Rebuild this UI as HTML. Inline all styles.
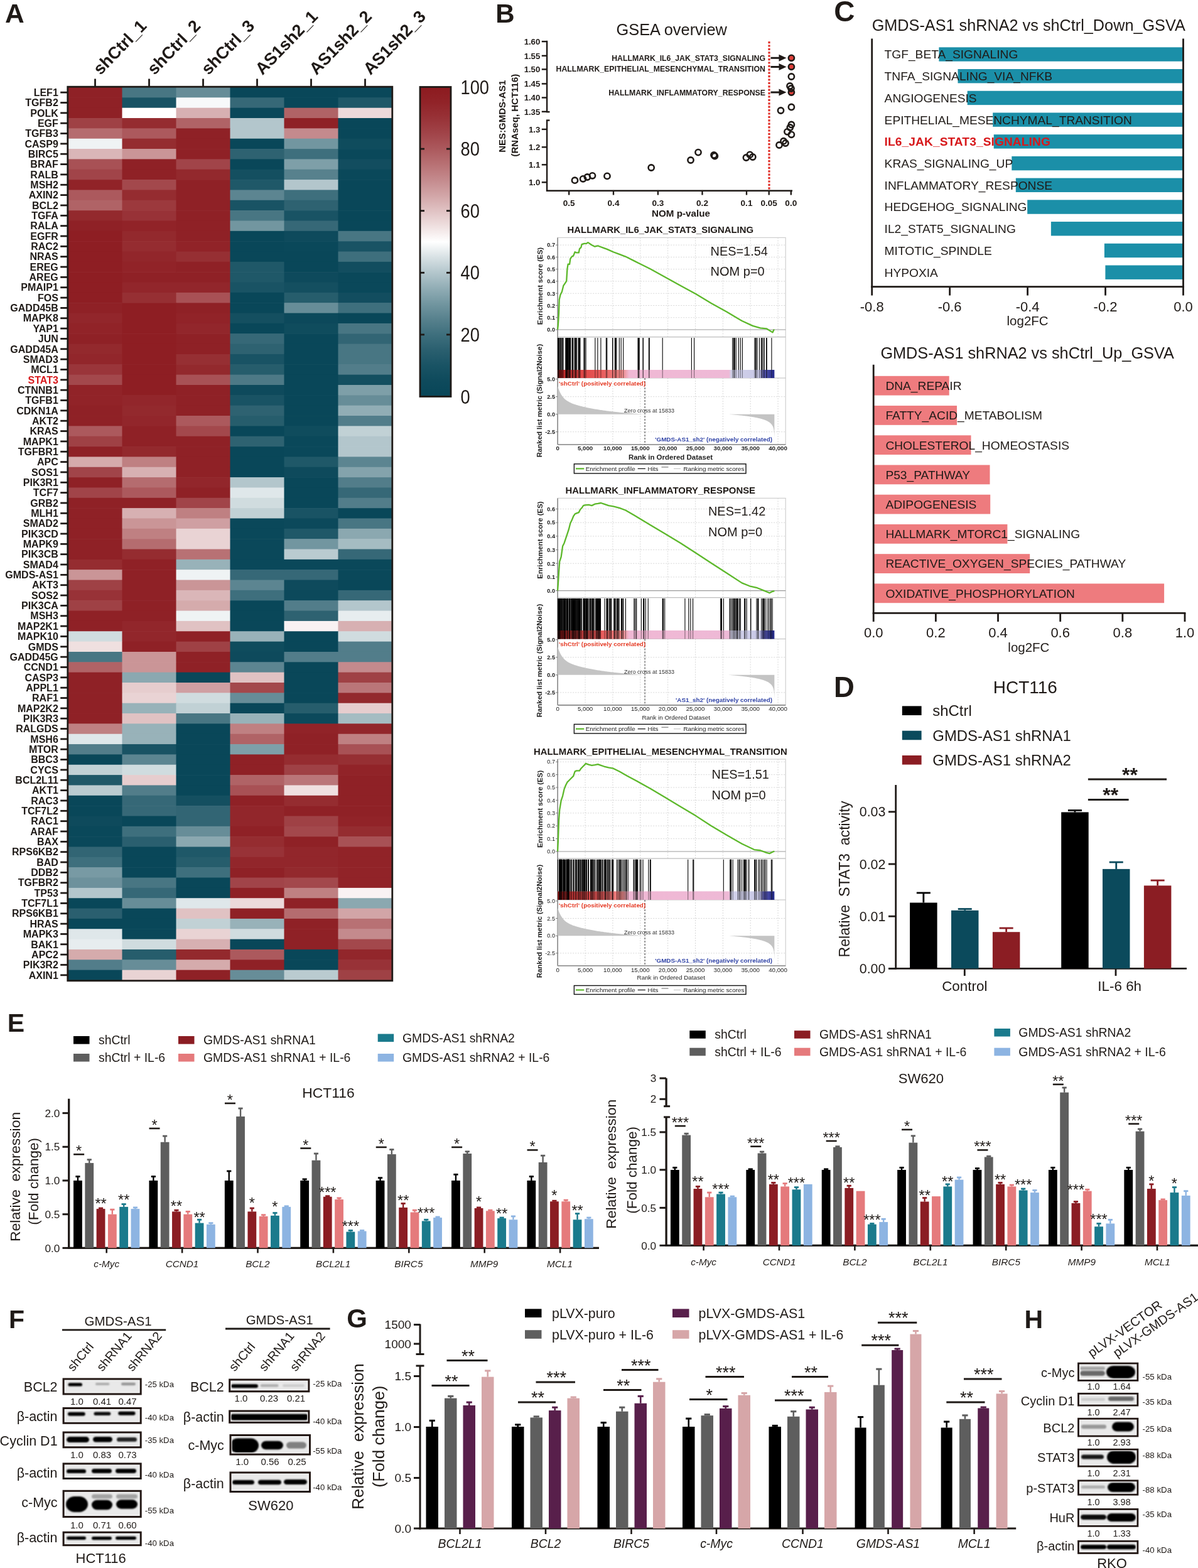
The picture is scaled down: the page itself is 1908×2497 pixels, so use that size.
<!DOCTYPE html>
<html><head><meta charset="utf-8"><title>Figure</title>
<style>
html,body{margin:0;padding:0;background:#fff;}
body{width:1908px;height:2497px;overflow:hidden;}
svg{display:block;font-family:"Liberation Sans",Arial,Helvetica,sans-serif;}
</style></head><body>
<svg width="1908" height="2497" viewBox="0 0 1908 2497" fill="#1f1a17">
<rect x="0" y="0" width="1908" height="2497" fill="#fff"/>
<rect x="108.50" y="139.00" width="86.60" height="16.94" fill="#8f2126"/>
<rect x="194.50" y="139.00" width="86.60" height="16.94" fill="#487683"/>
<rect x="280.50" y="139.00" width="86.60" height="16.94" fill="#678d98"/>
<rect x="366.50" y="139.00" width="86.60" height="16.94" fill="#094759"/>
<rect x="452.50" y="139.00" width="86.60" height="16.94" fill="#094759"/>
<rect x="538.50" y="139.00" width="86.60" height="16.94" fill="#0a485a"/>
<rect x="108.50" y="155.34" width="86.60" height="16.94" fill="#8f2126"/>
<rect x="194.50" y="155.34" width="86.60" height="16.94" fill="#195364"/>
<rect x="280.50" y="155.34" width="86.60" height="16.94" fill="#f7f9fa"/>
<rect x="366.50" y="155.34" width="86.60" height="16.94" fill="#366877"/>
<rect x="452.50" y="155.34" width="86.60" height="16.94" fill="#094759"/>
<rect x="538.50" y="155.34" width="86.60" height="16.94" fill="#1f5868"/>
<rect x="108.50" y="171.69" width="86.60" height="16.94" fill="#8f2126"/>
<rect x="194.50" y="171.69" width="86.60" height="16.94" fill="#ffffff"/>
<rect x="280.50" y="171.69" width="86.60" height="16.94" fill="#d7b0b2"/>
<rect x="366.50" y="171.69" width="86.60" height="16.94" fill="#0a485a"/>
<rect x="452.50" y="171.69" width="86.60" height="16.94" fill="#b06366"/>
<rect x="538.50" y="171.69" width="86.60" height="16.94" fill="#ecd9da"/>
<rect x="108.50" y="188.03" width="86.60" height="16.94" fill="#9f4145"/>
<rect x="194.50" y="188.03" width="86.60" height="16.94" fill="#952c30"/>
<rect x="280.50" y="188.03" width="86.60" height="16.94" fill="#b06366"/>
<rect x="366.50" y="188.03" width="86.60" height="16.94" fill="#b3c6cc"/>
<rect x="452.50" y="188.03" width="86.60" height="16.94" fill="#8f2126"/>
<rect x="538.50" y="188.03" width="86.60" height="16.94" fill="#094759"/>
<rect x="108.50" y="204.38" width="86.60" height="16.94" fill="#b56c6f"/>
<rect x="194.50" y="204.38" width="86.60" height="16.94" fill="#ac595d"/>
<rect x="280.50" y="204.38" width="86.60" height="16.94" fill="#8f2126"/>
<rect x="366.50" y="204.38" width="86.60" height="16.94" fill="#b3c6cc"/>
<rect x="452.50" y="204.38" width="86.60" height="16.94" fill="#c48a8d"/>
<rect x="538.50" y="204.38" width="86.60" height="16.94" fill="#094759"/>
<rect x="108.50" y="220.72" width="86.60" height="16.94" fill="#eff3f4"/>
<rect x="194.50" y="220.72" width="86.60" height="16.94" fill="#952c30"/>
<rect x="280.50" y="220.72" width="86.60" height="16.94" fill="#8f2126"/>
<rect x="366.50" y="220.72" width="86.60" height="16.94" fill="#094759"/>
<rect x="452.50" y="220.72" width="86.60" height="16.94" fill="#7296a0"/>
<rect x="538.50" y="220.72" width="86.60" height="16.94" fill="#0f4c5d"/>
<rect x="108.50" y="237.07" width="86.60" height="16.94" fill="#dab6b8"/>
<rect x="194.50" y="237.07" width="86.60" height="16.94" fill="#ca9597"/>
<rect x="280.50" y="237.07" width="86.60" height="16.94" fill="#8f2126"/>
<rect x="366.50" y="237.07" width="86.60" height="16.94" fill="#2e6271"/>
<rect x="452.50" y="237.07" width="86.60" height="16.94" fill="#3e6f7d"/>
<rect x="538.50" y="237.07" width="86.60" height="16.94" fill="#0a485a"/>
<rect x="108.50" y="253.41" width="86.60" height="16.94" fill="#a85155"/>
<rect x="194.50" y="253.41" width="86.60" height="16.94" fill="#8f2126"/>
<rect x="280.50" y="253.41" width="86.60" height="16.94" fill="#a14449"/>
<rect x="366.50" y="253.41" width="86.60" height="16.94" fill="#094759"/>
<rect x="452.50" y="253.41" width="86.60" height="16.94" fill="#7e9fa8"/>
<rect x="538.50" y="253.41" width="86.60" height="16.94" fill="#124d5f"/>
<rect x="108.50" y="269.76" width="86.60" height="16.94" fill="#a14449"/>
<rect x="194.50" y="269.76" width="86.60" height="16.94" fill="#8f2126"/>
<rect x="280.50" y="269.76" width="86.60" height="16.94" fill="#93292d"/>
<rect x="366.50" y="269.76" width="86.60" height="16.94" fill="#144f60"/>
<rect x="452.50" y="269.76" width="86.60" height="16.94" fill="#57818d"/>
<rect x="538.50" y="269.76" width="86.60" height="16.94" fill="#0a485a"/>
<rect x="108.50" y="286.10" width="86.60" height="16.94" fill="#912328"/>
<rect x="194.50" y="286.10" width="86.60" height="16.94" fill="#a3484c"/>
<rect x="280.50" y="286.10" width="86.60" height="16.94" fill="#8f2126"/>
<rect x="366.50" y="286.10" width="86.60" height="16.94" fill="#1f5868"/>
<rect x="452.50" y="286.10" width="86.60" height="16.94" fill="#b3c6cc"/>
<rect x="538.50" y="286.10" width="86.60" height="16.94" fill="#094759"/>
<rect x="108.50" y="302.45" width="86.60" height="16.94" fill="#ac595d"/>
<rect x="194.50" y="302.45" width="86.60" height="16.94" fill="#952c30"/>
<rect x="280.50" y="302.45" width="86.60" height="16.94" fill="#8f2126"/>
<rect x="366.50" y="302.45" width="86.60" height="16.94" fill="#5c8591"/>
<rect x="452.50" y="302.45" width="86.60" height="16.94" fill="#3e6f7d"/>
<rect x="538.50" y="302.45" width="86.60" height="16.94" fill="#094759"/>
<rect x="108.50" y="318.79" width="86.60" height="16.94" fill="#b06366"/>
<rect x="194.50" y="318.79" width="86.60" height="16.94" fill="#9c393d"/>
<rect x="280.50" y="318.79" width="86.60" height="16.94" fill="#8f2126"/>
<rect x="366.50" y="318.79" width="86.60" height="16.94" fill="#195364"/>
<rect x="452.50" y="318.79" width="86.60" height="16.94" fill="#2e6271"/>
<rect x="538.50" y="318.79" width="86.60" height="16.94" fill="#094759"/>
<rect x="108.50" y="335.14" width="86.60" height="16.94" fill="#93292d"/>
<rect x="194.50" y="335.14" width="86.60" height="16.94" fill="#983237"/>
<rect x="280.50" y="335.14" width="86.60" height="16.94" fill="#8f2126"/>
<rect x="366.50" y="335.14" width="86.60" height="16.94" fill="#487683"/>
<rect x="452.50" y="335.14" width="86.60" height="16.94" fill="#195364"/>
<rect x="538.50" y="335.14" width="86.60" height="16.94" fill="#094759"/>
<rect x="108.50" y="351.48" width="86.60" height="16.94" fill="#8f2126"/>
<rect x="194.50" y="351.48" width="86.60" height="16.94" fill="#912328"/>
<rect x="280.50" y="351.48" width="86.60" height="16.94" fill="#8f2126"/>
<rect x="366.50" y="351.48" width="86.60" height="16.94" fill="#7296a0"/>
<rect x="452.50" y="351.48" width="86.60" height="16.94" fill="#366877"/>
<rect x="538.50" y="351.48" width="86.60" height="16.94" fill="#094759"/>
<rect x="108.50" y="367.83" width="86.60" height="16.94" fill="#8e1e23"/>
<rect x="194.50" y="367.83" width="86.60" height="16.94" fill="#93292d"/>
<rect x="280.50" y="367.83" width="86.60" height="16.94" fill="#8f2126"/>
<rect x="366.50" y="367.83" width="86.60" height="16.94" fill="#094759"/>
<rect x="452.50" y="367.83" width="86.60" height="16.94" fill="#0e4a5c"/>
<rect x="538.50" y="367.83" width="86.60" height="16.94" fill="#487683"/>
<rect x="108.50" y="384.17" width="86.60" height="16.94" fill="#8e1e23"/>
<rect x="194.50" y="384.17" width="86.60" height="16.94" fill="#952c30"/>
<rect x="280.50" y="384.17" width="86.60" height="16.94" fill="#912328"/>
<rect x="366.50" y="384.17" width="86.60" height="16.94" fill="#094759"/>
<rect x="452.50" y="384.17" width="86.60" height="16.94" fill="#0a485a"/>
<rect x="538.50" y="384.17" width="86.60" height="16.94" fill="#195364"/>
<rect x="108.50" y="400.52" width="86.60" height="16.94" fill="#8e1e23"/>
<rect x="194.50" y="400.52" width="86.60" height="16.94" fill="#92262b"/>
<rect x="280.50" y="400.52" width="86.60" height="16.94" fill="#962f33"/>
<rect x="366.50" y="400.52" width="86.60" height="16.94" fill="#094759"/>
<rect x="452.50" y="400.52" width="86.60" height="16.94" fill="#094759"/>
<rect x="538.50" y="400.52" width="86.60" height="16.94" fill="#3e6f7d"/>
<rect x="108.50" y="416.86" width="86.60" height="16.94" fill="#8e1e23"/>
<rect x="194.50" y="416.86" width="86.60" height="16.94" fill="#912328"/>
<rect x="280.50" y="416.86" width="86.60" height="16.94" fill="#8f2126"/>
<rect x="366.50" y="416.86" width="86.60" height="16.94" fill="#1f5868"/>
<rect x="452.50" y="416.86" width="86.60" height="16.94" fill="#094759"/>
<rect x="538.50" y="416.86" width="86.60" height="16.94" fill="#124d5f"/>
<rect x="108.50" y="433.21" width="86.60" height="16.94" fill="#8e1e23"/>
<rect x="194.50" y="433.21" width="86.60" height="16.94" fill="#8f2126"/>
<rect x="280.50" y="433.21" width="86.60" height="16.94" fill="#8f2126"/>
<rect x="366.50" y="433.21" width="86.60" height="16.94" fill="#1f5868"/>
<rect x="452.50" y="433.21" width="86.60" height="16.94" fill="#0e4a5c"/>
<rect x="538.50" y="433.21" width="86.60" height="16.94" fill="#0a485a"/>
<rect x="108.50" y="449.55" width="86.60" height="16.94" fill="#8e1e23"/>
<rect x="194.50" y="449.55" width="86.60" height="16.94" fill="#92262b"/>
<rect x="280.50" y="449.55" width="86.60" height="16.94" fill="#92262b"/>
<rect x="366.50" y="449.55" width="86.60" height="16.94" fill="#195364"/>
<rect x="452.50" y="449.55" width="86.60" height="16.94" fill="#144f60"/>
<rect x="538.50" y="449.55" width="86.60" height="16.94" fill="#0a485a"/>
<rect x="108.50" y="465.90" width="86.60" height="16.94" fill="#8e1e23"/>
<rect x="194.50" y="465.90" width="86.60" height="16.94" fill="#962f33"/>
<rect x="280.50" y="465.90" width="86.60" height="16.94" fill="#a85155"/>
<rect x="366.50" y="465.90" width="86.60" height="16.94" fill="#094759"/>
<rect x="452.50" y="465.90" width="86.60" height="16.94" fill="#265d6c"/>
<rect x="538.50" y="465.90" width="86.60" height="16.94" fill="#124d5f"/>
<rect x="108.50" y="482.24" width="86.60" height="16.94" fill="#8f2126"/>
<rect x="194.50" y="482.24" width="86.60" height="16.94" fill="#8e1e23"/>
<rect x="280.50" y="482.24" width="86.60" height="16.94" fill="#8f2126"/>
<rect x="366.50" y="482.24" width="86.60" height="16.94" fill="#094759"/>
<rect x="452.50" y="482.24" width="86.60" height="16.94" fill="#678d98"/>
<rect x="538.50" y="482.24" width="86.60" height="16.94" fill="#3e6f7d"/>
<rect x="108.50" y="498.59" width="86.60" height="16.94" fill="#92262b"/>
<rect x="194.50" y="498.59" width="86.60" height="16.94" fill="#8e1e23"/>
<rect x="280.50" y="498.59" width="86.60" height="16.94" fill="#912328"/>
<rect x="366.50" y="498.59" width="86.60" height="16.94" fill="#144f60"/>
<rect x="452.50" y="498.59" width="86.60" height="16.94" fill="#0c495b"/>
<rect x="538.50" y="498.59" width="86.60" height="16.94" fill="#094759"/>
<rect x="108.50" y="514.93" width="86.60" height="16.94" fill="#912328"/>
<rect x="194.50" y="514.93" width="86.60" height="16.94" fill="#8e1e23"/>
<rect x="280.50" y="514.93" width="86.60" height="16.94" fill="#92262b"/>
<rect x="366.50" y="514.93" width="86.60" height="16.94" fill="#094759"/>
<rect x="452.50" y="514.93" width="86.60" height="16.94" fill="#0f4c5d"/>
<rect x="538.50" y="514.93" width="86.60" height="16.94" fill="#487683"/>
<rect x="108.50" y="531.28" width="86.60" height="16.94" fill="#8f2126"/>
<rect x="194.50" y="531.28" width="86.60" height="16.94" fill="#8e1e23"/>
<rect x="280.50" y="531.28" width="86.60" height="16.94" fill="#8f2126"/>
<rect x="366.50" y="531.28" width="86.60" height="16.94" fill="#366877"/>
<rect x="452.50" y="531.28" width="86.60" height="16.94" fill="#094759"/>
<rect x="538.50" y="531.28" width="86.60" height="16.94" fill="#326574"/>
<rect x="108.50" y="547.62" width="86.60" height="16.94" fill="#93292d"/>
<rect x="194.50" y="547.62" width="86.60" height="16.94" fill="#8e1e23"/>
<rect x="280.50" y="547.62" width="86.60" height="16.94" fill="#8f2126"/>
<rect x="366.50" y="547.62" width="86.60" height="16.94" fill="#2e6271"/>
<rect x="452.50" y="547.62" width="86.60" height="16.94" fill="#094759"/>
<rect x="538.50" y="547.62" width="86.60" height="16.94" fill="#487683"/>
<rect x="108.50" y="563.97" width="86.60" height="16.94" fill="#92262b"/>
<rect x="194.50" y="563.97" width="86.60" height="16.94" fill="#8e1e23"/>
<rect x="280.50" y="563.97" width="86.60" height="16.94" fill="#962f33"/>
<rect x="366.50" y="563.97" width="86.60" height="16.94" fill="#195364"/>
<rect x="452.50" y="563.97" width="86.60" height="16.94" fill="#094759"/>
<rect x="538.50" y="563.97" width="86.60" height="16.94" fill="#487683"/>
<rect x="108.50" y="580.31" width="86.60" height="16.94" fill="#9a353a"/>
<rect x="194.50" y="580.31" width="86.60" height="16.94" fill="#8e1e23"/>
<rect x="280.50" y="580.31" width="86.60" height="16.94" fill="#93292d"/>
<rect x="366.50" y="580.31" width="86.60" height="16.94" fill="#265d6c"/>
<rect x="452.50" y="580.31" width="86.60" height="16.94" fill="#094759"/>
<rect x="538.50" y="580.31" width="86.60" height="16.94" fill="#527d8a"/>
<rect x="108.50" y="596.66" width="86.60" height="16.94" fill="#a3484c"/>
<rect x="194.50" y="596.66" width="86.60" height="16.94" fill="#8e1e23"/>
<rect x="280.50" y="596.66" width="86.60" height="16.94" fill="#a85155"/>
<rect x="366.50" y="596.66" width="86.60" height="16.94" fill="#4d7986"/>
<rect x="452.50" y="596.66" width="86.60" height="16.94" fill="#094759"/>
<rect x="538.50" y="596.66" width="86.60" height="16.94" fill="#144f60"/>
<rect x="108.50" y="613.00" width="86.60" height="16.94" fill="#912328"/>
<rect x="194.50" y="613.00" width="86.60" height="16.94" fill="#8e1e23"/>
<rect x="280.50" y="613.00" width="86.60" height="16.94" fill="#8f2126"/>
<rect x="366.50" y="613.00" width="86.60" height="16.94" fill="#0e4a5c"/>
<rect x="452.50" y="613.00" width="86.60" height="16.94" fill="#094759"/>
<rect x="538.50" y="613.00" width="86.60" height="16.94" fill="#7e9fa8"/>
<rect x="108.50" y="629.34" width="86.60" height="16.94" fill="#912328"/>
<rect x="194.50" y="629.34" width="86.60" height="16.94" fill="#92262b"/>
<rect x="280.50" y="629.34" width="86.60" height="16.94" fill="#8f2126"/>
<rect x="366.50" y="629.34" width="86.60" height="16.94" fill="#195364"/>
<rect x="452.50" y="629.34" width="86.60" height="16.94" fill="#094759"/>
<rect x="538.50" y="629.34" width="86.60" height="16.94" fill="#678d98"/>
<rect x="108.50" y="645.69" width="86.60" height="16.94" fill="#8f2126"/>
<rect x="194.50" y="645.69" width="86.60" height="16.94" fill="#93292d"/>
<rect x="280.50" y="645.69" width="86.60" height="16.94" fill="#8f2126"/>
<rect x="366.50" y="645.69" width="86.60" height="16.94" fill="#2e6271"/>
<rect x="452.50" y="645.69" width="86.60" height="16.94" fill="#094759"/>
<rect x="538.50" y="645.69" width="86.60" height="16.94" fill="#91adb5"/>
<rect x="108.50" y="662.03" width="86.60" height="16.94" fill="#8f2126"/>
<rect x="194.50" y="662.03" width="86.60" height="16.94" fill="#92262b"/>
<rect x="280.50" y="662.03" width="86.60" height="16.94" fill="#ac595d"/>
<rect x="366.50" y="662.03" width="86.60" height="16.94" fill="#265d6c"/>
<rect x="452.50" y="662.03" width="86.60" height="16.94" fill="#094759"/>
<rect x="538.50" y="662.03" width="86.60" height="16.94" fill="#527d8a"/>
<rect x="108.50" y="678.38" width="86.60" height="16.94" fill="#ac595d"/>
<rect x="194.50" y="678.38" width="86.60" height="16.94" fill="#8f2126"/>
<rect x="280.50" y="678.38" width="86.60" height="16.94" fill="#a3484c"/>
<rect x="366.50" y="678.38" width="86.60" height="16.94" fill="#094759"/>
<rect x="452.50" y="678.38" width="86.60" height="16.94" fill="#0f4c5d"/>
<rect x="538.50" y="678.38" width="86.60" height="16.94" fill="#c1d1d5"/>
<rect x="108.50" y="694.72" width="86.60" height="16.94" fill="#9f4145"/>
<rect x="194.50" y="694.72" width="86.60" height="16.94" fill="#8f2126"/>
<rect x="280.50" y="694.72" width="86.60" height="16.94" fill="#8f2126"/>
<rect x="366.50" y="694.72" width="86.60" height="16.94" fill="#2e6271"/>
<rect x="452.50" y="694.72" width="86.60" height="16.94" fill="#0a485a"/>
<rect x="538.50" y="694.72" width="86.60" height="16.94" fill="#b3c6cc"/>
<rect x="108.50" y="711.07" width="86.60" height="16.94" fill="#8f2126"/>
<rect x="194.50" y="711.07" width="86.60" height="16.94" fill="#93292d"/>
<rect x="280.50" y="711.07" width="86.60" height="16.94" fill="#8f2126"/>
<rect x="366.50" y="711.07" width="86.60" height="16.94" fill="#094759"/>
<rect x="452.50" y="711.07" width="86.60" height="16.94" fill="#0a485a"/>
<rect x="538.50" y="711.07" width="86.60" height="16.94" fill="#b3c6cc"/>
<rect x="108.50" y="727.41" width="86.60" height="16.94" fill="#d5abac"/>
<rect x="194.50" y="727.41" width="86.60" height="16.94" fill="#bf8082"/>
<rect x="280.50" y="727.41" width="86.60" height="16.94" fill="#8f2126"/>
<rect x="366.50" y="727.41" width="86.60" height="16.94" fill="#094759"/>
<rect x="452.50" y="727.41" width="86.60" height="16.94" fill="#1f5868"/>
<rect x="538.50" y="727.41" width="86.60" height="16.94" fill="#5c8591"/>
<rect x="108.50" y="743.76" width="86.60" height="16.94" fill="#a14449"/>
<rect x="194.50" y="743.76" width="86.60" height="16.94" fill="#d7b0b2"/>
<rect x="280.50" y="743.76" width="86.60" height="16.94" fill="#8f2126"/>
<rect x="366.50" y="743.76" width="86.60" height="16.94" fill="#094759"/>
<rect x="452.50" y="743.76" width="86.60" height="16.94" fill="#0e4a5c"/>
<rect x="538.50" y="743.76" width="86.60" height="16.94" fill="#84a3ac"/>
<rect x="108.50" y="760.10" width="86.60" height="16.94" fill="#8f2126"/>
<rect x="194.50" y="760.10" width="86.60" height="16.94" fill="#b56c6f"/>
<rect x="280.50" y="760.10" width="86.60" height="16.94" fill="#92262b"/>
<rect x="366.50" y="760.10" width="86.60" height="16.94" fill="#b3c6cc"/>
<rect x="452.50" y="760.10" width="86.60" height="16.94" fill="#094759"/>
<rect x="538.50" y="760.10" width="86.60" height="16.94" fill="#527d8a"/>
<rect x="108.50" y="776.45" width="86.60" height="16.94" fill="#a14449"/>
<rect x="194.50" y="776.45" width="86.60" height="16.94" fill="#ac595d"/>
<rect x="280.50" y="776.45" width="86.60" height="16.94" fill="#8f2126"/>
<rect x="366.50" y="776.45" width="86.60" height="16.94" fill="#dfe7ea"/>
<rect x="452.50" y="776.45" width="86.60" height="16.94" fill="#094759"/>
<rect x="538.50" y="776.45" width="86.60" height="16.94" fill="#366877"/>
<rect x="108.50" y="792.79" width="86.60" height="16.94" fill="#8f2126"/>
<rect x="194.50" y="792.79" width="86.60" height="16.94" fill="#8f2126"/>
<rect x="280.50" y="792.79" width="86.60" height="16.94" fill="#a14449"/>
<rect x="366.50" y="792.79" width="86.60" height="16.94" fill="#d0dcdf"/>
<rect x="452.50" y="792.79" width="86.60" height="16.94" fill="#094759"/>
<rect x="538.50" y="792.79" width="86.60" height="16.94" fill="#527d8a"/>
<rect x="108.50" y="809.14" width="86.60" height="16.94" fill="#8f2126"/>
<rect x="194.50" y="809.14" width="86.60" height="16.94" fill="#d7b0b2"/>
<rect x="280.50" y="809.14" width="86.60" height="16.94" fill="#bf8082"/>
<rect x="366.50" y="809.14" width="86.60" height="16.94" fill="#c1d1d5"/>
<rect x="452.50" y="809.14" width="86.60" height="16.94" fill="#195364"/>
<rect x="538.50" y="809.14" width="86.60" height="16.94" fill="#094759"/>
<rect x="108.50" y="825.48" width="86.60" height="16.94" fill="#8f2126"/>
<rect x="194.50" y="825.48" width="86.60" height="16.94" fill="#ca9597"/>
<rect x="280.50" y="825.48" width="86.60" height="16.94" fill="#cf9fa2"/>
<rect x="366.50" y="825.48" width="86.60" height="16.94" fill="#0a485a"/>
<rect x="452.50" y="825.48" width="86.60" height="16.94" fill="#0c495b"/>
<rect x="538.50" y="825.48" width="86.60" height="16.94" fill="#487683"/>
<rect x="108.50" y="841.83" width="86.60" height="16.94" fill="#8f2126"/>
<rect x="194.50" y="841.83" width="86.60" height="16.94" fill="#bf8082"/>
<rect x="280.50" y="841.83" width="86.60" height="16.94" fill="#e9d3d4"/>
<rect x="366.50" y="841.83" width="86.60" height="16.94" fill="#0a485a"/>
<rect x="452.50" y="841.83" width="86.60" height="16.94" fill="#1f5868"/>
<rect x="538.50" y="841.83" width="86.60" height="16.94" fill="#8ba8b0"/>
<rect x="108.50" y="858.17" width="86.60" height="16.94" fill="#8f2126"/>
<rect x="194.50" y="858.17" width="86.60" height="16.94" fill="#b56c6f"/>
<rect x="280.50" y="858.17" width="86.60" height="16.94" fill="#e9d3d4"/>
<rect x="366.50" y="858.17" width="86.60" height="16.94" fill="#0a485a"/>
<rect x="452.50" y="858.17" width="86.60" height="16.94" fill="#7296a0"/>
<rect x="538.50" y="858.17" width="86.60" height="16.94" fill="#a5bcc2"/>
<rect x="108.50" y="874.52" width="86.60" height="16.94" fill="#8f2126"/>
<rect x="194.50" y="874.52" width="86.60" height="16.94" fill="#952c30"/>
<rect x="280.50" y="874.52" width="86.60" height="16.94" fill="#b87174"/>
<rect x="366.50" y="874.52" width="86.60" height="16.94" fill="#0a485a"/>
<rect x="452.50" y="874.52" width="86.60" height="16.94" fill="#bacbd0"/>
<rect x="538.50" y="874.52" width="86.60" height="16.94" fill="#366877"/>
<rect x="108.50" y="890.86" width="86.60" height="16.94" fill="#952c30"/>
<rect x="194.50" y="890.86" width="86.60" height="16.94" fill="#8f2126"/>
<rect x="280.50" y="890.86" width="86.60" height="16.94" fill="#98b2b9"/>
<rect x="366.50" y="890.86" width="86.60" height="16.94" fill="#0a485a"/>
<rect x="452.50" y="890.86" width="86.60" height="16.94" fill="#0a485a"/>
<rect x="538.50" y="890.86" width="86.60" height="16.94" fill="#0a485a"/>
<rect x="108.50" y="907.21" width="86.60" height="16.94" fill="#ca9597"/>
<rect x="194.50" y="907.21" width="86.60" height="16.94" fill="#8f2126"/>
<rect x="280.50" y="907.21" width="86.60" height="16.94" fill="#eff3f4"/>
<rect x="366.50" y="907.21" width="86.60" height="16.94" fill="#366877"/>
<rect x="452.50" y="907.21" width="86.60" height="16.94" fill="#366877"/>
<rect x="538.50" y="907.21" width="86.60" height="16.94" fill="#0a485a"/>
<rect x="108.50" y="923.55" width="86.60" height="16.94" fill="#9f4145"/>
<rect x="194.50" y="923.55" width="86.60" height="16.94" fill="#8f2126"/>
<rect x="280.50" y="923.55" width="86.60" height="16.94" fill="#ca9597"/>
<rect x="366.50" y="923.55" width="86.60" height="16.94" fill="#5c8591"/>
<rect x="452.50" y="923.55" width="86.60" height="16.94" fill="#0e4a5c"/>
<rect x="538.50" y="923.55" width="86.60" height="16.94" fill="#094759"/>
<rect x="108.50" y="939.90" width="86.60" height="16.94" fill="#983237"/>
<rect x="194.50" y="939.90" width="86.60" height="16.94" fill="#8f2126"/>
<rect x="280.50" y="939.90" width="86.60" height="16.94" fill="#dab6b8"/>
<rect x="366.50" y="939.90" width="86.60" height="16.94" fill="#3e6f7d"/>
<rect x="452.50" y="939.90" width="86.60" height="16.94" fill="#0c495b"/>
<rect x="538.50" y="939.90" width="86.60" height="16.94" fill="#366877"/>
<rect x="108.50" y="956.24" width="86.60" height="16.94" fill="#9f4145"/>
<rect x="194.50" y="956.24" width="86.60" height="16.94" fill="#8f2126"/>
<rect x="280.50" y="956.24" width="86.60" height="16.94" fill="#d5abac"/>
<rect x="366.50" y="956.24" width="86.60" height="16.94" fill="#094759"/>
<rect x="452.50" y="956.24" width="86.60" height="16.94" fill="#527d8a"/>
<rect x="538.50" y="956.24" width="86.60" height="16.94" fill="#b3c6cc"/>
<rect x="108.50" y="972.59" width="86.60" height="16.94" fill="#8f2126"/>
<rect x="194.50" y="972.59" width="86.60" height="16.94" fill="#8f2126"/>
<rect x="280.50" y="972.59" width="86.60" height="16.94" fill="#eff3f4"/>
<rect x="366.50" y="972.59" width="86.60" height="16.94" fill="#094759"/>
<rect x="452.50" y="972.59" width="86.60" height="16.94" fill="#2e6271"/>
<rect x="538.50" y="972.59" width="86.60" height="16.94" fill="#e7edef"/>
<rect x="108.50" y="988.93" width="86.60" height="16.94" fill="#8f2126"/>
<rect x="194.50" y="988.93" width="86.60" height="16.94" fill="#92262b"/>
<rect x="280.50" y="988.93" width="86.60" height="16.94" fill="#e0c2c3"/>
<rect x="366.50" y="988.93" width="86.60" height="16.94" fill="#094759"/>
<rect x="452.50" y="988.93" width="86.60" height="16.94" fill="#f9f2f3"/>
<rect x="538.50" y="988.93" width="86.60" height="16.94" fill="#d7b0b2"/>
<rect x="108.50" y="1005.28" width="86.60" height="16.94" fill="#d0dcdf"/>
<rect x="194.50" y="1005.28" width="86.60" height="16.94" fill="#92262b"/>
<rect x="280.50" y="1005.28" width="86.60" height="16.94" fill="#8f2126"/>
<rect x="366.50" y="1005.28" width="86.60" height="16.94" fill="#98b2b9"/>
<rect x="452.50" y="1005.28" width="86.60" height="16.94" fill="#094759"/>
<rect x="538.50" y="1005.28" width="86.60" height="16.94" fill="#d0dcdf"/>
<rect x="108.50" y="1021.62" width="86.60" height="16.94" fill="#efe0e0"/>
<rect x="194.50" y="1021.62" width="86.60" height="16.94" fill="#8f2126"/>
<rect x="280.50" y="1021.62" width="86.60" height="16.94" fill="#9f4145"/>
<rect x="366.50" y="1021.62" width="86.60" height="16.94" fill="#0f4c5d"/>
<rect x="452.50" y="1021.62" width="86.60" height="16.94" fill="#094759"/>
<rect x="538.50" y="1021.62" width="86.60" height="16.94" fill="#527d8a"/>
<rect x="108.50" y="1037.97" width="86.60" height="16.94" fill="#487683"/>
<rect x="194.50" y="1037.97" width="86.60" height="16.94" fill="#ca9597"/>
<rect x="280.50" y="1037.97" width="86.60" height="16.94" fill="#8f2126"/>
<rect x="366.50" y="1037.97" width="86.60" height="16.94" fill="#0e4a5c"/>
<rect x="452.50" y="1037.97" width="86.60" height="16.94" fill="#527d8a"/>
<rect x="538.50" y="1037.97" width="86.60" height="16.94" fill="#527d8a"/>
<rect x="108.50" y="1054.31" width="86.60" height="16.94" fill="#b06366"/>
<rect x="194.50" y="1054.31" width="86.60" height="16.94" fill="#ca9597"/>
<rect x="280.50" y="1054.31" width="86.60" height="16.94" fill="#8f2126"/>
<rect x="366.50" y="1054.31" width="86.60" height="16.94" fill="#5c8591"/>
<rect x="452.50" y="1054.31" width="86.60" height="16.94" fill="#094759"/>
<rect x="538.50" y="1054.31" width="86.60" height="16.94" fill="#c48a8d"/>
<rect x="108.50" y="1070.66" width="86.60" height="16.94" fill="#8f2126"/>
<rect x="194.50" y="1070.66" width="86.60" height="16.94" fill="#8ba8b0"/>
<rect x="280.50" y="1070.66" width="86.60" height="16.94" fill="#094759"/>
<rect x="366.50" y="1070.66" width="86.60" height="16.94" fill="#e0c2c3"/>
<rect x="452.50" y="1070.66" width="86.60" height="16.94" fill="#094759"/>
<rect x="538.50" y="1070.66" width="86.60" height="16.94" fill="#9f4145"/>
<rect x="108.50" y="1087.00" width="86.60" height="16.94" fill="#8f2126"/>
<rect x="194.50" y="1087.00" width="86.60" height="16.94" fill="#e6cdce"/>
<rect x="280.50" y="1087.00" width="86.60" height="16.94" fill="#cf9fa2"/>
<rect x="366.50" y="1087.00" width="86.60" height="16.94" fill="#a3484c"/>
<rect x="452.50" y="1087.00" width="86.60" height="16.94" fill="#094759"/>
<rect x="538.50" y="1087.00" width="86.60" height="16.94" fill="#ba7679"/>
<rect x="108.50" y="1103.34" width="86.60" height="16.94" fill="#8f2126"/>
<rect x="194.50" y="1103.34" width="86.60" height="16.94" fill="#e9d3d4"/>
<rect x="280.50" y="1103.34" width="86.60" height="16.94" fill="#d0dcdf"/>
<rect x="366.50" y="1103.34" width="86.60" height="16.94" fill="#678d98"/>
<rect x="452.50" y="1103.34" width="86.60" height="16.94" fill="#094759"/>
<rect x="538.50" y="1103.34" width="86.60" height="16.94" fill="#93292d"/>
<rect x="108.50" y="1119.69" width="86.60" height="16.94" fill="#8f2126"/>
<rect x="194.50" y="1119.69" width="86.60" height="16.94" fill="#98b2b9"/>
<rect x="280.50" y="1119.69" width="86.60" height="16.94" fill="#c1d1d5"/>
<rect x="366.50" y="1119.69" width="86.60" height="16.94" fill="#094759"/>
<rect x="452.50" y="1119.69" width="86.60" height="16.94" fill="#265d6c"/>
<rect x="538.50" y="1119.69" width="86.60" height="16.94" fill="#e6cdce"/>
<rect x="108.50" y="1136.03" width="86.60" height="16.94" fill="#8f2126"/>
<rect x="194.50" y="1136.03" width="86.60" height="16.94" fill="#e0c2c3"/>
<rect x="280.50" y="1136.03" width="86.60" height="16.94" fill="#487683"/>
<rect x="366.50" y="1136.03" width="86.60" height="16.94" fill="#98b2b9"/>
<rect x="452.50" y="1136.03" width="86.60" height="16.94" fill="#0c495b"/>
<rect x="538.50" y="1136.03" width="86.60" height="16.94" fill="#a5bcc2"/>
<rect x="108.50" y="1152.38" width="86.60" height="16.94" fill="#bf8082"/>
<rect x="194.50" y="1152.38" width="86.60" height="16.94" fill="#98b2b9"/>
<rect x="280.50" y="1152.38" width="86.60" height="16.94" fill="#094759"/>
<rect x="366.50" y="1152.38" width="86.60" height="16.94" fill="#bf8082"/>
<rect x="452.50" y="1152.38" width="86.60" height="16.94" fill="#912328"/>
<rect x="538.50" y="1152.38" width="86.60" height="16.94" fill="#92262b"/>
<rect x="108.50" y="1168.72" width="86.60" height="16.94" fill="#dfe7ea"/>
<rect x="194.50" y="1168.72" width="86.60" height="16.94" fill="#98b2b9"/>
<rect x="280.50" y="1168.72" width="86.60" height="16.94" fill="#094759"/>
<rect x="366.50" y="1168.72" width="86.60" height="16.94" fill="#b06366"/>
<rect x="452.50" y="1168.72" width="86.60" height="16.94" fill="#8f2126"/>
<rect x="538.50" y="1168.72" width="86.60" height="16.94" fill="#bf8082"/>
<rect x="108.50" y="1185.07" width="86.60" height="16.94" fill="#527d8a"/>
<rect x="194.50" y="1185.07" width="86.60" height="16.94" fill="#195364"/>
<rect x="280.50" y="1185.07" width="86.60" height="16.94" fill="#094759"/>
<rect x="366.50" y="1185.07" width="86.60" height="16.94" fill="#7e9fa8"/>
<rect x="452.50" y="1185.07" width="86.60" height="16.94" fill="#8f2126"/>
<rect x="538.50" y="1185.07" width="86.60" height="16.94" fill="#a85155"/>
<rect x="108.50" y="1201.41" width="86.60" height="16.94" fill="#094759"/>
<rect x="194.50" y="1201.41" width="86.60" height="16.94" fill="#5c8591"/>
<rect x="280.50" y="1201.41" width="86.60" height="16.94" fill="#094759"/>
<rect x="366.50" y="1201.41" width="86.60" height="16.94" fill="#8f2126"/>
<rect x="452.50" y="1201.41" width="86.60" height="16.94" fill="#952c30"/>
<rect x="538.50" y="1201.41" width="86.60" height="16.94" fill="#962f33"/>
<rect x="108.50" y="1217.76" width="86.60" height="16.94" fill="#c1d1d5"/>
<rect x="194.50" y="1217.76" width="86.60" height="16.94" fill="#d0dcdf"/>
<rect x="280.50" y="1217.76" width="86.60" height="16.94" fill="#094759"/>
<rect x="366.50" y="1217.76" width="86.60" height="16.94" fill="#8f2126"/>
<rect x="452.50" y="1217.76" width="86.60" height="16.94" fill="#9f4145"/>
<rect x="538.50" y="1217.76" width="86.60" height="16.94" fill="#912328"/>
<rect x="108.50" y="1234.10" width="86.60" height="16.94" fill="#1f5868"/>
<rect x="194.50" y="1234.10" width="86.60" height="16.94" fill="#e6cdce"/>
<rect x="280.50" y="1234.10" width="86.60" height="16.94" fill="#094759"/>
<rect x="366.50" y="1234.10" width="86.60" height="16.94" fill="#b06366"/>
<rect x="452.50" y="1234.10" width="86.60" height="16.94" fill="#ba7679"/>
<rect x="538.50" y="1234.10" width="86.60" height="16.94" fill="#8f2126"/>
<rect x="108.50" y="1250.45" width="86.60" height="16.94" fill="#bacbd0"/>
<rect x="194.50" y="1250.45" width="86.60" height="16.94" fill="#527d8a"/>
<rect x="280.50" y="1250.45" width="86.60" height="16.94" fill="#094759"/>
<rect x="366.50" y="1250.45" width="86.60" height="16.94" fill="#a85155"/>
<rect x="452.50" y="1250.45" width="86.60" height="16.94" fill="#efe0e0"/>
<rect x="538.50" y="1250.45" width="86.60" height="16.94" fill="#8f2126"/>
<rect x="108.50" y="1266.79" width="86.60" height="16.94" fill="#094759"/>
<rect x="194.50" y="1266.79" width="86.60" height="16.94" fill="#366877"/>
<rect x="280.50" y="1266.79" width="86.60" height="16.94" fill="#144f60"/>
<rect x="366.50" y="1266.79" width="86.60" height="16.94" fill="#8f2126"/>
<rect x="452.50" y="1266.79" width="86.60" height="16.94" fill="#952c30"/>
<rect x="538.50" y="1266.79" width="86.60" height="16.94" fill="#8f2126"/>
<rect x="108.50" y="1283.14" width="86.60" height="16.94" fill="#094759"/>
<rect x="194.50" y="1283.14" width="86.60" height="16.94" fill="#366877"/>
<rect x="280.50" y="1283.14" width="86.60" height="16.94" fill="#326574"/>
<rect x="366.50" y="1283.14" width="86.60" height="16.94" fill="#92262b"/>
<rect x="452.50" y="1283.14" width="86.60" height="16.94" fill="#8f2126"/>
<rect x="538.50" y="1283.14" width="86.60" height="16.94" fill="#8f2126"/>
<rect x="108.50" y="1299.48" width="86.60" height="16.94" fill="#0e4a5c"/>
<rect x="194.50" y="1299.48" width="86.60" height="16.94" fill="#094759"/>
<rect x="280.50" y="1299.48" width="86.60" height="16.94" fill="#326574"/>
<rect x="366.50" y="1299.48" width="86.60" height="16.94" fill="#92262b"/>
<rect x="452.50" y="1299.48" width="86.60" height="16.94" fill="#9f4145"/>
<rect x="538.50" y="1299.48" width="86.60" height="16.94" fill="#912328"/>
<rect x="108.50" y="1315.83" width="86.60" height="16.94" fill="#0a485a"/>
<rect x="194.50" y="1315.83" width="86.60" height="16.94" fill="#3e6f7d"/>
<rect x="280.50" y="1315.83" width="86.60" height="16.94" fill="#678d98"/>
<rect x="366.50" y="1315.83" width="86.60" height="16.94" fill="#8f2126"/>
<rect x="452.50" y="1315.83" width="86.60" height="16.94" fill="#a3484c"/>
<rect x="538.50" y="1315.83" width="86.60" height="16.94" fill="#952c30"/>
<rect x="108.50" y="1332.17" width="86.60" height="16.94" fill="#0a485a"/>
<rect x="194.50" y="1332.17" width="86.60" height="16.94" fill="#2a5f6f"/>
<rect x="280.50" y="1332.17" width="86.60" height="16.94" fill="#8ba8b0"/>
<rect x="366.50" y="1332.17" width="86.60" height="16.94" fill="#952c30"/>
<rect x="452.50" y="1332.17" width="86.60" height="16.94" fill="#8f2126"/>
<rect x="538.50" y="1332.17" width="86.60" height="16.94" fill="#a85155"/>
<rect x="108.50" y="1348.52" width="86.60" height="16.94" fill="#326574"/>
<rect x="194.50" y="1348.52" width="86.60" height="16.94" fill="#094759"/>
<rect x="280.50" y="1348.52" width="86.60" height="16.94" fill="#1f5868"/>
<rect x="366.50" y="1348.52" width="86.60" height="16.94" fill="#983237"/>
<rect x="452.50" y="1348.52" width="86.60" height="16.94" fill="#92262b"/>
<rect x="538.50" y="1348.52" width="86.60" height="16.94" fill="#912328"/>
<rect x="108.50" y="1364.86" width="86.60" height="16.94" fill="#3e6f7d"/>
<rect x="194.50" y="1364.86" width="86.60" height="16.94" fill="#094759"/>
<rect x="280.50" y="1364.86" width="86.60" height="16.94" fill="#265d6c"/>
<rect x="366.50" y="1364.86" width="86.60" height="16.94" fill="#92262b"/>
<rect x="452.50" y="1364.86" width="86.60" height="16.94" fill="#92262b"/>
<rect x="538.50" y="1364.86" width="86.60" height="16.94" fill="#912328"/>
<rect x="108.50" y="1381.21" width="86.60" height="16.94" fill="#789aa4"/>
<rect x="194.50" y="1381.21" width="86.60" height="16.94" fill="#094759"/>
<rect x="280.50" y="1381.21" width="86.60" height="16.94" fill="#3e6f7d"/>
<rect x="366.50" y="1381.21" width="86.60" height="16.94" fill="#8f2126"/>
<rect x="452.50" y="1381.21" width="86.60" height="16.94" fill="#93292d"/>
<rect x="538.50" y="1381.21" width="86.60" height="16.94" fill="#912328"/>
<rect x="108.50" y="1397.55" width="86.60" height="16.94" fill="#6d919c"/>
<rect x="194.50" y="1397.55" width="86.60" height="16.94" fill="#487683"/>
<rect x="280.50" y="1397.55" width="86.60" height="16.94" fill="#094759"/>
<rect x="366.50" y="1397.55" width="86.60" height="16.94" fill="#a14449"/>
<rect x="452.50" y="1397.55" width="86.60" height="16.94" fill="#a3484c"/>
<rect x="538.50" y="1397.55" width="86.60" height="16.94" fill="#912328"/>
<rect x="108.50" y="1413.90" width="86.60" height="16.94" fill="#b3c6cc"/>
<rect x="194.50" y="1413.90" width="86.60" height="16.94" fill="#366877"/>
<rect x="280.50" y="1413.90" width="86.60" height="16.94" fill="#094759"/>
<rect x="366.50" y="1413.90" width="86.60" height="16.94" fill="#8f2126"/>
<rect x="452.50" y="1413.90" width="86.60" height="16.94" fill="#bf8082"/>
<rect x="538.50" y="1413.90" width="86.60" height="16.94" fill="#f9f2f3"/>
<rect x="108.50" y="1430.24" width="86.60" height="16.94" fill="#094759"/>
<rect x="194.50" y="1430.24" width="86.60" height="16.94" fill="#678d98"/>
<rect x="280.50" y="1430.24" width="86.60" height="16.94" fill="#dfe7ea"/>
<rect x="366.50" y="1430.24" width="86.60" height="16.94" fill="#ecd9da"/>
<rect x="452.50" y="1430.24" width="86.60" height="16.94" fill="#8f2126"/>
<rect x="538.50" y="1430.24" width="86.60" height="16.94" fill="#8ba8b0"/>
<rect x="108.50" y="1446.59" width="86.60" height="16.94" fill="#2a5f6f"/>
<rect x="194.50" y="1446.59" width="86.60" height="16.94" fill="#094759"/>
<rect x="280.50" y="1446.59" width="86.60" height="16.94" fill="#e0c2c3"/>
<rect x="366.50" y="1446.59" width="86.60" height="16.94" fill="#8f2126"/>
<rect x="452.50" y="1446.59" width="86.60" height="16.94" fill="#b56c6f"/>
<rect x="538.50" y="1446.59" width="86.60" height="16.94" fill="#d2a5a7"/>
<rect x="108.50" y="1462.93" width="86.60" height="16.94" fill="#094759"/>
<rect x="194.50" y="1462.93" width="86.60" height="16.94" fill="#094759"/>
<rect x="280.50" y="1462.93" width="86.60" height="16.94" fill="#c1d1d5"/>
<rect x="366.50" y="1462.93" width="86.60" height="16.94" fill="#98b2b9"/>
<rect x="452.50" y="1462.93" width="86.60" height="16.94" fill="#8f2126"/>
<rect x="538.50" y="1462.93" width="86.60" height="16.94" fill="#b87174"/>
<rect x="108.50" y="1479.28" width="86.60" height="16.94" fill="#dfe7ea"/>
<rect x="194.50" y="1479.28" width="86.60" height="16.94" fill="#094759"/>
<rect x="280.50" y="1479.28" width="86.60" height="16.94" fill="#e9d3d4"/>
<rect x="366.50" y="1479.28" width="86.60" height="16.94" fill="#d0dcdf"/>
<rect x="452.50" y="1479.28" width="86.60" height="16.94" fill="#8f2126"/>
<rect x="538.50" y="1479.28" width="86.60" height="16.94" fill="#c48a8d"/>
<rect x="108.50" y="1495.62" width="86.60" height="16.94" fill="#e7edef"/>
<rect x="194.50" y="1495.62" width="86.60" height="16.94" fill="#d0dcdf"/>
<rect x="280.50" y="1495.62" width="86.60" height="16.94" fill="#d7b0b2"/>
<rect x="366.50" y="1495.62" width="86.60" height="16.94" fill="#094759"/>
<rect x="452.50" y="1495.62" width="86.60" height="16.94" fill="#8f2126"/>
<rect x="538.50" y="1495.62" width="86.60" height="16.94" fill="#a3484c"/>
<rect x="108.50" y="1511.97" width="86.60" height="16.94" fill="#d5abac"/>
<rect x="194.50" y="1511.97" width="86.60" height="16.94" fill="#265d6c"/>
<rect x="280.50" y="1511.97" width="86.60" height="16.94" fill="#93292d"/>
<rect x="366.50" y="1511.97" width="86.60" height="16.94" fill="#ac595d"/>
<rect x="452.50" y="1511.97" width="86.60" height="16.94" fill="#094759"/>
<rect x="538.50" y="1511.97" width="86.60" height="16.94" fill="#92262b"/>
<rect x="108.50" y="1528.31" width="86.60" height="16.94" fill="#527d8a"/>
<rect x="194.50" y="1528.31" width="86.60" height="16.94" fill="#678d98"/>
<rect x="280.50" y="1528.31" width="86.60" height="16.94" fill="#d5abac"/>
<rect x="366.50" y="1528.31" width="86.60" height="16.94" fill="#8f2126"/>
<rect x="452.50" y="1528.31" width="86.60" height="16.94" fill="#094759"/>
<rect x="538.50" y="1528.31" width="86.60" height="16.94" fill="#983237"/>
<rect x="108.50" y="1544.66" width="86.60" height="16.94" fill="#094759"/>
<rect x="194.50" y="1544.66" width="86.60" height="16.94" fill="#e9d3d4"/>
<rect x="280.50" y="1544.66" width="86.60" height="16.94" fill="#8f2126"/>
<rect x="366.50" y="1544.66" width="86.60" height="16.94" fill="#678d98"/>
<rect x="452.50" y="1544.66" width="86.60" height="16.94" fill="#bacbd0"/>
<rect x="538.50" y="1544.66" width="86.60" height="16.94" fill="#9f4145"/>
<rect x="107.8" y="138.2" width="517.00" height="1423.60" fill="none" stroke="#1f1a17" stroke-width="2.8"/>
<line x1="96.20" y1="147.17" x2="107.00" y2="147.17" stroke="#1f1a17" stroke-width="2.8"/>
<text x="92.80" y="152.90" font-size="16.00" font-weight="bold" text-anchor="end">LEF1</text>
<line x1="96.20" y1="163.52" x2="107.00" y2="163.52" stroke="#1f1a17" stroke-width="2.8"/>
<text x="92.80" y="169.25" font-size="16.00" font-weight="bold" text-anchor="end">TGFB2</text>
<line x1="96.20" y1="179.86" x2="107.00" y2="179.86" stroke="#1f1a17" stroke-width="2.8"/>
<text x="92.80" y="185.59" font-size="16.00" font-weight="bold" text-anchor="end">POLK</text>
<line x1="96.20" y1="196.21" x2="107.00" y2="196.21" stroke="#1f1a17" stroke-width="2.8"/>
<text x="92.80" y="201.93" font-size="16.00" font-weight="bold" text-anchor="end">EGF</text>
<line x1="96.20" y1="212.55" x2="107.00" y2="212.55" stroke="#1f1a17" stroke-width="2.8"/>
<text x="92.80" y="218.28" font-size="16.00" font-weight="bold" text-anchor="end">TGFB3</text>
<line x1="96.20" y1="228.90" x2="107.00" y2="228.90" stroke="#1f1a17" stroke-width="2.8"/>
<text x="92.80" y="234.62" font-size="16.00" font-weight="bold" text-anchor="end">CASP9</text>
<line x1="96.20" y1="245.24" x2="107.00" y2="245.24" stroke="#1f1a17" stroke-width="2.8"/>
<text x="92.80" y="250.97" font-size="16.00" font-weight="bold" text-anchor="end">BIRC5</text>
<line x1="96.20" y1="261.59" x2="107.00" y2="261.59" stroke="#1f1a17" stroke-width="2.8"/>
<text x="92.80" y="267.31" font-size="16.00" font-weight="bold" text-anchor="end">BRAF</text>
<line x1="96.20" y1="277.93" x2="107.00" y2="277.93" stroke="#1f1a17" stroke-width="2.8"/>
<text x="92.80" y="283.66" font-size="16.00" font-weight="bold" text-anchor="end">RALB</text>
<line x1="96.20" y1="294.28" x2="107.00" y2="294.28" stroke="#1f1a17" stroke-width="2.8"/>
<text x="92.80" y="300.00" font-size="16.00" font-weight="bold" text-anchor="end">MSH2</text>
<line x1="96.20" y1="310.62" x2="107.00" y2="310.62" stroke="#1f1a17" stroke-width="2.8"/>
<text x="92.80" y="316.35" font-size="16.00" font-weight="bold" text-anchor="end">AXIN2</text>
<line x1="96.20" y1="326.97" x2="107.00" y2="326.97" stroke="#1f1a17" stroke-width="2.8"/>
<text x="92.80" y="332.69" font-size="16.00" font-weight="bold" text-anchor="end">BCL2</text>
<line x1="96.20" y1="343.31" x2="107.00" y2="343.31" stroke="#1f1a17" stroke-width="2.8"/>
<text x="92.80" y="349.04" font-size="16.00" font-weight="bold" text-anchor="end">TGFA</text>
<line x1="96.20" y1="359.66" x2="107.00" y2="359.66" stroke="#1f1a17" stroke-width="2.8"/>
<text x="92.80" y="365.38" font-size="16.00" font-weight="bold" text-anchor="end">RALA</text>
<line x1="96.20" y1="376.00" x2="107.00" y2="376.00" stroke="#1f1a17" stroke-width="2.8"/>
<text x="92.80" y="381.73" font-size="16.00" font-weight="bold" text-anchor="end">EGFR</text>
<line x1="96.20" y1="392.34" x2="107.00" y2="392.34" stroke="#1f1a17" stroke-width="2.8"/>
<text x="92.80" y="398.07" font-size="16.00" font-weight="bold" text-anchor="end">RAC2</text>
<line x1="96.20" y1="408.69" x2="107.00" y2="408.69" stroke="#1f1a17" stroke-width="2.8"/>
<text x="92.80" y="414.42" font-size="16.00" font-weight="bold" text-anchor="end">NRAS</text>
<line x1="96.20" y1="425.03" x2="107.00" y2="425.03" stroke="#1f1a17" stroke-width="2.8"/>
<text x="92.80" y="430.76" font-size="16.00" font-weight="bold" text-anchor="end">EREG</text>
<line x1="96.20" y1="441.38" x2="107.00" y2="441.38" stroke="#1f1a17" stroke-width="2.8"/>
<text x="92.80" y="447.11" font-size="16.00" font-weight="bold" text-anchor="end">AREG</text>
<line x1="96.20" y1="457.72" x2="107.00" y2="457.72" stroke="#1f1a17" stroke-width="2.8"/>
<text x="92.80" y="463.45" font-size="16.00" font-weight="bold" text-anchor="end">PMAIP1</text>
<line x1="96.20" y1="474.07" x2="107.00" y2="474.07" stroke="#1f1a17" stroke-width="2.8"/>
<text x="92.80" y="479.80" font-size="16.00" font-weight="bold" text-anchor="end">FOS</text>
<line x1="96.20" y1="490.41" x2="107.00" y2="490.41" stroke="#1f1a17" stroke-width="2.8"/>
<text x="92.80" y="496.14" font-size="16.00" font-weight="bold" text-anchor="end">GADD45B</text>
<line x1="96.20" y1="506.76" x2="107.00" y2="506.76" stroke="#1f1a17" stroke-width="2.8"/>
<text x="92.80" y="512.49" font-size="16.00" font-weight="bold" text-anchor="end">MAPK8</text>
<line x1="96.20" y1="523.10" x2="107.00" y2="523.10" stroke="#1f1a17" stroke-width="2.8"/>
<text x="92.80" y="528.83" font-size="16.00" font-weight="bold" text-anchor="end">YAP1</text>
<line x1="96.20" y1="539.45" x2="107.00" y2="539.45" stroke="#1f1a17" stroke-width="2.8"/>
<text x="92.80" y="545.18" font-size="16.00" font-weight="bold" text-anchor="end">JUN</text>
<line x1="96.20" y1="555.79" x2="107.00" y2="555.79" stroke="#1f1a17" stroke-width="2.8"/>
<text x="92.80" y="561.52" font-size="16.00" font-weight="bold" text-anchor="end">GADD45A</text>
<line x1="96.20" y1="572.14" x2="107.00" y2="572.14" stroke="#1f1a17" stroke-width="2.8"/>
<text x="92.80" y="577.87" font-size="16.00" font-weight="bold" text-anchor="end">SMAD3</text>
<line x1="96.20" y1="588.48" x2="107.00" y2="588.48" stroke="#1f1a17" stroke-width="2.8"/>
<text x="92.80" y="594.21" font-size="16.00" font-weight="bold" text-anchor="end">MCL1</text>
<line x1="96.20" y1="604.83" x2="107.00" y2="604.83" stroke="#1f1a17" stroke-width="2.8"/>
<text x="92.80" y="610.56" font-size="16.00" font-weight="bold" text-anchor="end" fill="#d7191c">STAT3</text>
<line x1="96.20" y1="621.17" x2="107.00" y2="621.17" stroke="#1f1a17" stroke-width="2.8"/>
<text x="92.80" y="626.90" font-size="16.00" font-weight="bold" text-anchor="end">CTNNB1</text>
<line x1="96.20" y1="637.52" x2="107.00" y2="637.52" stroke="#1f1a17" stroke-width="2.8"/>
<text x="92.80" y="643.25" font-size="16.00" font-weight="bold" text-anchor="end">TGFB1</text>
<line x1="96.20" y1="653.86" x2="107.00" y2="653.86" stroke="#1f1a17" stroke-width="2.8"/>
<text x="92.80" y="659.59" font-size="16.00" font-weight="bold" text-anchor="end">CDKN1A</text>
<line x1="96.20" y1="670.21" x2="107.00" y2="670.21" stroke="#1f1a17" stroke-width="2.8"/>
<text x="92.80" y="675.93" font-size="16.00" font-weight="bold" text-anchor="end">AKT2</text>
<line x1="96.20" y1="686.55" x2="107.00" y2="686.55" stroke="#1f1a17" stroke-width="2.8"/>
<text x="92.80" y="692.28" font-size="16.00" font-weight="bold" text-anchor="end">KRAS</text>
<line x1="96.20" y1="702.90" x2="107.00" y2="702.90" stroke="#1f1a17" stroke-width="2.8"/>
<text x="92.80" y="708.62" font-size="16.00" font-weight="bold" text-anchor="end">MAPK1</text>
<line x1="96.20" y1="719.24" x2="107.00" y2="719.24" stroke="#1f1a17" stroke-width="2.8"/>
<text x="92.80" y="724.97" font-size="16.00" font-weight="bold" text-anchor="end">TGFBR1</text>
<line x1="96.20" y1="735.59" x2="107.00" y2="735.59" stroke="#1f1a17" stroke-width="2.8"/>
<text x="92.80" y="741.31" font-size="16.00" font-weight="bold" text-anchor="end">APC</text>
<line x1="96.20" y1="751.93" x2="107.00" y2="751.93" stroke="#1f1a17" stroke-width="2.8"/>
<text x="92.80" y="757.66" font-size="16.00" font-weight="bold" text-anchor="end">SOS1</text>
<line x1="96.20" y1="768.28" x2="107.00" y2="768.28" stroke="#1f1a17" stroke-width="2.8"/>
<text x="92.80" y="774.00" font-size="16.00" font-weight="bold" text-anchor="end">PIK3R1</text>
<line x1="96.20" y1="784.62" x2="107.00" y2="784.62" stroke="#1f1a17" stroke-width="2.8"/>
<text x="92.80" y="790.35" font-size="16.00" font-weight="bold" text-anchor="end">TCF7</text>
<line x1="96.20" y1="800.97" x2="107.00" y2="800.97" stroke="#1f1a17" stroke-width="2.8"/>
<text x="92.80" y="806.69" font-size="16.00" font-weight="bold" text-anchor="end">GRB2</text>
<line x1="96.20" y1="817.31" x2="107.00" y2="817.31" stroke="#1f1a17" stroke-width="2.8"/>
<text x="92.80" y="823.04" font-size="16.00" font-weight="bold" text-anchor="end">MLH1</text>
<line x1="96.20" y1="833.66" x2="107.00" y2="833.66" stroke="#1f1a17" stroke-width="2.8"/>
<text x="92.80" y="839.38" font-size="16.00" font-weight="bold" text-anchor="end">SMAD2</text>
<line x1="96.20" y1="850.00" x2="107.00" y2="850.00" stroke="#1f1a17" stroke-width="2.8"/>
<text x="92.80" y="855.73" font-size="16.00" font-weight="bold" text-anchor="end">PIK3CD</text>
<line x1="96.20" y1="866.34" x2="107.00" y2="866.34" stroke="#1f1a17" stroke-width="2.8"/>
<text x="92.80" y="872.07" font-size="16.00" font-weight="bold" text-anchor="end">MAPK9</text>
<line x1="96.20" y1="882.69" x2="107.00" y2="882.69" stroke="#1f1a17" stroke-width="2.8"/>
<text x="92.80" y="888.42" font-size="16.00" font-weight="bold" text-anchor="end">PIK3CB</text>
<line x1="96.20" y1="899.03" x2="107.00" y2="899.03" stroke="#1f1a17" stroke-width="2.8"/>
<text x="92.80" y="904.76" font-size="16.00" font-weight="bold" text-anchor="end">SMAD4</text>
<line x1="96.20" y1="915.38" x2="107.00" y2="915.38" stroke="#1f1a17" stroke-width="2.8"/>
<text x="92.80" y="921.11" font-size="16.00" font-weight="bold" text-anchor="end">GMDS-AS1</text>
<line x1="96.20" y1="931.72" x2="107.00" y2="931.72" stroke="#1f1a17" stroke-width="2.8"/>
<text x="92.80" y="937.45" font-size="16.00" font-weight="bold" text-anchor="end">AKT3</text>
<line x1="96.20" y1="948.07" x2="107.00" y2="948.07" stroke="#1f1a17" stroke-width="2.8"/>
<text x="92.80" y="953.80" font-size="16.00" font-weight="bold" text-anchor="end">SOS2</text>
<line x1="96.20" y1="964.41" x2="107.00" y2="964.41" stroke="#1f1a17" stroke-width="2.8"/>
<text x="92.80" y="970.14" font-size="16.00" font-weight="bold" text-anchor="end">PIK3CA</text>
<line x1="96.20" y1="980.76" x2="107.00" y2="980.76" stroke="#1f1a17" stroke-width="2.8"/>
<text x="92.80" y="986.49" font-size="16.00" font-weight="bold" text-anchor="end">MSH3</text>
<line x1="96.20" y1="997.10" x2="107.00" y2="997.10" stroke="#1f1a17" stroke-width="2.8"/>
<text x="92.80" y="1002.83" font-size="16.00" font-weight="bold" text-anchor="end">MAP2K1</text>
<line x1="96.20" y1="1013.45" x2="107.00" y2="1013.45" stroke="#1f1a17" stroke-width="2.8"/>
<text x="92.80" y="1019.18" font-size="16.00" font-weight="bold" text-anchor="end">MAPK10</text>
<line x1="96.20" y1="1029.79" x2="107.00" y2="1029.79" stroke="#1f1a17" stroke-width="2.8"/>
<text x="92.80" y="1035.52" font-size="16.00" font-weight="bold" text-anchor="end">GMDS</text>
<line x1="96.20" y1="1046.14" x2="107.00" y2="1046.14" stroke="#1f1a17" stroke-width="2.8"/>
<text x="92.80" y="1051.87" font-size="16.00" font-weight="bold" text-anchor="end">GADD45G</text>
<line x1="96.20" y1="1062.48" x2="107.00" y2="1062.48" stroke="#1f1a17" stroke-width="2.8"/>
<text x="92.80" y="1068.21" font-size="16.00" font-weight="bold" text-anchor="end">CCND1</text>
<line x1="96.20" y1="1078.83" x2="107.00" y2="1078.83" stroke="#1f1a17" stroke-width="2.8"/>
<text x="92.80" y="1084.56" font-size="16.00" font-weight="bold" text-anchor="end">CASP3</text>
<line x1="96.20" y1="1095.17" x2="107.00" y2="1095.17" stroke="#1f1a17" stroke-width="2.8"/>
<text x="92.80" y="1100.90" font-size="16.00" font-weight="bold" text-anchor="end">APPL1</text>
<line x1="96.20" y1="1111.52" x2="107.00" y2="1111.52" stroke="#1f1a17" stroke-width="2.8"/>
<text x="92.80" y="1117.25" font-size="16.00" font-weight="bold" text-anchor="end">RAF1</text>
<line x1="96.20" y1="1127.86" x2="107.00" y2="1127.86" stroke="#1f1a17" stroke-width="2.8"/>
<text x="92.80" y="1133.59" font-size="16.00" font-weight="bold" text-anchor="end">MAP2K2</text>
<line x1="96.20" y1="1144.21" x2="107.00" y2="1144.21" stroke="#1f1a17" stroke-width="2.8"/>
<text x="92.80" y="1149.93" font-size="16.00" font-weight="bold" text-anchor="end">PIK3R3</text>
<line x1="96.20" y1="1160.55" x2="107.00" y2="1160.55" stroke="#1f1a17" stroke-width="2.8"/>
<text x="92.80" y="1166.28" font-size="16.00" font-weight="bold" text-anchor="end">RALGDS</text>
<line x1="96.20" y1="1176.90" x2="107.00" y2="1176.90" stroke="#1f1a17" stroke-width="2.8"/>
<text x="92.80" y="1182.62" font-size="16.00" font-weight="bold" text-anchor="end">MSH6</text>
<line x1="96.20" y1="1193.24" x2="107.00" y2="1193.24" stroke="#1f1a17" stroke-width="2.8"/>
<text x="92.80" y="1198.97" font-size="16.00" font-weight="bold" text-anchor="end">MTOR</text>
<line x1="96.20" y1="1209.59" x2="107.00" y2="1209.59" stroke="#1f1a17" stroke-width="2.8"/>
<text x="92.80" y="1215.31" font-size="16.00" font-weight="bold" text-anchor="end">BBC3</text>
<line x1="96.20" y1="1225.93" x2="107.00" y2="1225.93" stroke="#1f1a17" stroke-width="2.8"/>
<text x="92.80" y="1231.66" font-size="16.00" font-weight="bold" text-anchor="end">CYCS</text>
<line x1="96.20" y1="1242.28" x2="107.00" y2="1242.28" stroke="#1f1a17" stroke-width="2.8"/>
<text x="92.80" y="1248.00" font-size="16.00" font-weight="bold" text-anchor="end">BCL2L11</text>
<line x1="96.20" y1="1258.62" x2="107.00" y2="1258.62" stroke="#1f1a17" stroke-width="2.8"/>
<text x="92.80" y="1264.35" font-size="16.00" font-weight="bold" text-anchor="end">AKT1</text>
<line x1="96.20" y1="1274.97" x2="107.00" y2="1274.97" stroke="#1f1a17" stroke-width="2.8"/>
<text x="92.80" y="1280.69" font-size="16.00" font-weight="bold" text-anchor="end">RAC3</text>
<line x1="96.20" y1="1291.31" x2="107.00" y2="1291.31" stroke="#1f1a17" stroke-width="2.8"/>
<text x="92.80" y="1297.04" font-size="16.00" font-weight="bold" text-anchor="end">TCF7L2</text>
<line x1="96.20" y1="1307.66" x2="107.00" y2="1307.66" stroke="#1f1a17" stroke-width="2.8"/>
<text x="92.80" y="1313.38" font-size="16.00" font-weight="bold" text-anchor="end">RAC1</text>
<line x1="96.20" y1="1324.00" x2="107.00" y2="1324.00" stroke="#1f1a17" stroke-width="2.8"/>
<text x="92.80" y="1329.73" font-size="16.00" font-weight="bold" text-anchor="end">ARAF</text>
<line x1="96.20" y1="1340.34" x2="107.00" y2="1340.34" stroke="#1f1a17" stroke-width="2.8"/>
<text x="92.80" y="1346.07" font-size="16.00" font-weight="bold" text-anchor="end">BAX</text>
<line x1="96.20" y1="1356.69" x2="107.00" y2="1356.69" stroke="#1f1a17" stroke-width="2.8"/>
<text x="92.80" y="1362.42" font-size="16.00" font-weight="bold" text-anchor="end">RPS6KB2</text>
<line x1="96.20" y1="1373.03" x2="107.00" y2="1373.03" stroke="#1f1a17" stroke-width="2.8"/>
<text x="92.80" y="1378.76" font-size="16.00" font-weight="bold" text-anchor="end">BAD</text>
<line x1="96.20" y1="1389.38" x2="107.00" y2="1389.38" stroke="#1f1a17" stroke-width="2.8"/>
<text x="92.80" y="1395.11" font-size="16.00" font-weight="bold" text-anchor="end">DDB2</text>
<line x1="96.20" y1="1405.72" x2="107.00" y2="1405.72" stroke="#1f1a17" stroke-width="2.8"/>
<text x="92.80" y="1411.45" font-size="16.00" font-weight="bold" text-anchor="end">TGFBR2</text>
<line x1="96.20" y1="1422.07" x2="107.00" y2="1422.07" stroke="#1f1a17" stroke-width="2.8"/>
<text x="92.80" y="1427.80" font-size="16.00" font-weight="bold" text-anchor="end">TP53</text>
<line x1="96.20" y1="1438.41" x2="107.00" y2="1438.41" stroke="#1f1a17" stroke-width="2.8"/>
<text x="92.80" y="1444.14" font-size="16.00" font-weight="bold" text-anchor="end">TCF7L1</text>
<line x1="96.20" y1="1454.76" x2="107.00" y2="1454.76" stroke="#1f1a17" stroke-width="2.8"/>
<text x="92.80" y="1460.49" font-size="16.00" font-weight="bold" text-anchor="end">RPS6KB1</text>
<line x1="96.20" y1="1471.10" x2="107.00" y2="1471.10" stroke="#1f1a17" stroke-width="2.8"/>
<text x="92.80" y="1476.83" font-size="16.00" font-weight="bold" text-anchor="end">HRAS</text>
<line x1="96.20" y1="1487.45" x2="107.00" y2="1487.45" stroke="#1f1a17" stroke-width="2.8"/>
<text x="92.80" y="1493.18" font-size="16.00" font-weight="bold" text-anchor="end">MAPK3</text>
<line x1="96.20" y1="1503.79" x2="107.00" y2="1503.79" stroke="#1f1a17" stroke-width="2.8"/>
<text x="92.80" y="1509.52" font-size="16.00" font-weight="bold" text-anchor="end">BAK1</text>
<line x1="96.20" y1="1520.14" x2="107.00" y2="1520.14" stroke="#1f1a17" stroke-width="2.8"/>
<text x="92.80" y="1525.87" font-size="16.00" font-weight="bold" text-anchor="end">APC2</text>
<line x1="96.20" y1="1536.48" x2="107.00" y2="1536.48" stroke="#1f1a17" stroke-width="2.8"/>
<text x="92.80" y="1542.21" font-size="16.00" font-weight="bold" text-anchor="end">PIK3R2</text>
<line x1="96.20" y1="1552.83" x2="107.00" y2="1552.83" stroke="#1f1a17" stroke-width="2.8"/>
<text x="92.80" y="1558.56" font-size="16.00" font-weight="bold" text-anchor="end">AXIN1</text>
<line x1="151.50" y1="125.50" x2="151.50" y2="137.50" stroke="#1f1a17" stroke-width="2.8"/>
<text x="160.00" y="120.50" font-size="27.00" font-weight="bold" transform="rotate(-46 160.00 120.50)">shCtrl_1</text>
<line x1="237.50" y1="125.50" x2="237.50" y2="137.50" stroke="#1f1a17" stroke-width="2.8"/>
<text x="246.00" y="120.50" font-size="27.00" font-weight="bold" transform="rotate(-46 246.00 120.50)">shCtrl_2</text>
<line x1="323.50" y1="125.50" x2="323.50" y2="137.50" stroke="#1f1a17" stroke-width="2.8"/>
<text x="332.00" y="120.50" font-size="27.00" font-weight="bold" transform="rotate(-46 332.00 120.50)">shCtrl_3</text>
<line x1="409.50" y1="125.50" x2="409.50" y2="137.50" stroke="#1f1a17" stroke-width="2.8"/>
<text x="418.00" y="120.50" font-size="27.00" font-weight="bold" transform="rotate(-46 418.00 120.50)">AS1sh2_1</text>
<line x1="495.50" y1="125.50" x2="495.50" y2="137.50" stroke="#1f1a17" stroke-width="2.8"/>
<text x="504.00" y="120.50" font-size="27.00" font-weight="bold" transform="rotate(-46 504.00 120.50)">AS1sh2_2</text>
<line x1="581.50" y1="125.50" x2="581.50" y2="137.50" stroke="#1f1a17" stroke-width="2.8"/>
<text x="590.00" y="120.50" font-size="27.00" font-weight="bold" transform="rotate(-46 590.00 120.50)">AS1sh2_3</text>
<defs><linearGradient id="cbg" x1="0" y1="1" x2="0" y2="0"><stop offset="0.00" stop-color="#084658"/><stop offset="0.05" stop-color="#0e4a5c"/><stop offset="0.10" stop-color="#195364"/><stop offset="0.15" stop-color="#2a5f6f"/><stop offset="0.20" stop-color="#3e6f7d"/><stop offset="0.25" stop-color="#57818d"/><stop offset="0.30" stop-color="#7296a0"/><stop offset="0.35" stop-color="#91adb5"/><stop offset="0.40" stop-color="#b3c6cc"/><stop offset="0.45" stop-color="#d8e1e4"/><stop offset="0.50" stop-color="#ffffff"/><stop offset="0.55" stop-color="#efe0e0"/><stop offset="0.60" stop-color="#e0c2c3"/><stop offset="0.65" stop-color="#d2a5a7"/><stop offset="0.70" stop-color="#c48a8d"/><stop offset="0.75" stop-color="#b87174"/><stop offset="0.80" stop-color="#ac595d"/><stop offset="0.85" stop-color="#a14449"/><stop offset="0.90" stop-color="#983237"/><stop offset="0.95" stop-color="#912328"/><stop offset="1.00" stop-color="#8c1a1f"/></linearGradient></defs>
<rect x="669.0" y="138.5" width="49" height="493.0" fill="url(#cbg)" stroke="#1f1a17" stroke-width="2.8"/>
<text transform="translate(733.5 642.58) scale(1 1.18)" font-size="27.3">0</text>
<line x1="669.00" y1="532.90" x2="676.00" y2="532.90" stroke="#1f1a17" stroke-width="2.8"/>
<line x1="711.00" y1="532.90" x2="718.00" y2="532.90" stroke="#1f1a17" stroke-width="2.8"/>
<text transform="translate(733.5 543.98) scale(1 1.18)" font-size="27.3">20</text>
<line x1="669.00" y1="434.30" x2="676.00" y2="434.30" stroke="#1f1a17" stroke-width="2.8"/>
<line x1="711.00" y1="434.30" x2="718.00" y2="434.30" stroke="#1f1a17" stroke-width="2.8"/>
<text transform="translate(733.5 445.38) scale(1 1.18)" font-size="27.3">40</text>
<line x1="669.00" y1="335.70" x2="676.00" y2="335.70" stroke="#1f1a17" stroke-width="2.8"/>
<line x1="711.00" y1="335.70" x2="718.00" y2="335.70" stroke="#1f1a17" stroke-width="2.8"/>
<text transform="translate(733.5 346.78) scale(1 1.18)" font-size="27.3">60</text>
<line x1="669.00" y1="237.10" x2="676.00" y2="237.10" stroke="#1f1a17" stroke-width="2.8"/>
<line x1="711.00" y1="237.10" x2="718.00" y2="237.10" stroke="#1f1a17" stroke-width="2.8"/>
<text transform="translate(733.5 248.18) scale(1 1.18)" font-size="27.3">80</text>
<text transform="translate(733.5 149.58) scale(1 1.18)" font-size="27.3">100</text>
<text x="8.10" y="35.70" font-size="42.50" font-weight="bold">A</text>
<text x="981.50" y="55.59" font-size="25.40">GSEA overview</text>
<line x1="871.10" y1="64.80" x2="871.10" y2="178.20" stroke="#1f1a17" stroke-width="2.4"/>
<line x1="869.90" y1="178.20" x2="875.50" y2="178.20" stroke="#1f1a17" stroke-width="2.4"/>
<line x1="871.10" y1="191.60" x2="871.10" y2="304.90" stroke="#1f1a17" stroke-width="2.4"/>
<line x1="869.90" y1="191.60" x2="875.50" y2="191.60" stroke="#1f1a17" stroke-width="2.4"/>
<line x1="869.90" y1="303.70" x2="1262.00" y2="303.70" stroke="#1f1a17" stroke-width="2.4"/>
<line x1="862.80" y1="66.10" x2="871.10" y2="66.10" stroke="#1f1a17" stroke-width="2.4"/>
<text x="860.30" y="70.83" font-size="13.20" font-weight="bold" text-anchor="end">1.60</text>
<line x1="862.80" y1="88.80" x2="871.10" y2="88.80" stroke="#1f1a17" stroke-width="2.4"/>
<text x="860.30" y="93.53" font-size="13.20" font-weight="bold" text-anchor="end">1.55</text>
<line x1="862.80" y1="110.40" x2="871.10" y2="110.40" stroke="#1f1a17" stroke-width="2.4"/>
<text x="860.30" y="115.13" font-size="13.20" font-weight="bold" text-anchor="end">1.50</text>
<line x1="862.80" y1="133.40" x2="871.10" y2="133.40" stroke="#1f1a17" stroke-width="2.4"/>
<text x="860.30" y="138.13" font-size="13.20" font-weight="bold" text-anchor="end">1.45</text>
<line x1="862.80" y1="155.50" x2="871.10" y2="155.50" stroke="#1f1a17" stroke-width="2.4"/>
<text x="860.30" y="160.23" font-size="13.20" font-weight="bold" text-anchor="end">1.40</text>
<line x1="862.80" y1="177.80" x2="871.10" y2="177.80" stroke="#1f1a17" stroke-width="2.4"/>
<text x="860.30" y="182.53" font-size="13.20" font-weight="bold" text-anchor="end">1.35</text>
<line x1="862.80" y1="205.90" x2="871.10" y2="205.90" stroke="#1f1a17" stroke-width="2.4"/>
<text x="860.30" y="210.63" font-size="13.20" font-weight="bold" text-anchor="end">1.3</text>
<line x1="862.80" y1="234.30" x2="871.10" y2="234.30" stroke="#1f1a17" stroke-width="2.4"/>
<text x="860.30" y="239.03" font-size="13.20" font-weight="bold" text-anchor="end">1.2</text>
<line x1="862.80" y1="262.30" x2="871.10" y2="262.30" stroke="#1f1a17" stroke-width="2.4"/>
<text x="860.30" y="267.03" font-size="13.20" font-weight="bold" text-anchor="end">1.1</text>
<line x1="862.80" y1="290.30" x2="871.10" y2="290.30" stroke="#1f1a17" stroke-width="2.4"/>
<text x="860.30" y="295.03" font-size="13.20" font-weight="bold" text-anchor="end">1.0</text>
<line x1="906.20" y1="303.70" x2="906.20" y2="310.50" stroke="#1f1a17" stroke-width="2.4"/>
<text x="906.20" y="327.87" font-size="13.60" font-weight="bold" text-anchor="middle">0.5</text>
<line x1="977.00" y1="303.70" x2="977.00" y2="310.50" stroke="#1f1a17" stroke-width="2.4"/>
<text x="977.00" y="327.87" font-size="13.60" font-weight="bold" text-anchor="middle">0.4</text>
<line x1="1047.90" y1="303.70" x2="1047.90" y2="310.50" stroke="#1f1a17" stroke-width="2.4"/>
<text x="1047.90" y="327.87" font-size="13.60" font-weight="bold" text-anchor="middle">0.3</text>
<line x1="1118.50" y1="303.70" x2="1118.50" y2="310.50" stroke="#1f1a17" stroke-width="2.4"/>
<text x="1118.50" y="327.87" font-size="13.60" font-weight="bold" text-anchor="middle">0.2</text>
<line x1="1189.00" y1="303.70" x2="1189.00" y2="310.50" stroke="#1f1a17" stroke-width="2.4"/>
<text x="1189.00" y="327.87" font-size="13.60" font-weight="bold" text-anchor="middle">0.1</text>
<line x1="1224.70" y1="303.70" x2="1224.70" y2="310.50" stroke="#1f1a17" stroke-width="2.4"/>
<text x="1224.70" y="327.87" font-size="13.60" font-weight="bold" text-anchor="middle">0.05</text>
<line x1="1259.80" y1="303.70" x2="1259.80" y2="310.50" stroke="#1f1a17" stroke-width="2.4"/>
<text x="1259.80" y="327.87" font-size="13.60" font-weight="bold" text-anchor="middle">0.0</text>
<text x="1084.50" y="344.64" font-size="15.20" font-weight="bold" text-anchor="middle">NOM p-value</text>
<text x="799.50" y="190.57" font-size="15.00" font-weight="bold" text-anchor="middle" transform="rotate(-90 799.50 185.20)">NES:GMDS-AS1</text>
<text x="819.80" y="188.97" font-size="15.00" font-weight="bold" text-anchor="middle" transform="rotate(-90 819.80 183.60)">(RNAseq, HCT116)</text>
<line x1="1225.00" y1="66.00" x2="1225.00" y2="302.00" stroke="#e0302a" stroke-width="3.2" stroke-dasharray="3.2 2.2"/>
<text x="1219.00" y="96.60" font-size="12.30" font-weight="bold" text-anchor="end">HALLMARK_IL6_JAK_STAT3_SIGNALING</text>
<text x="1219.00" y="113.60" font-size="12.30" font-weight="bold" text-anchor="end">HALLMARK_EPITHELIAL_MESENCHYMAL_TRANSITION</text>
<text x="1219.00" y="151.70" font-size="12.30" font-weight="bold" text-anchor="end">HALLMARK_INFLAMMATORY_RESPONSE</text>
<line x1="1227.50" y1="92.30" x2="1243.00" y2="92.30" stroke="#1f1a17" stroke-width="3.0"/>
<polygon points="1240.50,86.80 1252.50,92.30 1240.50,97.80" fill="#1f1a17"/>
<line x1="1227.50" y1="106.50" x2="1243.00" y2="106.50" stroke="#1f1a17" stroke-width="3.0"/>
<polygon points="1240.50,101.00 1252.50,106.50 1240.50,112.00" fill="#1f1a17"/>
<line x1="1227.50" y1="147.00" x2="1243.00" y2="147.00" stroke="#1f1a17" stroke-width="3.0"/>
<polygon points="1240.50,141.50 1252.50,147.00 1240.50,152.50" fill="#1f1a17"/>
<circle cx="1260.4" cy="92.3" r="4.6" fill="#e0403a" stroke="#1f1a17" stroke-width="2.6"/>
<circle cx="1260.4" cy="106.3" r="4.6" fill="#e0403a" stroke="#1f1a17" stroke-width="2.6"/>
<circle cx="1260.4" cy="147" r="4.6" fill="#e0403a" stroke="#1f1a17" stroke-width="2.6"/>
<circle cx="1260.4" cy="122" r="4.6" fill="none" stroke="#1f1a17" stroke-width="2.6"/>
<circle cx="1258" cy="137" r="4.6" fill="none" stroke="#1f1a17" stroke-width="2.6"/>
<circle cx="1260" cy="141" r="4.6" fill="none" stroke="#1f1a17" stroke-width="2.6"/>
<circle cx="1243.5" cy="176" r="4.6" fill="none" stroke="#1f1a17" stroke-width="2.6"/>
<circle cx="1260.4" cy="170.5" r="4.6" fill="none" stroke="#1f1a17" stroke-width="2.6"/>
<circle cx="1260.4" cy="198.5" r="4.6" fill="none" stroke="#1f1a17" stroke-width="2.6"/>
<circle cx="1258.3" cy="203" r="4.6" fill="none" stroke="#1f1a17" stroke-width="2.6"/>
<circle cx="1253.9" cy="209.8" r="4.6" fill="none" stroke="#1f1a17" stroke-width="2.6"/>
<circle cx="1260.4" cy="214.3" r="4.6" fill="none" stroke="#1f1a17" stroke-width="2.6"/>
<circle cx="1241" cy="231" r="4.6" fill="none" stroke="#1f1a17" stroke-width="2.6"/>
<circle cx="1248" cy="224.7" r="4.6" fill="none" stroke="#1f1a17" stroke-width="2.6"/>
<circle cx="1251" cy="228" r="4.6" fill="none" stroke="#1f1a17" stroke-width="2.6"/>
<circle cx="1198.8" cy="250" r="4.6" fill="none" stroke="#1f1a17" stroke-width="2.6"/>
<circle cx="1194.3" cy="246.4" r="4.6" fill="none" stroke="#1f1a17" stroke-width="2.6"/>
<circle cx="1188.4" cy="251" r="4.6" fill="none" stroke="#1f1a17" stroke-width="2.6"/>
<circle cx="1138.4" cy="248.5" r="4.6" fill="none" stroke="#1f1a17" stroke-width="2.6"/>
<circle cx="1137" cy="247" r="4.6" fill="none" stroke="#1f1a17" stroke-width="2.6"/>
<circle cx="1112" cy="242.6" r="4.6" fill="none" stroke="#1f1a17" stroke-width="2.6"/>
<circle cx="1100" cy="255" r="4.6" fill="none" stroke="#1f1a17" stroke-width="2.6"/>
<circle cx="1037.2" cy="267" r="4.6" fill="none" stroke="#1f1a17" stroke-width="2.6"/>
<circle cx="967" cy="280.4" r="4.6" fill="none" stroke="#1f1a17" stroke-width="2.6"/>
<circle cx="943.5" cy="279.8" r="4.6" fill="none" stroke="#1f1a17" stroke-width="2.6"/>
<circle cx="935.4" cy="282" r="4.6" fill="none" stroke="#1f1a17" stroke-width="2.6"/>
<circle cx="928.6" cy="284.8" r="4.6" fill="none" stroke="#1f1a17" stroke-width="2.6"/>
<circle cx="915.5" cy="287.2" r="4.6" fill="none" stroke="#1f1a17" stroke-width="2.6"/>
<text x="789.20" y="35.70" font-size="42.00" font-weight="bold">B</text>
<text x="1051.80" y="371.23" font-size="14.90" font-weight="bold" text-anchor="middle">HALLMARK_IL6_JAK_STAT3_SIGNALING</text>
<line x1="932.06" y1="378.4" x2="932.06" y2="536.6" stroke="#d4d4d4" stroke-width="0.9" stroke-dasharray="2 2"/>
<line x1="932.06" y1="602.0" x2="932.06" y2="708.0" stroke="#d4d4d4" stroke-width="0.9" stroke-dasharray="2 2"/>
<line x1="975.92" y1="378.4" x2="975.92" y2="536.6" stroke="#d4d4d4" stroke-width="0.9" stroke-dasharray="2 2"/>
<line x1="975.92" y1="602.0" x2="975.92" y2="708.0" stroke="#d4d4d4" stroke-width="0.9" stroke-dasharray="2 2"/>
<line x1="1019.77" y1="378.4" x2="1019.77" y2="536.6" stroke="#d4d4d4" stroke-width="0.9" stroke-dasharray="2 2"/>
<line x1="1019.77" y1="602.0" x2="1019.77" y2="708.0" stroke="#d4d4d4" stroke-width="0.9" stroke-dasharray="2 2"/>
<line x1="1063.63" y1="378.4" x2="1063.63" y2="536.6" stroke="#d4d4d4" stroke-width="0.9" stroke-dasharray="2 2"/>
<line x1="1063.63" y1="602.0" x2="1063.63" y2="708.0" stroke="#d4d4d4" stroke-width="0.9" stroke-dasharray="2 2"/>
<line x1="1107.49" y1="378.4" x2="1107.49" y2="536.6" stroke="#d4d4d4" stroke-width="0.9" stroke-dasharray="2 2"/>
<line x1="1107.49" y1="602.0" x2="1107.49" y2="708.0" stroke="#d4d4d4" stroke-width="0.9" stroke-dasharray="2 2"/>
<line x1="1151.35" y1="378.4" x2="1151.35" y2="536.6" stroke="#d4d4d4" stroke-width="0.9" stroke-dasharray="2 2"/>
<line x1="1151.35" y1="602.0" x2="1151.35" y2="708.0" stroke="#d4d4d4" stroke-width="0.9" stroke-dasharray="2 2"/>
<line x1="1195.20" y1="378.4" x2="1195.20" y2="536.6" stroke="#d4d4d4" stroke-width="0.9" stroke-dasharray="2 2"/>
<line x1="1195.20" y1="602.0" x2="1195.20" y2="708.0" stroke="#d4d4d4" stroke-width="0.9" stroke-dasharray="2 2"/>
<line x1="1239.06" y1="378.4" x2="1239.06" y2="536.6" stroke="#d4d4d4" stroke-width="0.9" stroke-dasharray="2 2"/>
<line x1="1239.06" y1="602.0" x2="1239.06" y2="708.0" stroke="#d4d4d4" stroke-width="0.9" stroke-dasharray="2 2"/>
<line x1="888.2" y1="505.74" x2="1251.2" y2="505.74" stroke="#d4d4d4" stroke-width="0.9" stroke-dasharray="2 2"/>
<line x1="888.2" y1="486.48" x2="1251.2" y2="486.48" stroke="#d4d4d4" stroke-width="0.9" stroke-dasharray="2 2"/>
<line x1="888.2" y1="467.22" x2="1251.2" y2="467.22" stroke="#d4d4d4" stroke-width="0.9" stroke-dasharray="2 2"/>
<line x1="888.2" y1="447.96" x2="1251.2" y2="447.96" stroke="#d4d4d4" stroke-width="0.9" stroke-dasharray="2 2"/>
<line x1="888.2" y1="428.70" x2="1251.2" y2="428.70" stroke="#d4d4d4" stroke-width="0.9" stroke-dasharray="2 2"/>
<line x1="888.2" y1="409.44" x2="1251.2" y2="409.44" stroke="#d4d4d4" stroke-width="0.9" stroke-dasharray="2 2"/>
<line x1="888.2" y1="390.18" x2="1251.2" y2="390.18" stroke="#d4d4d4" stroke-width="0.9" stroke-dasharray="2 2"/>
<line x1="888.2" y1="631.70" x2="1251.2" y2="631.70" stroke="#d4d4d4" stroke-width="0.9" stroke-dasharray="2 2"/>
<line x1="888.2" y1="687.70" x2="1251.2" y2="687.70" stroke="#d4d4d4" stroke-width="0.9" stroke-dasharray="2 2"/>
<rect x="888.2" y="378.4" width="363.0" height="329.6" fill="none" stroke="#cfcfcf" stroke-width="1.2"/>
<line x1="888.20" y1="536.60" x2="1251.20" y2="536.60" stroke="#bdbdbd" stroke-width="1.2"/>
<line x1="888.20" y1="525.00" x2="1251.20" y2="525.00" stroke="#9a9a9a" stroke-width="1.2"/>
<line x1="888.20" y1="602.00" x2="1251.20" y2="602.00" stroke="#bdbdbd" stroke-width="1.0"/>
<line x1="888.20" y1="378.40" x2="888.20" y2="708.00" stroke="#8a8a8a" stroke-width="1.6"/>
<line x1="888.20" y1="708.00" x2="1251.20" y2="708.00" stroke="#8a8a8a" stroke-width="1.6"/>
<defs><linearGradient id="gcb0" x1="888.2" x2="1233.4" y1="0" y2="0" gradientUnits="userSpaceOnUse"><stop offset="0" stop-color="#a01818"/><stop offset="0.05" stop-color="#d83a3a"/><stop offset="0.2" stop-color="#e85a5a"/><stop offset="0.3" stop-color="#ee8a8a"/><stop offset="0.33" stop-color="#f0b8d4"/><stop offset="0.79" stop-color="#eeb9d6"/><stop offset="0.8" stop-color="#d2d2ea"/><stop offset="0.93" stop-color="#c8c8e6"/><stop offset="0.95" stop-color="#5a5ab0"/><stop offset="1" stop-color="#22288a"/></linearGradient></defs>
<rect x="888.20" y="589.00" width="345.16" height="13.00" fill="url(#gcb0)"/>
<line x1="888.63" y1="538.10" x2="888.63" y2="589.00" stroke="#000" stroke-width="1.1"/>
<line x1="888.63" y1="589.00" x2="888.63" y2="602.00" stroke="rgba(0,0,0,0.45)" stroke-width="1.1"/>
<line x1="889.07" y1="538.10" x2="889.07" y2="589.00" stroke="#000" stroke-width="1.1"/>
<line x1="889.07" y1="589.00" x2="889.07" y2="602.00" stroke="rgba(0,0,0,0.45)" stroke-width="1.1"/>
<line x1="889.41" y1="538.10" x2="889.41" y2="589.00" stroke="#000" stroke-width="1.1"/>
<line x1="889.41" y1="589.00" x2="889.41" y2="602.00" stroke="rgba(0,0,0,0.45)" stroke-width="1.1"/>
<line x1="889.92" y1="538.10" x2="889.92" y2="589.00" stroke="#000" stroke-width="1.1"/>
<line x1="889.92" y1="589.00" x2="889.92" y2="602.00" stroke="rgba(0,0,0,0.45)" stroke-width="1.1"/>
<line x1="890.82" y1="538.10" x2="890.82" y2="589.00" stroke="#000" stroke-width="1.1"/>
<line x1="890.82" y1="589.00" x2="890.82" y2="602.00" stroke="rgba(0,0,0,0.45)" stroke-width="1.1"/>
<line x1="890.92" y1="538.10" x2="890.92" y2="589.00" stroke="#000" stroke-width="1.1"/>
<line x1="890.92" y1="589.00" x2="890.92" y2="602.00" stroke="rgba(0,0,0,0.45)" stroke-width="1.1"/>
<line x1="892.76" y1="538.10" x2="892.76" y2="589.00" stroke="#000" stroke-width="1.1"/>
<line x1="892.76" y1="589.00" x2="892.76" y2="602.00" stroke="rgba(0,0,0,0.45)" stroke-width="1.1"/>
<line x1="893.55" y1="538.10" x2="893.55" y2="589.00" stroke="#000" stroke-width="1.1"/>
<line x1="893.55" y1="589.00" x2="893.55" y2="602.00" stroke="rgba(0,0,0,0.45)" stroke-width="1.1"/>
<line x1="893.71" y1="538.10" x2="893.71" y2="589.00" stroke="#000" stroke-width="1.1"/>
<line x1="893.71" y1="589.00" x2="893.71" y2="602.00" stroke="rgba(0,0,0,0.45)" stroke-width="1.1"/>
<line x1="895.20" y1="538.10" x2="895.20" y2="589.00" stroke="#000" stroke-width="1.1"/>
<line x1="895.20" y1="589.00" x2="895.20" y2="602.00" stroke="rgba(0,0,0,0.45)" stroke-width="1.1"/>
<line x1="896.25" y1="538.10" x2="896.25" y2="589.00" stroke="#000" stroke-width="1.1"/>
<line x1="896.25" y1="589.00" x2="896.25" y2="602.00" stroke="rgba(0,0,0,0.45)" stroke-width="1.1"/>
<line x1="896.98" y1="538.10" x2="896.98" y2="589.00" stroke="#000" stroke-width="1.1"/>
<line x1="896.98" y1="589.00" x2="896.98" y2="602.00" stroke="rgba(0,0,0,0.45)" stroke-width="1.1"/>
<line x1="900.95" y1="538.10" x2="900.95" y2="589.00" stroke="#000" stroke-width="1.1"/>
<line x1="900.95" y1="589.00" x2="900.95" y2="602.00" stroke="rgba(0,0,0,0.45)" stroke-width="1.1"/>
<line x1="901.29" y1="538.10" x2="901.29" y2="589.00" stroke="#000" stroke-width="1.1"/>
<line x1="901.29" y1="589.00" x2="901.29" y2="602.00" stroke="rgba(0,0,0,0.45)" stroke-width="1.1"/>
<line x1="901.44" y1="538.10" x2="901.44" y2="589.00" stroke="#000" stroke-width="1.1"/>
<line x1="901.44" y1="589.00" x2="901.44" y2="602.00" stroke="rgba(0,0,0,0.45)" stroke-width="1.1"/>
<line x1="901.63" y1="538.10" x2="901.63" y2="589.00" stroke="#000" stroke-width="1.1"/>
<line x1="901.63" y1="589.00" x2="901.63" y2="602.00" stroke="rgba(0,0,0,0.45)" stroke-width="1.1"/>
<line x1="901.68" y1="538.10" x2="901.68" y2="589.00" stroke="#000" stroke-width="1.1"/>
<line x1="901.68" y1="589.00" x2="901.68" y2="602.00" stroke="rgba(0,0,0,0.45)" stroke-width="1.1"/>
<line x1="902.67" y1="538.10" x2="902.67" y2="589.00" stroke="#000" stroke-width="1.1"/>
<line x1="902.67" y1="589.00" x2="902.67" y2="602.00" stroke="rgba(0,0,0,0.45)" stroke-width="1.1"/>
<line x1="902.90" y1="538.10" x2="902.90" y2="589.00" stroke="#000" stroke-width="1.1"/>
<line x1="902.90" y1="589.00" x2="902.90" y2="602.00" stroke="rgba(0,0,0,0.45)" stroke-width="1.1"/>
<line x1="903.02" y1="538.10" x2="903.02" y2="589.00" stroke="#000" stroke-width="1.1"/>
<line x1="903.02" y1="589.00" x2="903.02" y2="602.00" stroke="rgba(0,0,0,0.45)" stroke-width="1.1"/>
<line x1="903.23" y1="538.10" x2="903.23" y2="589.00" stroke="#000" stroke-width="1.1"/>
<line x1="903.23" y1="589.00" x2="903.23" y2="602.00" stroke="rgba(0,0,0,0.45)" stroke-width="1.1"/>
<line x1="903.49" y1="538.10" x2="903.49" y2="589.00" stroke="#000" stroke-width="1.1"/>
<line x1="903.49" y1="589.00" x2="903.49" y2="602.00" stroke="rgba(0,0,0,0.45)" stroke-width="1.1"/>
<line x1="904.40" y1="538.10" x2="904.40" y2="589.00" stroke="#000" stroke-width="1.1"/>
<line x1="904.40" y1="589.00" x2="904.40" y2="602.00" stroke="rgba(0,0,0,0.45)" stroke-width="1.1"/>
<line x1="905.20" y1="538.10" x2="905.20" y2="589.00" stroke="#000" stroke-width="1.1"/>
<line x1="905.20" y1="589.00" x2="905.20" y2="602.00" stroke="rgba(0,0,0,0.45)" stroke-width="1.1"/>
<line x1="906.02" y1="538.10" x2="906.02" y2="589.00" stroke="#000" stroke-width="1.1"/>
<line x1="906.02" y1="589.00" x2="906.02" y2="602.00" stroke="rgba(0,0,0,0.45)" stroke-width="1.1"/>
<line x1="906.43" y1="538.10" x2="906.43" y2="589.00" stroke="#000" stroke-width="1.1"/>
<line x1="906.43" y1="589.00" x2="906.43" y2="602.00" stroke="rgba(0,0,0,0.45)" stroke-width="1.1"/>
<line x1="906.73" y1="538.10" x2="906.73" y2="589.00" stroke="#000" stroke-width="1.1"/>
<line x1="906.73" y1="589.00" x2="906.73" y2="602.00" stroke="rgba(0,0,0,0.45)" stroke-width="1.1"/>
<line x1="907.13" y1="538.10" x2="907.13" y2="589.00" stroke="#000" stroke-width="1.1"/>
<line x1="907.13" y1="589.00" x2="907.13" y2="602.00" stroke="rgba(0,0,0,0.45)" stroke-width="1.1"/>
<line x1="907.38" y1="538.10" x2="907.38" y2="589.00" stroke="#000" stroke-width="1.1"/>
<line x1="907.38" y1="589.00" x2="907.38" y2="602.00" stroke="rgba(0,0,0,0.45)" stroke-width="1.1"/>
<line x1="908.27" y1="538.10" x2="908.27" y2="589.00" stroke="#000" stroke-width="1.1"/>
<line x1="908.27" y1="589.00" x2="908.27" y2="602.00" stroke="rgba(0,0,0,0.45)" stroke-width="1.1"/>
<line x1="908.69" y1="538.10" x2="908.69" y2="589.00" stroke="#000" stroke-width="1.1"/>
<line x1="908.69" y1="589.00" x2="908.69" y2="602.00" stroke="rgba(0,0,0,0.45)" stroke-width="1.1"/>
<line x1="911.15" y1="538.10" x2="911.15" y2="589.00" stroke="#000" stroke-width="1.1"/>
<line x1="911.15" y1="589.00" x2="911.15" y2="602.00" stroke="rgba(0,0,0,0.45)" stroke-width="1.1"/>
<line x1="911.64" y1="538.10" x2="911.64" y2="589.00" stroke="#000" stroke-width="1.1"/>
<line x1="911.64" y1="589.00" x2="911.64" y2="602.00" stroke="rgba(0,0,0,0.45)" stroke-width="1.1"/>
<line x1="912.52" y1="538.10" x2="912.52" y2="589.00" stroke="#000" stroke-width="1.1"/>
<line x1="912.52" y1="589.00" x2="912.52" y2="602.00" stroke="rgba(0,0,0,0.45)" stroke-width="1.1"/>
<line x1="912.58" y1="538.10" x2="912.58" y2="589.00" stroke="#000" stroke-width="1.1"/>
<line x1="912.58" y1="589.00" x2="912.58" y2="602.00" stroke="rgba(0,0,0,0.45)" stroke-width="1.1"/>
<line x1="914.95" y1="538.10" x2="914.95" y2="589.00" stroke="#000" stroke-width="1.1"/>
<line x1="914.95" y1="589.00" x2="914.95" y2="602.00" stroke="rgba(0,0,0,0.45)" stroke-width="1.1"/>
<line x1="916.13" y1="538.10" x2="916.13" y2="589.00" stroke="#000" stroke-width="1.1"/>
<line x1="916.13" y1="589.00" x2="916.13" y2="602.00" stroke="rgba(0,0,0,0.45)" stroke-width="1.1"/>
<line x1="916.63" y1="538.10" x2="916.63" y2="589.00" stroke="#000" stroke-width="1.1"/>
<line x1="916.63" y1="589.00" x2="916.63" y2="602.00" stroke="rgba(0,0,0,0.45)" stroke-width="1.1"/>
<line x1="917.02" y1="538.10" x2="917.02" y2="589.00" stroke="#000" stroke-width="1.1"/>
<line x1="917.02" y1="589.00" x2="917.02" y2="602.00" stroke="rgba(0,0,0,0.45)" stroke-width="1.1"/>
<line x1="917.08" y1="538.10" x2="917.08" y2="589.00" stroke="#000" stroke-width="1.1"/>
<line x1="917.08" y1="589.00" x2="917.08" y2="602.00" stroke="rgba(0,0,0,0.45)" stroke-width="1.1"/>
<line x1="918.32" y1="538.10" x2="918.32" y2="589.00" stroke="#000" stroke-width="1.1"/>
<line x1="918.32" y1="589.00" x2="918.32" y2="602.00" stroke="rgba(0,0,0,0.45)" stroke-width="1.1"/>
<line x1="920.97" y1="538.10" x2="920.97" y2="589.00" stroke="#000" stroke-width="1.1"/>
<line x1="920.97" y1="589.00" x2="920.97" y2="602.00" stroke="rgba(0,0,0,0.45)" stroke-width="1.1"/>
<line x1="921.96" y1="538.10" x2="921.96" y2="589.00" stroke="#000" stroke-width="1.1"/>
<line x1="921.96" y1="589.00" x2="921.96" y2="602.00" stroke="rgba(0,0,0,0.45)" stroke-width="1.1"/>
<line x1="922.40" y1="538.10" x2="922.40" y2="589.00" stroke="#000" stroke-width="1.1"/>
<line x1="922.40" y1="589.00" x2="922.40" y2="602.00" stroke="rgba(0,0,0,0.45)" stroke-width="1.1"/>
<line x1="923.59" y1="538.10" x2="923.59" y2="589.00" stroke="#000" stroke-width="1.1"/>
<line x1="923.59" y1="589.00" x2="923.59" y2="602.00" stroke="rgba(0,0,0,0.45)" stroke-width="1.1"/>
<line x1="923.82" y1="538.10" x2="923.82" y2="589.00" stroke="#000" stroke-width="1.1"/>
<line x1="923.82" y1="589.00" x2="923.82" y2="602.00" stroke="rgba(0,0,0,0.45)" stroke-width="1.1"/>
<line x1="929.92" y1="538.10" x2="929.92" y2="589.00" stroke="#000" stroke-width="1.1"/>
<line x1="929.92" y1="589.00" x2="929.92" y2="602.00" stroke="rgba(0,0,0,0.45)" stroke-width="1.1"/>
<line x1="931.25" y1="538.10" x2="931.25" y2="589.00" stroke="#000" stroke-width="1.1"/>
<line x1="931.25" y1="589.00" x2="931.25" y2="602.00" stroke="rgba(0,0,0,0.45)" stroke-width="1.1"/>
<line x1="931.27" y1="538.10" x2="931.27" y2="589.00" stroke="#000" stroke-width="1.1"/>
<line x1="931.27" y1="589.00" x2="931.27" y2="602.00" stroke="rgba(0,0,0,0.45)" stroke-width="1.1"/>
<line x1="933.11" y1="538.10" x2="933.11" y2="589.00" stroke="#000" stroke-width="1.1"/>
<line x1="933.11" y1="589.00" x2="933.11" y2="602.00" stroke="rgba(0,0,0,0.45)" stroke-width="1.1"/>
<line x1="947.86" y1="538.10" x2="947.86" y2="589.00" stroke="#000" stroke-width="1.1"/>
<line x1="947.86" y1="589.00" x2="947.86" y2="602.00" stroke="rgba(0,0,0,0.45)" stroke-width="1.1"/>
<line x1="951.89" y1="538.10" x2="951.89" y2="589.00" stroke="#000" stroke-width="1.1"/>
<line x1="951.89" y1="589.00" x2="951.89" y2="602.00" stroke="rgba(0,0,0,0.45)" stroke-width="1.1"/>
<line x1="956.92" y1="538.10" x2="956.92" y2="589.00" stroke="#000" stroke-width="1.1"/>
<line x1="956.92" y1="589.00" x2="956.92" y2="602.00" stroke="rgba(0,0,0,0.45)" stroke-width="1.1"/>
<line x1="965.41" y1="538.10" x2="965.41" y2="589.00" stroke="#000" stroke-width="1.1"/>
<line x1="965.41" y1="589.00" x2="965.41" y2="602.00" stroke="rgba(0,0,0,0.45)" stroke-width="1.1"/>
<line x1="966.76" y1="538.10" x2="966.76" y2="589.00" stroke="#000" stroke-width="1.1"/>
<line x1="966.76" y1="589.00" x2="966.76" y2="602.00" stroke="rgba(0,0,0,0.45)" stroke-width="1.1"/>
<line x1="975.57" y1="538.10" x2="975.57" y2="589.00" stroke="#000" stroke-width="1.1"/>
<line x1="975.57" y1="589.00" x2="975.57" y2="602.00" stroke="rgba(0,0,0,0.45)" stroke-width="1.1"/>
<line x1="975.84" y1="538.10" x2="975.84" y2="589.00" stroke="#000" stroke-width="1.1"/>
<line x1="975.84" y1="589.00" x2="975.84" y2="602.00" stroke="rgba(0,0,0,0.45)" stroke-width="1.1"/>
<line x1="979.37" y1="538.10" x2="979.37" y2="589.00" stroke="#000" stroke-width="1.1"/>
<line x1="979.37" y1="589.00" x2="979.37" y2="602.00" stroke="rgba(0,0,0,0.45)" stroke-width="1.1"/>
<line x1="980.58" y1="538.10" x2="980.58" y2="589.00" stroke="#000" stroke-width="1.1"/>
<line x1="980.58" y1="589.00" x2="980.58" y2="602.00" stroke="rgba(0,0,0,0.45)" stroke-width="1.1"/>
<line x1="981.83" y1="538.10" x2="981.83" y2="589.00" stroke="#000" stroke-width="1.1"/>
<line x1="981.83" y1="589.00" x2="981.83" y2="602.00" stroke="rgba(0,0,0,0.45)" stroke-width="1.1"/>
<line x1="986.31" y1="538.10" x2="986.31" y2="589.00" stroke="#000" stroke-width="1.1"/>
<line x1="986.31" y1="589.00" x2="986.31" y2="602.00" stroke="rgba(0,0,0,0.45)" stroke-width="1.1"/>
<line x1="989.18" y1="538.10" x2="989.18" y2="589.00" stroke="#000" stroke-width="1.1"/>
<line x1="989.18" y1="589.00" x2="989.18" y2="602.00" stroke="rgba(0,0,0,0.45)" stroke-width="1.1"/>
<line x1="992.76" y1="538.10" x2="992.76" y2="589.00" stroke="#000" stroke-width="1.1"/>
<line x1="992.76" y1="589.00" x2="992.76" y2="602.00" stroke="rgba(0,0,0,0.45)" stroke-width="1.1"/>
<line x1="1016.07" y1="538.10" x2="1016.07" y2="589.00" stroke="#000" stroke-width="1.1"/>
<line x1="1016.07" y1="589.00" x2="1016.07" y2="602.00" stroke="rgba(0,0,0,0.45)" stroke-width="1.1"/>
<line x1="1016.54" y1="538.10" x2="1016.54" y2="589.00" stroke="#000" stroke-width="1.1"/>
<line x1="1016.54" y1="589.00" x2="1016.54" y2="602.00" stroke="rgba(0,0,0,0.45)" stroke-width="1.1"/>
<line x1="1016.73" y1="538.10" x2="1016.73" y2="589.00" stroke="#000" stroke-width="1.1"/>
<line x1="1016.73" y1="589.00" x2="1016.73" y2="602.00" stroke="rgba(0,0,0,0.45)" stroke-width="1.1"/>
<line x1="1017.41" y1="538.10" x2="1017.41" y2="589.00" stroke="#000" stroke-width="1.1"/>
<line x1="1017.41" y1="589.00" x2="1017.41" y2="602.00" stroke="rgba(0,0,0,0.45)" stroke-width="1.1"/>
<line x1="1018.20" y1="538.10" x2="1018.20" y2="589.00" stroke="#000" stroke-width="1.1"/>
<line x1="1018.20" y1="589.00" x2="1018.20" y2="602.00" stroke="rgba(0,0,0,0.45)" stroke-width="1.1"/>
<line x1="1024.03" y1="538.10" x2="1024.03" y2="589.00" stroke="#000" stroke-width="1.1"/>
<line x1="1024.03" y1="589.00" x2="1024.03" y2="602.00" stroke="rgba(0,0,0,0.45)" stroke-width="1.1"/>
<line x1="1024.48" y1="538.10" x2="1024.48" y2="589.00" stroke="#000" stroke-width="1.1"/>
<line x1="1024.48" y1="589.00" x2="1024.48" y2="602.00" stroke="rgba(0,0,0,0.45)" stroke-width="1.1"/>
<line x1="1033.44" y1="538.10" x2="1033.44" y2="589.00" stroke="#000" stroke-width="1.1"/>
<line x1="1033.44" y1="589.00" x2="1033.44" y2="602.00" stroke="rgba(0,0,0,0.45)" stroke-width="1.1"/>
<line x1="1034.22" y1="538.10" x2="1034.22" y2="589.00" stroke="#000" stroke-width="1.1"/>
<line x1="1034.22" y1="589.00" x2="1034.22" y2="602.00" stroke="rgba(0,0,0,0.45)" stroke-width="1.1"/>
<line x1="1055.19" y1="538.10" x2="1055.19" y2="589.00" stroke="#000" stroke-width="1.1"/>
<line x1="1055.19" y1="589.00" x2="1055.19" y2="602.00" stroke="rgba(0,0,0,0.45)" stroke-width="1.1"/>
<line x1="1101.39" y1="538.10" x2="1101.39" y2="589.00" stroke="#000" stroke-width="1.1"/>
<line x1="1101.39" y1="589.00" x2="1101.39" y2="602.00" stroke="rgba(0,0,0,0.45)" stroke-width="1.1"/>
<line x1="1105.61" y1="538.10" x2="1105.61" y2="589.00" stroke="#000" stroke-width="1.1"/>
<line x1="1105.61" y1="589.00" x2="1105.61" y2="602.00" stroke="rgba(0,0,0,0.45)" stroke-width="1.1"/>
<line x1="1166.65" y1="538.10" x2="1166.65" y2="589.00" stroke="#000" stroke-width="1.1"/>
<line x1="1166.65" y1="589.00" x2="1166.65" y2="602.00" stroke="rgba(0,0,0,0.45)" stroke-width="1.1"/>
<line x1="1168.42" y1="538.10" x2="1168.42" y2="589.00" stroke="#000" stroke-width="1.1"/>
<line x1="1168.42" y1="589.00" x2="1168.42" y2="602.00" stroke="rgba(0,0,0,0.45)" stroke-width="1.1"/>
<line x1="1169.47" y1="538.10" x2="1169.47" y2="589.00" stroke="#000" stroke-width="1.1"/>
<line x1="1169.47" y1="589.00" x2="1169.47" y2="602.00" stroke="rgba(0,0,0,0.45)" stroke-width="1.1"/>
<line x1="1170.10" y1="538.10" x2="1170.10" y2="589.00" stroke="#000" stroke-width="1.1"/>
<line x1="1170.10" y1="589.00" x2="1170.10" y2="602.00" stroke="rgba(0,0,0,0.45)" stroke-width="1.1"/>
<line x1="1172.25" y1="538.10" x2="1172.25" y2="589.00" stroke="#000" stroke-width="1.1"/>
<line x1="1172.25" y1="589.00" x2="1172.25" y2="602.00" stroke="rgba(0,0,0,0.45)" stroke-width="1.1"/>
<line x1="1176.36" y1="538.10" x2="1176.36" y2="589.00" stroke="#000" stroke-width="1.1"/>
<line x1="1176.36" y1="589.00" x2="1176.36" y2="602.00" stroke="rgba(0,0,0,0.45)" stroke-width="1.1"/>
<line x1="1179.30" y1="538.10" x2="1179.30" y2="589.00" stroke="#000" stroke-width="1.1"/>
<line x1="1179.30" y1="589.00" x2="1179.30" y2="602.00" stroke="rgba(0,0,0,0.45)" stroke-width="1.1"/>
<line x1="1182.39" y1="538.10" x2="1182.39" y2="589.00" stroke="#000" stroke-width="1.1"/>
<line x1="1182.39" y1="589.00" x2="1182.39" y2="602.00" stroke="rgba(0,0,0,0.45)" stroke-width="1.1"/>
<line x1="1201.87" y1="538.10" x2="1201.87" y2="589.00" stroke="#000" stroke-width="1.1"/>
<line x1="1201.87" y1="589.00" x2="1201.87" y2="602.00" stroke="rgba(0,0,0,0.45)" stroke-width="1.1"/>
<line x1="1203.42" y1="538.10" x2="1203.42" y2="589.00" stroke="#000" stroke-width="1.1"/>
<line x1="1203.42" y1="589.00" x2="1203.42" y2="602.00" stroke="rgba(0,0,0,0.45)" stroke-width="1.1"/>
<line x1="1203.46" y1="538.10" x2="1203.46" y2="589.00" stroke="#000" stroke-width="1.1"/>
<line x1="1203.46" y1="589.00" x2="1203.46" y2="602.00" stroke="rgba(0,0,0,0.45)" stroke-width="1.1"/>
<line x1="1204.09" y1="538.10" x2="1204.09" y2="589.00" stroke="#000" stroke-width="1.1"/>
<line x1="1204.09" y1="589.00" x2="1204.09" y2="602.00" stroke="rgba(0,0,0,0.45)" stroke-width="1.1"/>
<line x1="1206.00" y1="538.10" x2="1206.00" y2="589.00" stroke="#000" stroke-width="1.1"/>
<line x1="1206.00" y1="589.00" x2="1206.00" y2="602.00" stroke="rgba(0,0,0,0.45)" stroke-width="1.1"/>
<line x1="1209.47" y1="538.10" x2="1209.47" y2="589.00" stroke="#000" stroke-width="1.1"/>
<line x1="1209.47" y1="589.00" x2="1209.47" y2="602.00" stroke="rgba(0,0,0,0.45)" stroke-width="1.1"/>
<line x1="1212.46" y1="538.10" x2="1212.46" y2="589.00" stroke="#000" stroke-width="1.1"/>
<line x1="1212.46" y1="589.00" x2="1212.46" y2="602.00" stroke="rgba(0,0,0,0.45)" stroke-width="1.1"/>
<line x1="1212.88" y1="538.10" x2="1212.88" y2="589.00" stroke="#000" stroke-width="1.1"/>
<line x1="1212.88" y1="589.00" x2="1212.88" y2="602.00" stroke="rgba(0,0,0,0.45)" stroke-width="1.1"/>
<line x1="1214.35" y1="538.10" x2="1214.35" y2="589.00" stroke="#000" stroke-width="1.1"/>
<line x1="1214.35" y1="589.00" x2="1214.35" y2="602.00" stroke="rgba(0,0,0,0.45)" stroke-width="1.1"/>
<line x1="1216.66" y1="538.10" x2="1216.66" y2="589.00" stroke="#000" stroke-width="1.1"/>
<line x1="1216.66" y1="589.00" x2="1216.66" y2="602.00" stroke="rgba(0,0,0,0.45)" stroke-width="1.1"/>
<line x1="1216.96" y1="538.10" x2="1216.96" y2="589.00" stroke="#000" stroke-width="1.1"/>
<line x1="1216.96" y1="589.00" x2="1216.96" y2="602.00" stroke="rgba(0,0,0,0.45)" stroke-width="1.1"/>
<line x1="1220.58" y1="538.10" x2="1220.58" y2="589.00" stroke="#000" stroke-width="1.1"/>
<line x1="1220.58" y1="589.00" x2="1220.58" y2="602.00" stroke="rgba(0,0,0,0.45)" stroke-width="1.1"/>
<line x1="1221.15" y1="538.10" x2="1221.15" y2="589.00" stroke="#000" stroke-width="1.1"/>
<line x1="1221.15" y1="589.00" x2="1221.15" y2="602.00" stroke="rgba(0,0,0,0.45)" stroke-width="1.1"/>
<line x1="1228.93" y1="538.10" x2="1228.93" y2="589.00" stroke="#000" stroke-width="1.1"/>
<line x1="1228.93" y1="589.00" x2="1228.93" y2="602.00" stroke="rgba(0,0,0,0.45)" stroke-width="1.1"/>
<polyline points="888.08,524.98 888.81,518.39 890.03,498.87 890.76,476.90 892.47,469.58 894.91,464.70 897.35,454.94 899.79,451.28 902.23,447.62 903.45,428.09 904.67,420.77 907.11,420.77 908.33,412.23 910.77,408.57 913.21,407.35 915.65,401.25 918.09,402.47 921.76,402.47 922.98,396.37 925.42,393.93 926.64,389.05 930.30,387.83 933.96,387.83 936.40,386.12 942.50,390.27 947.38,392.71 952.26,391.49 962.02,395.15 966.90,396.86 976.67,401.25 986.43,404.91 996.19,408.57 1010.83,415.89 1035.24,428.09 1059.64,441.52 1084.05,454.94 1108.45,468.36 1132.85,483.00 1157.26,496.43 1181.66,511.07 1198.75,518.88 1210.95,522.30 1220.71,523.27 1230.47,529.37 1232.91,524.49" fill="none" stroke="#5cb82a" stroke-width="2.3" stroke-linejoin="round"/>
<polygon points="888.20,659.70 888.20,614.90 889.52,618.89 890.83,622.29 892.15,625.18 893.46,627.66 894.78,629.79 896.09,631.64 897.41,633.24 898.73,634.64 900.04,635.88 901.36,636.97 902.67,637.95 903.99,638.82 905.30,639.61 906.62,640.33 907.94,641.00 909.25,641.61 910.57,642.17 911.88,642.70 913.20,643.20 914.51,643.67 915.83,644.12 917.15,644.54 918.46,644.95 919.78,645.34 921.09,645.72 922.41,646.08 923.72,646.43 925.04,646.77 926.36,647.10 927.67,647.42 928.99,647.73 930.30,648.04 931.62,648.33 932.93,648.62 934.25,648.91 935.57,649.18 936.88,649.45 938.20,649.72 939.51,649.98 940.83,650.23 942.14,650.48 943.46,650.72 944.78,650.96 946.09,651.19 947.41,651.42 948.72,651.65 950.04,651.87 951.35,652.09 952.67,652.30 953.99,652.51 955.30,652.71 956.62,652.91 957.93,653.11 959.25,653.30 960.56,653.49 961.88,653.67 963.20,653.86 964.51,654.04 965.83,654.21 967.14,654.38 968.46,654.55 969.77,654.72 971.09,654.88 972.41,655.04 973.72,655.20 975.04,655.36 976.35,655.51 977.67,655.66 978.99,655.80 980.30,655.95 981.62,656.09 982.93,656.23 984.25,656.36 985.56,656.50 986.88,656.63 988.20,656.76 989.51,656.89 990.83,657.01 992.14,657.14 993.46,657.26 994.77,657.38 996.09,657.49 997.41,657.61 998.72,657.72 1000.04,657.83 1001.35,657.94 1002.67,658.05 1003.98,658.16 1005.30,658.26 1006.62,658.36 1007.93,658.46 1009.25,658.56 1010.56,658.66 1011.88,658.76 1013.19,658.85 1014.51,658.94 1015.83,659.04 1017.14,659.13 1018.46,659.22 1019.77,659.30 1021.09,659.39 1022.40,659.47 1023.72,659.56 1025.04,659.64 1026.35,659.72 1027.08,659.70" fill="#c4c4c4"/>
<polygon points="1160.12,659.70 1160.12,659.70 1160.56,659.73 1160.99,659.77 1161.43,659.81 1161.87,659.84 1162.31,659.88 1162.75,659.91 1163.19,659.95 1163.63,659.99 1164.06,660.02 1164.50,660.06 1164.94,660.10 1165.38,660.13 1165.82,660.17 1166.26,660.21 1166.70,660.25 1167.13,660.29 1167.57,660.32 1168.01,660.36 1168.45,660.40 1168.89,660.44 1169.33,660.48 1169.77,660.52 1170.20,660.56 1170.64,660.60 1171.08,660.64 1171.52,660.68 1171.96,660.73 1172.40,660.77 1172.84,660.81 1173.27,660.85 1173.71,660.89 1174.15,660.94 1174.59,660.98 1175.03,661.02 1175.47,661.07 1175.91,661.11 1176.34,661.16 1176.78,661.20 1177.22,661.25 1177.66,661.29 1178.10,661.34 1178.54,661.38 1178.98,661.43 1179.41,661.48 1179.85,661.53 1180.29,661.57 1180.73,661.62 1181.17,661.67 1181.61,661.72 1182.05,661.77 1182.48,661.82 1182.92,661.87 1183.36,661.92 1183.80,661.97 1184.24,662.02 1184.68,662.07 1185.12,662.13 1185.55,662.18 1185.99,662.23 1186.43,662.29 1186.87,662.34 1187.31,662.40 1187.75,662.45 1188.19,662.51 1188.62,662.57 1189.06,662.62 1189.50,662.68 1189.94,662.74 1190.38,662.80 1190.82,662.86 1191.26,662.92 1191.69,662.98 1192.13,663.04 1192.57,663.10 1193.01,663.17 1193.45,663.23 1193.89,663.29 1194.33,663.36 1194.76,663.42 1195.20,663.49 1195.64,663.56 1196.08,663.62 1196.52,663.69 1196.96,663.76 1197.40,663.83 1197.83,663.90 1198.27,663.98 1198.71,664.05 1199.15,664.12 1199.59,664.20 1200.03,664.27 1200.47,664.35 1200.90,664.43 1201.34,664.51 1201.78,664.59 1202.22,664.67 1202.66,664.75 1203.10,664.84 1203.54,664.92 1203.97,665.01 1204.41,665.09 1204.85,665.18 1205.29,665.27 1205.73,665.36 1206.17,665.46 1206.61,665.55 1207.04,665.65 1207.48,665.74 1207.92,665.84 1208.36,665.94 1208.80,666.05 1209.24,666.15 1209.68,666.26 1210.11,666.37 1210.55,666.48 1210.99,666.59 1211.43,666.70 1211.87,666.82 1212.31,666.94 1212.75,667.06 1213.18,667.19 1213.62,667.31 1214.06,667.44 1214.50,667.58 1214.94,667.71 1215.38,667.85 1215.82,668.00 1216.25,668.14 1216.69,668.29 1217.13,668.45 1217.57,668.61 1218.01,668.77 1218.45,668.94 1218.89,669.11 1219.32,669.29 1219.76,669.47 1220.20,669.66 1220.64,669.85 1221.08,670.06 1221.52,670.27 1221.96,670.48 1222.39,670.71 1222.83,670.95 1223.27,671.19 1223.71,671.45 1224.15,671.72 1224.59,672.00 1225.03,672.29 1225.46,672.60 1225.90,672.93 1226.34,673.28 1226.78,673.65 1227.22,674.04 1227.66,674.47 1228.10,674.92 1228.53,675.42 1228.97,675.96 1229.41,676.56 1229.85,677.23 1230.29,677.98 1230.73,678.84 1231.17,679.86 1231.60,681.09 1232.04,682.65 1232.48,684.79 1232.92,688.21 1233.36,697.57 1233.36,659.70" fill="#c4c4c4"/>
<line x1="1027.08" y1="602.00" x2="1027.08" y2="708.00" stroke="#333" stroke-width="1.0" stroke-dasharray="3 2"/>
<text x="1034.00" y="657.42" font-size="9.00" text-anchor="middle" fill="#333">Zero cross at 15833</text>
<text x="890.00" y="613.73" font-size="9.85" font-weight="bold" fill="#e53b25">'shCtrl' (positively correlated)</text>
<text x="1230.00" y="703.03" font-size="9.85" font-weight="bold" text-anchor="end" fill="#3346a8">'GMDS-AS1_sh2' (negatively correlated)</text>
<line x1="885.20" y1="525.00" x2="888.20" y2="525.00" stroke="#777" stroke-width="1.0"/>
<text x="884.00" y="528.29" font-size="9.20" font-weight="bold" text-anchor="end" fill="#222">0.0</text>
<line x1="885.20" y1="505.74" x2="888.20" y2="505.74" stroke="#777" stroke-width="1.0"/>
<text x="884.00" y="509.03" font-size="9.20" font-weight="bold" text-anchor="end" fill="#222">0.1</text>
<line x1="885.20" y1="486.48" x2="888.20" y2="486.48" stroke="#777" stroke-width="1.0"/>
<text x="884.00" y="489.77" font-size="9.20" font-weight="bold" text-anchor="end" fill="#222">0.2</text>
<line x1="885.20" y1="467.22" x2="888.20" y2="467.22" stroke="#777" stroke-width="1.0"/>
<text x="884.00" y="470.51" font-size="9.20" font-weight="bold" text-anchor="end" fill="#222">0.3</text>
<line x1="885.20" y1="447.96" x2="888.20" y2="447.96" stroke="#777" stroke-width="1.0"/>
<text x="884.00" y="451.25" font-size="9.20" font-weight="bold" text-anchor="end" fill="#222">0.4</text>
<line x1="885.20" y1="428.70" x2="888.20" y2="428.70" stroke="#777" stroke-width="1.0"/>
<text x="884.00" y="431.99" font-size="9.20" font-weight="bold" text-anchor="end" fill="#222">0.5</text>
<line x1="885.20" y1="409.44" x2="888.20" y2="409.44" stroke="#777" stroke-width="1.0"/>
<text x="884.00" y="412.73" font-size="9.20" font-weight="bold" text-anchor="end" fill="#222">0.6</text>
<line x1="885.20" y1="390.18" x2="888.20" y2="390.18" stroke="#777" stroke-width="1.0"/>
<text x="884.00" y="393.47" font-size="9.20" font-weight="bold" text-anchor="end" fill="#222">0.7</text>
<line x1="885.20" y1="603.70" x2="888.20" y2="603.70" stroke="#777" stroke-width="1.0"/>
<text x="884.00" y="606.99" font-size="9.20" font-weight="bold" text-anchor="end" fill="#222">5.0</text>
<line x1="885.20" y1="631.70" x2="888.20" y2="631.70" stroke="#777" stroke-width="1.0"/>
<text x="884.00" y="634.99" font-size="9.20" font-weight="bold" text-anchor="end" fill="#222">2.5</text>
<line x1="885.20" y1="659.70" x2="888.20" y2="659.70" stroke="#777" stroke-width="1.0"/>
<text x="884.00" y="662.99" font-size="9.20" font-weight="bold" text-anchor="end" fill="#222">0.0</text>
<line x1="885.20" y1="687.70" x2="888.20" y2="687.70" stroke="#777" stroke-width="1.0"/>
<text x="884.00" y="690.99" font-size="9.20" font-weight="bold" text-anchor="end" fill="#222">-2.5</text>
<text x="888.20" y="717.47" font-size="9.70" font-weight="bold" text-anchor="middle" fill="#222">0</text>
<text x="932.06" y="717.47" font-size="9.70" font-weight="bold" text-anchor="middle" fill="#222">5,000</text>
<text x="975.92" y="717.47" font-size="9.70" font-weight="bold" text-anchor="middle" fill="#222">10,000</text>
<text x="1019.77" y="717.47" font-size="9.70" font-weight="bold" text-anchor="middle" fill="#222">15,000</text>
<text x="1063.63" y="717.47" font-size="9.70" font-weight="bold" text-anchor="middle" fill="#222">20,000</text>
<text x="1107.49" y="717.47" font-size="9.70" font-weight="bold" text-anchor="middle" fill="#222">25,000</text>
<text x="1151.35" y="717.47" font-size="9.70" font-weight="bold" text-anchor="middle" fill="#222">30,000</text>
<text x="1195.20" y="717.47" font-size="9.70" font-weight="bold" text-anchor="middle" fill="#222">35,000</text>
<text x="1239.06" y="717.47" font-size="9.70" font-weight="bold" text-anchor="middle" fill="#222">40,000</text>
<text x="1068.00" y="732.12" font-size="11.50" font-weight="bold" text-anchor="middle" fill="#222">Rank in Ordered Dataset</text>
<text x="860.20" y="459.62" font-size="11.50" font-weight="bold" text-anchor="middle" fill="#222" transform="rotate(-90 860.20 455.50)">Enrichment score (ES)</text>
<text x="859.20" y="642.08" font-size="11.40" font-weight="bold" text-anchor="middle" fill="#222" transform="rotate(-90 859.20 638.00)">Ranked list metric (Signal2Noise)</text>
<text x="1131.60" y="407.12" font-size="19.90">NES=1.54</text>
<text x="1131.60" y="438.86" font-size="20.00">NOM p=0</text>
<rect x="914.4" y="738.8" width="273.6" height="15.100000000000023" fill="#fff" stroke="#111" stroke-width="1.4"/>
<line x1="916.90" y1="746.35" x2="930.30" y2="746.35" stroke="#5cb82a" stroke-width="2.2"/>
<text x="932.70" y="749.86" font-size="9.80" fill="#222">Enrichment profile</text>
<line x1="1015.70" y1="746.35" x2="1027.90" y2="746.35" stroke="#222" stroke-width="1.3"/>
<text x="1031.60" y="749.86" font-size="9.80" fill="#222">Hits</text>
<line x1="1053.50" y1="743.85" x2="1064.50" y2="743.85" stroke="#888" stroke-width="1.3"/>
<line x1="1073.00" y1="746.35" x2="1084.00" y2="746.35" stroke="#ccc" stroke-width="1.3"/>
<text x="1088.40" y="749.86" font-size="9.80" fill="#222">Ranking metric scores</text>
<text x="1051.80" y="786.03" font-size="14.90" font-weight="bold" text-anchor="middle">HALLMARK_INFLAMMATORY_RESPONSE</text>
<line x1="932.06" y1="793.4" x2="932.06" y2="951.6" stroke="#d4d4d4" stroke-width="0.9" stroke-dasharray="2 2"/>
<line x1="932.06" y1="1017.5" x2="932.06" y2="1122.9" stroke="#d4d4d4" stroke-width="0.9" stroke-dasharray="2 2"/>
<line x1="975.92" y1="793.4" x2="975.92" y2="951.6" stroke="#d4d4d4" stroke-width="0.9" stroke-dasharray="2 2"/>
<line x1="975.92" y1="1017.5" x2="975.92" y2="1122.9" stroke="#d4d4d4" stroke-width="0.9" stroke-dasharray="2 2"/>
<line x1="1019.77" y1="793.4" x2="1019.77" y2="951.6" stroke="#d4d4d4" stroke-width="0.9" stroke-dasharray="2 2"/>
<line x1="1019.77" y1="1017.5" x2="1019.77" y2="1122.9" stroke="#d4d4d4" stroke-width="0.9" stroke-dasharray="2 2"/>
<line x1="1063.63" y1="793.4" x2="1063.63" y2="951.6" stroke="#d4d4d4" stroke-width="0.9" stroke-dasharray="2 2"/>
<line x1="1063.63" y1="1017.5" x2="1063.63" y2="1122.9" stroke="#d4d4d4" stroke-width="0.9" stroke-dasharray="2 2"/>
<line x1="1107.49" y1="793.4" x2="1107.49" y2="951.6" stroke="#d4d4d4" stroke-width="0.9" stroke-dasharray="2 2"/>
<line x1="1107.49" y1="1017.5" x2="1107.49" y2="1122.9" stroke="#d4d4d4" stroke-width="0.9" stroke-dasharray="2 2"/>
<line x1="1151.35" y1="793.4" x2="1151.35" y2="951.6" stroke="#d4d4d4" stroke-width="0.9" stroke-dasharray="2 2"/>
<line x1="1151.35" y1="1017.5" x2="1151.35" y2="1122.9" stroke="#d4d4d4" stroke-width="0.9" stroke-dasharray="2 2"/>
<line x1="1195.20" y1="793.4" x2="1195.20" y2="951.6" stroke="#d4d4d4" stroke-width="0.9" stroke-dasharray="2 2"/>
<line x1="1195.20" y1="1017.5" x2="1195.20" y2="1122.9" stroke="#d4d4d4" stroke-width="0.9" stroke-dasharray="2 2"/>
<line x1="1239.06" y1="793.4" x2="1239.06" y2="951.6" stroke="#d4d4d4" stroke-width="0.9" stroke-dasharray="2 2"/>
<line x1="1239.06" y1="1017.5" x2="1239.06" y2="1122.9" stroke="#d4d4d4" stroke-width="0.9" stroke-dasharray="2 2"/>
<line x1="888.2" y1="918.92" x2="1251.2" y2="918.92" stroke="#d4d4d4" stroke-width="0.9" stroke-dasharray="2 2"/>
<line x1="888.2" y1="897.24" x2="1251.2" y2="897.24" stroke="#d4d4d4" stroke-width="0.9" stroke-dasharray="2 2"/>
<line x1="888.2" y1="875.56" x2="1251.2" y2="875.56" stroke="#d4d4d4" stroke-width="0.9" stroke-dasharray="2 2"/>
<line x1="888.2" y1="853.88" x2="1251.2" y2="853.88" stroke="#d4d4d4" stroke-width="0.9" stroke-dasharray="2 2"/>
<line x1="888.2" y1="832.20" x2="1251.2" y2="832.20" stroke="#d4d4d4" stroke-width="0.9" stroke-dasharray="2 2"/>
<line x1="888.2" y1="810.52" x2="1251.2" y2="810.52" stroke="#d4d4d4" stroke-width="0.9" stroke-dasharray="2 2"/>
<line x1="888.2" y1="1046.75" x2="1251.2" y2="1046.75" stroke="#d4d4d4" stroke-width="0.9" stroke-dasharray="2 2"/>
<line x1="888.2" y1="1102.85" x2="1251.2" y2="1102.85" stroke="#d4d4d4" stroke-width="0.9" stroke-dasharray="2 2"/>
<rect x="888.2" y="793.4" width="363.0" height="329.5000000000001" fill="none" stroke="#cfcfcf" stroke-width="1.2"/>
<line x1="888.20" y1="951.60" x2="1251.20" y2="951.60" stroke="#bdbdbd" stroke-width="1.2"/>
<line x1="888.20" y1="940.60" x2="1251.20" y2="940.60" stroke="#9a9a9a" stroke-width="1.2"/>
<line x1="888.20" y1="1017.50" x2="1251.20" y2="1017.50" stroke="#bdbdbd" stroke-width="1.0"/>
<line x1="888.20" y1="793.40" x2="888.20" y2="1122.90" stroke="#8a8a8a" stroke-width="1.6"/>
<line x1="888.20" y1="1122.90" x2="1251.20" y2="1122.90" stroke="#8a8a8a" stroke-width="1.6"/>
<defs><linearGradient id="gcb1" x1="888.2" x2="1233.4" y1="0" y2="0" gradientUnits="userSpaceOnUse"><stop offset="0" stop-color="#a01818"/><stop offset="0.05" stop-color="#d83a3a"/><stop offset="0.2" stop-color="#e85a5a"/><stop offset="0.3" stop-color="#ee8a8a"/><stop offset="0.33" stop-color="#f0b8d4"/><stop offset="0.79" stop-color="#eeb9d6"/><stop offset="0.8" stop-color="#d2d2ea"/><stop offset="0.93" stop-color="#c8c8e6"/><stop offset="0.95" stop-color="#5a5ab0"/><stop offset="1" stop-color="#22288a"/></linearGradient></defs>
<rect x="888.20" y="1004.00" width="345.16" height="13.50" fill="url(#gcb1)"/>
<line x1="888.66" y1="953.10" x2="888.66" y2="1004.00" stroke="#000" stroke-width="1.1"/>
<line x1="888.66" y1="1004.00" x2="888.66" y2="1017.50" stroke="rgba(0,0,0,0.45)" stroke-width="1.1"/>
<line x1="888.79" y1="953.10" x2="888.79" y2="1004.00" stroke="#000" stroke-width="1.1"/>
<line x1="888.79" y1="1004.00" x2="888.79" y2="1017.50" stroke="rgba(0,0,0,0.45)" stroke-width="1.1"/>
<line x1="888.94" y1="953.10" x2="888.94" y2="1004.00" stroke="#000" stroke-width="1.1"/>
<line x1="888.94" y1="1004.00" x2="888.94" y2="1017.50" stroke="rgba(0,0,0,0.45)" stroke-width="1.1"/>
<line x1="889.47" y1="953.10" x2="889.47" y2="1004.00" stroke="#000" stroke-width="1.1"/>
<line x1="889.47" y1="1004.00" x2="889.47" y2="1017.50" stroke="rgba(0,0,0,0.45)" stroke-width="1.1"/>
<line x1="889.84" y1="953.10" x2="889.84" y2="1004.00" stroke="#000" stroke-width="1.1"/>
<line x1="889.84" y1="1004.00" x2="889.84" y2="1017.50" stroke="rgba(0,0,0,0.45)" stroke-width="1.1"/>
<line x1="890.13" y1="953.10" x2="890.13" y2="1004.00" stroke="#000" stroke-width="1.1"/>
<line x1="890.13" y1="1004.00" x2="890.13" y2="1017.50" stroke="rgba(0,0,0,0.45)" stroke-width="1.1"/>
<line x1="890.29" y1="953.10" x2="890.29" y2="1004.00" stroke="#000" stroke-width="1.1"/>
<line x1="890.29" y1="1004.00" x2="890.29" y2="1017.50" stroke="rgba(0,0,0,0.45)" stroke-width="1.1"/>
<line x1="890.72" y1="953.10" x2="890.72" y2="1004.00" stroke="#000" stroke-width="1.1"/>
<line x1="890.72" y1="1004.00" x2="890.72" y2="1017.50" stroke="rgba(0,0,0,0.45)" stroke-width="1.1"/>
<line x1="890.94" y1="953.10" x2="890.94" y2="1004.00" stroke="#000" stroke-width="1.1"/>
<line x1="890.94" y1="1004.00" x2="890.94" y2="1017.50" stroke="rgba(0,0,0,0.45)" stroke-width="1.1"/>
<line x1="891.71" y1="953.10" x2="891.71" y2="1004.00" stroke="#000" stroke-width="1.1"/>
<line x1="891.71" y1="1004.00" x2="891.71" y2="1017.50" stroke="rgba(0,0,0,0.45)" stroke-width="1.1"/>
<line x1="891.76" y1="953.10" x2="891.76" y2="1004.00" stroke="#000" stroke-width="1.1"/>
<line x1="891.76" y1="1004.00" x2="891.76" y2="1017.50" stroke="rgba(0,0,0,0.45)" stroke-width="1.1"/>
<line x1="892.22" y1="953.10" x2="892.22" y2="1004.00" stroke="#000" stroke-width="1.1"/>
<line x1="892.22" y1="1004.00" x2="892.22" y2="1017.50" stroke="rgba(0,0,0,0.45)" stroke-width="1.1"/>
<line x1="892.36" y1="953.10" x2="892.36" y2="1004.00" stroke="#000" stroke-width="1.1"/>
<line x1="892.36" y1="1004.00" x2="892.36" y2="1017.50" stroke="rgba(0,0,0,0.45)" stroke-width="1.1"/>
<line x1="893.30" y1="953.10" x2="893.30" y2="1004.00" stroke="#000" stroke-width="1.1"/>
<line x1="893.30" y1="1004.00" x2="893.30" y2="1017.50" stroke="rgba(0,0,0,0.45)" stroke-width="1.1"/>
<line x1="894.42" y1="953.10" x2="894.42" y2="1004.00" stroke="#000" stroke-width="1.1"/>
<line x1="894.42" y1="1004.00" x2="894.42" y2="1017.50" stroke="rgba(0,0,0,0.45)" stroke-width="1.1"/>
<line x1="895.22" y1="953.10" x2="895.22" y2="1004.00" stroke="#000" stroke-width="1.1"/>
<line x1="895.22" y1="1004.00" x2="895.22" y2="1017.50" stroke="rgba(0,0,0,0.45)" stroke-width="1.1"/>
<line x1="895.90" y1="953.10" x2="895.90" y2="1004.00" stroke="#000" stroke-width="1.1"/>
<line x1="895.90" y1="1004.00" x2="895.90" y2="1017.50" stroke="rgba(0,0,0,0.45)" stroke-width="1.1"/>
<line x1="895.99" y1="953.10" x2="895.99" y2="1004.00" stroke="#000" stroke-width="1.1"/>
<line x1="895.99" y1="1004.00" x2="895.99" y2="1017.50" stroke="rgba(0,0,0,0.45)" stroke-width="1.1"/>
<line x1="897.44" y1="953.10" x2="897.44" y2="1004.00" stroke="#000" stroke-width="1.1"/>
<line x1="897.44" y1="1004.00" x2="897.44" y2="1017.50" stroke="rgba(0,0,0,0.45)" stroke-width="1.1"/>
<line x1="897.96" y1="953.10" x2="897.96" y2="1004.00" stroke="#000" stroke-width="1.1"/>
<line x1="897.96" y1="1004.00" x2="897.96" y2="1017.50" stroke="rgba(0,0,0,0.45)" stroke-width="1.1"/>
<line x1="898.14" y1="953.10" x2="898.14" y2="1004.00" stroke="#000" stroke-width="1.1"/>
<line x1="898.14" y1="1004.00" x2="898.14" y2="1017.50" stroke="rgba(0,0,0,0.45)" stroke-width="1.1"/>
<line x1="899.29" y1="953.10" x2="899.29" y2="1004.00" stroke="#000" stroke-width="1.1"/>
<line x1="899.29" y1="1004.00" x2="899.29" y2="1017.50" stroke="rgba(0,0,0,0.45)" stroke-width="1.1"/>
<line x1="899.30" y1="953.10" x2="899.30" y2="1004.00" stroke="#000" stroke-width="1.1"/>
<line x1="899.30" y1="1004.00" x2="899.30" y2="1017.50" stroke="rgba(0,0,0,0.45)" stroke-width="1.1"/>
<line x1="899.39" y1="953.10" x2="899.39" y2="1004.00" stroke="#000" stroke-width="1.1"/>
<line x1="899.39" y1="1004.00" x2="899.39" y2="1017.50" stroke="rgba(0,0,0,0.45)" stroke-width="1.1"/>
<line x1="899.66" y1="953.10" x2="899.66" y2="1004.00" stroke="#000" stroke-width="1.1"/>
<line x1="899.66" y1="1004.00" x2="899.66" y2="1017.50" stroke="rgba(0,0,0,0.45)" stroke-width="1.1"/>
<line x1="899.91" y1="953.10" x2="899.91" y2="1004.00" stroke="#000" stroke-width="1.1"/>
<line x1="899.91" y1="1004.00" x2="899.91" y2="1017.50" stroke="rgba(0,0,0,0.45)" stroke-width="1.1"/>
<line x1="900.38" y1="953.10" x2="900.38" y2="1004.00" stroke="#000" stroke-width="1.1"/>
<line x1="900.38" y1="1004.00" x2="900.38" y2="1017.50" stroke="rgba(0,0,0,0.45)" stroke-width="1.1"/>
<line x1="901.15" y1="953.10" x2="901.15" y2="1004.00" stroke="#000" stroke-width="1.1"/>
<line x1="901.15" y1="1004.00" x2="901.15" y2="1017.50" stroke="rgba(0,0,0,0.45)" stroke-width="1.1"/>
<line x1="902.49" y1="953.10" x2="902.49" y2="1004.00" stroke="#000" stroke-width="1.1"/>
<line x1="902.49" y1="1004.00" x2="902.49" y2="1017.50" stroke="rgba(0,0,0,0.45)" stroke-width="1.1"/>
<line x1="903.40" y1="953.10" x2="903.40" y2="1004.00" stroke="#000" stroke-width="1.1"/>
<line x1="903.40" y1="1004.00" x2="903.40" y2="1017.50" stroke="rgba(0,0,0,0.45)" stroke-width="1.1"/>
<line x1="903.90" y1="953.10" x2="903.90" y2="1004.00" stroke="#000" stroke-width="1.1"/>
<line x1="903.90" y1="1004.00" x2="903.90" y2="1017.50" stroke="rgba(0,0,0,0.45)" stroke-width="1.1"/>
<line x1="904.28" y1="953.10" x2="904.28" y2="1004.00" stroke="#000" stroke-width="1.1"/>
<line x1="904.28" y1="1004.00" x2="904.28" y2="1017.50" stroke="rgba(0,0,0,0.45)" stroke-width="1.1"/>
<line x1="904.73" y1="953.10" x2="904.73" y2="1004.00" stroke="#000" stroke-width="1.1"/>
<line x1="904.73" y1="1004.00" x2="904.73" y2="1017.50" stroke="rgba(0,0,0,0.45)" stroke-width="1.1"/>
<line x1="906.17" y1="953.10" x2="906.17" y2="1004.00" stroke="#000" stroke-width="1.1"/>
<line x1="906.17" y1="1004.00" x2="906.17" y2="1017.50" stroke="rgba(0,0,0,0.45)" stroke-width="1.1"/>
<line x1="906.55" y1="953.10" x2="906.55" y2="1004.00" stroke="#000" stroke-width="1.1"/>
<line x1="906.55" y1="1004.00" x2="906.55" y2="1017.50" stroke="rgba(0,0,0,0.45)" stroke-width="1.1"/>
<line x1="906.95" y1="953.10" x2="906.95" y2="1004.00" stroke="#000" stroke-width="1.1"/>
<line x1="906.95" y1="1004.00" x2="906.95" y2="1017.50" stroke="rgba(0,0,0,0.45)" stroke-width="1.1"/>
<line x1="907.12" y1="953.10" x2="907.12" y2="1004.00" stroke="#000" stroke-width="1.1"/>
<line x1="907.12" y1="1004.00" x2="907.12" y2="1017.50" stroke="rgba(0,0,0,0.45)" stroke-width="1.1"/>
<line x1="907.24" y1="953.10" x2="907.24" y2="1004.00" stroke="#000" stroke-width="1.1"/>
<line x1="907.24" y1="1004.00" x2="907.24" y2="1017.50" stroke="rgba(0,0,0,0.45)" stroke-width="1.1"/>
<line x1="907.49" y1="953.10" x2="907.49" y2="1004.00" stroke="#000" stroke-width="1.1"/>
<line x1="907.49" y1="1004.00" x2="907.49" y2="1017.50" stroke="rgba(0,0,0,0.45)" stroke-width="1.1"/>
<line x1="908.13" y1="953.10" x2="908.13" y2="1004.00" stroke="#000" stroke-width="1.1"/>
<line x1="908.13" y1="1004.00" x2="908.13" y2="1017.50" stroke="rgba(0,0,0,0.45)" stroke-width="1.1"/>
<line x1="909.58" y1="953.10" x2="909.58" y2="1004.00" stroke="#000" stroke-width="1.1"/>
<line x1="909.58" y1="1004.00" x2="909.58" y2="1017.50" stroke="rgba(0,0,0,0.45)" stroke-width="1.1"/>
<line x1="910.26" y1="953.10" x2="910.26" y2="1004.00" stroke="#000" stroke-width="1.1"/>
<line x1="910.26" y1="1004.00" x2="910.26" y2="1017.50" stroke="rgba(0,0,0,0.45)" stroke-width="1.1"/>
<line x1="911.26" y1="953.10" x2="911.26" y2="1004.00" stroke="#000" stroke-width="1.1"/>
<line x1="911.26" y1="1004.00" x2="911.26" y2="1017.50" stroke="rgba(0,0,0,0.45)" stroke-width="1.1"/>
<line x1="911.58" y1="953.10" x2="911.58" y2="1004.00" stroke="#000" stroke-width="1.1"/>
<line x1="911.58" y1="1004.00" x2="911.58" y2="1017.50" stroke="rgba(0,0,0,0.45)" stroke-width="1.1"/>
<line x1="911.75" y1="953.10" x2="911.75" y2="1004.00" stroke="#000" stroke-width="1.1"/>
<line x1="911.75" y1="1004.00" x2="911.75" y2="1017.50" stroke="rgba(0,0,0,0.45)" stroke-width="1.1"/>
<line x1="912.58" y1="953.10" x2="912.58" y2="1004.00" stroke="#000" stroke-width="1.1"/>
<line x1="912.58" y1="1004.00" x2="912.58" y2="1017.50" stroke="rgba(0,0,0,0.45)" stroke-width="1.1"/>
<line x1="913.04" y1="953.10" x2="913.04" y2="1004.00" stroke="#000" stroke-width="1.1"/>
<line x1="913.04" y1="1004.00" x2="913.04" y2="1017.50" stroke="rgba(0,0,0,0.45)" stroke-width="1.1"/>
<line x1="913.06" y1="953.10" x2="913.06" y2="1004.00" stroke="#000" stroke-width="1.1"/>
<line x1="913.06" y1="1004.00" x2="913.06" y2="1017.50" stroke="rgba(0,0,0,0.45)" stroke-width="1.1"/>
<line x1="913.12" y1="953.10" x2="913.12" y2="1004.00" stroke="#000" stroke-width="1.1"/>
<line x1="913.12" y1="1004.00" x2="913.12" y2="1017.50" stroke="rgba(0,0,0,0.45)" stroke-width="1.1"/>
<line x1="913.84" y1="953.10" x2="913.84" y2="1004.00" stroke="#000" stroke-width="1.1"/>
<line x1="913.84" y1="1004.00" x2="913.84" y2="1017.50" stroke="rgba(0,0,0,0.45)" stroke-width="1.1"/>
<line x1="914.51" y1="953.10" x2="914.51" y2="1004.00" stroke="#000" stroke-width="1.1"/>
<line x1="914.51" y1="1004.00" x2="914.51" y2="1017.50" stroke="rgba(0,0,0,0.45)" stroke-width="1.1"/>
<line x1="914.76" y1="953.10" x2="914.76" y2="1004.00" stroke="#000" stroke-width="1.1"/>
<line x1="914.76" y1="1004.00" x2="914.76" y2="1017.50" stroke="rgba(0,0,0,0.45)" stroke-width="1.1"/>
<line x1="915.60" y1="953.10" x2="915.60" y2="1004.00" stroke="#000" stroke-width="1.1"/>
<line x1="915.60" y1="1004.00" x2="915.60" y2="1017.50" stroke="rgba(0,0,0,0.45)" stroke-width="1.1"/>
<line x1="915.88" y1="953.10" x2="915.88" y2="1004.00" stroke="#000" stroke-width="1.1"/>
<line x1="915.88" y1="1004.00" x2="915.88" y2="1017.50" stroke="rgba(0,0,0,0.45)" stroke-width="1.1"/>
<line x1="916.86" y1="953.10" x2="916.86" y2="1004.00" stroke="#000" stroke-width="1.1"/>
<line x1="916.86" y1="1004.00" x2="916.86" y2="1017.50" stroke="rgba(0,0,0,0.45)" stroke-width="1.1"/>
<line x1="917.15" y1="953.10" x2="917.15" y2="1004.00" stroke="#000" stroke-width="1.1"/>
<line x1="917.15" y1="1004.00" x2="917.15" y2="1017.50" stroke="rgba(0,0,0,0.45)" stroke-width="1.1"/>
<line x1="917.43" y1="953.10" x2="917.43" y2="1004.00" stroke="#000" stroke-width="1.1"/>
<line x1="917.43" y1="1004.00" x2="917.43" y2="1017.50" stroke="rgba(0,0,0,0.45)" stroke-width="1.1"/>
<line x1="917.63" y1="953.10" x2="917.63" y2="1004.00" stroke="#000" stroke-width="1.1"/>
<line x1="917.63" y1="1004.00" x2="917.63" y2="1017.50" stroke="rgba(0,0,0,0.45)" stroke-width="1.1"/>
<line x1="918.31" y1="953.10" x2="918.31" y2="1004.00" stroke="#000" stroke-width="1.1"/>
<line x1="918.31" y1="1004.00" x2="918.31" y2="1017.50" stroke="rgba(0,0,0,0.45)" stroke-width="1.1"/>
<line x1="919.62" y1="953.10" x2="919.62" y2="1004.00" stroke="#000" stroke-width="1.1"/>
<line x1="919.62" y1="1004.00" x2="919.62" y2="1017.50" stroke="rgba(0,0,0,0.45)" stroke-width="1.1"/>
<line x1="920.67" y1="953.10" x2="920.67" y2="1004.00" stroke="#000" stroke-width="1.1"/>
<line x1="920.67" y1="1004.00" x2="920.67" y2="1017.50" stroke="rgba(0,0,0,0.45)" stroke-width="1.1"/>
<line x1="920.78" y1="953.10" x2="920.78" y2="1004.00" stroke="#000" stroke-width="1.1"/>
<line x1="920.78" y1="1004.00" x2="920.78" y2="1017.50" stroke="rgba(0,0,0,0.45)" stroke-width="1.1"/>
<line x1="920.82" y1="953.10" x2="920.82" y2="1004.00" stroke="#000" stroke-width="1.1"/>
<line x1="920.82" y1="1004.00" x2="920.82" y2="1017.50" stroke="rgba(0,0,0,0.45)" stroke-width="1.1"/>
<line x1="920.86" y1="953.10" x2="920.86" y2="1004.00" stroke="#000" stroke-width="1.1"/>
<line x1="920.86" y1="1004.00" x2="920.86" y2="1017.50" stroke="rgba(0,0,0,0.45)" stroke-width="1.1"/>
<line x1="921.11" y1="953.10" x2="921.11" y2="1004.00" stroke="#000" stroke-width="1.1"/>
<line x1="921.11" y1="1004.00" x2="921.11" y2="1017.50" stroke="rgba(0,0,0,0.45)" stroke-width="1.1"/>
<line x1="922.41" y1="953.10" x2="922.41" y2="1004.00" stroke="#000" stroke-width="1.1"/>
<line x1="922.41" y1="1004.00" x2="922.41" y2="1017.50" stroke="rgba(0,0,0,0.45)" stroke-width="1.1"/>
<line x1="922.66" y1="953.10" x2="922.66" y2="1004.00" stroke="#000" stroke-width="1.1"/>
<line x1="922.66" y1="1004.00" x2="922.66" y2="1017.50" stroke="rgba(0,0,0,0.45)" stroke-width="1.1"/>
<line x1="923.02" y1="953.10" x2="923.02" y2="1004.00" stroke="#000" stroke-width="1.1"/>
<line x1="923.02" y1="1004.00" x2="923.02" y2="1017.50" stroke="rgba(0,0,0,0.45)" stroke-width="1.1"/>
<line x1="923.19" y1="953.10" x2="923.19" y2="1004.00" stroke="#000" stroke-width="1.1"/>
<line x1="923.19" y1="1004.00" x2="923.19" y2="1017.50" stroke="rgba(0,0,0,0.45)" stroke-width="1.1"/>
<line x1="923.45" y1="953.10" x2="923.45" y2="1004.00" stroke="#000" stroke-width="1.1"/>
<line x1="923.45" y1="1004.00" x2="923.45" y2="1017.50" stroke="rgba(0,0,0,0.45)" stroke-width="1.1"/>
<line x1="923.71" y1="953.10" x2="923.71" y2="1004.00" stroke="#000" stroke-width="1.1"/>
<line x1="923.71" y1="1004.00" x2="923.71" y2="1017.50" stroke="rgba(0,0,0,0.45)" stroke-width="1.1"/>
<line x1="924.27" y1="953.10" x2="924.27" y2="1004.00" stroke="#000" stroke-width="1.1"/>
<line x1="924.27" y1="1004.00" x2="924.27" y2="1017.50" stroke="rgba(0,0,0,0.45)" stroke-width="1.1"/>
<line x1="925.83" y1="953.10" x2="925.83" y2="1004.00" stroke="#000" stroke-width="1.1"/>
<line x1="925.83" y1="1004.00" x2="925.83" y2="1017.50" stroke="rgba(0,0,0,0.45)" stroke-width="1.1"/>
<line x1="926.39" y1="953.10" x2="926.39" y2="1004.00" stroke="#000" stroke-width="1.1"/>
<line x1="926.39" y1="1004.00" x2="926.39" y2="1017.50" stroke="rgba(0,0,0,0.45)" stroke-width="1.1"/>
<line x1="928.97" y1="953.10" x2="928.97" y2="1004.00" stroke="#000" stroke-width="1.1"/>
<line x1="928.97" y1="1004.00" x2="928.97" y2="1017.50" stroke="rgba(0,0,0,0.45)" stroke-width="1.1"/>
<line x1="929.35" y1="953.10" x2="929.35" y2="1004.00" stroke="#000" stroke-width="1.1"/>
<line x1="929.35" y1="1004.00" x2="929.35" y2="1017.50" stroke="rgba(0,0,0,0.45)" stroke-width="1.1"/>
<line x1="930.56" y1="953.10" x2="930.56" y2="1004.00" stroke="#000" stroke-width="1.1"/>
<line x1="930.56" y1="1004.00" x2="930.56" y2="1017.50" stroke="rgba(0,0,0,0.45)" stroke-width="1.1"/>
<line x1="930.72" y1="953.10" x2="930.72" y2="1004.00" stroke="#000" stroke-width="1.1"/>
<line x1="930.72" y1="1004.00" x2="930.72" y2="1017.50" stroke="rgba(0,0,0,0.45)" stroke-width="1.1"/>
<line x1="931.10" y1="953.10" x2="931.10" y2="1004.00" stroke="#000" stroke-width="1.1"/>
<line x1="931.10" y1="1004.00" x2="931.10" y2="1017.50" stroke="rgba(0,0,0,0.45)" stroke-width="1.1"/>
<line x1="931.78" y1="953.10" x2="931.78" y2="1004.00" stroke="#000" stroke-width="1.1"/>
<line x1="931.78" y1="1004.00" x2="931.78" y2="1017.50" stroke="rgba(0,0,0,0.45)" stroke-width="1.1"/>
<line x1="931.95" y1="953.10" x2="931.95" y2="1004.00" stroke="#000" stroke-width="1.1"/>
<line x1="931.95" y1="1004.00" x2="931.95" y2="1017.50" stroke="rgba(0,0,0,0.45)" stroke-width="1.1"/>
<line x1="933.18" y1="953.10" x2="933.18" y2="1004.00" stroke="#000" stroke-width="1.1"/>
<line x1="933.18" y1="1004.00" x2="933.18" y2="1017.50" stroke="rgba(0,0,0,0.45)" stroke-width="1.1"/>
<line x1="933.45" y1="953.10" x2="933.45" y2="1004.00" stroke="#000" stroke-width="1.1"/>
<line x1="933.45" y1="1004.00" x2="933.45" y2="1017.50" stroke="rgba(0,0,0,0.45)" stroke-width="1.1"/>
<line x1="933.60" y1="953.10" x2="933.60" y2="1004.00" stroke="#000" stroke-width="1.1"/>
<line x1="933.60" y1="1004.00" x2="933.60" y2="1017.50" stroke="rgba(0,0,0,0.45)" stroke-width="1.1"/>
<line x1="933.79" y1="953.10" x2="933.79" y2="1004.00" stroke="#000" stroke-width="1.1"/>
<line x1="933.79" y1="1004.00" x2="933.79" y2="1017.50" stroke="rgba(0,0,0,0.45)" stroke-width="1.1"/>
<line x1="934.30" y1="953.10" x2="934.30" y2="1004.00" stroke="#000" stroke-width="1.1"/>
<line x1="934.30" y1="1004.00" x2="934.30" y2="1017.50" stroke="rgba(0,0,0,0.45)" stroke-width="1.1"/>
<line x1="935.20" y1="953.10" x2="935.20" y2="1004.00" stroke="#000" stroke-width="1.1"/>
<line x1="935.20" y1="1004.00" x2="935.20" y2="1017.50" stroke="rgba(0,0,0,0.45)" stroke-width="1.1"/>
<line x1="935.42" y1="953.10" x2="935.42" y2="1004.00" stroke="#000" stroke-width="1.1"/>
<line x1="935.42" y1="1004.00" x2="935.42" y2="1017.50" stroke="rgba(0,0,0,0.45)" stroke-width="1.1"/>
<line x1="935.45" y1="953.10" x2="935.45" y2="1004.00" stroke="#000" stroke-width="1.1"/>
<line x1="935.45" y1="1004.00" x2="935.45" y2="1017.50" stroke="rgba(0,0,0,0.45)" stroke-width="1.1"/>
<line x1="935.81" y1="953.10" x2="935.81" y2="1004.00" stroke="#000" stroke-width="1.1"/>
<line x1="935.81" y1="1004.00" x2="935.81" y2="1017.50" stroke="rgba(0,0,0,0.45)" stroke-width="1.1"/>
<line x1="935.82" y1="953.10" x2="935.82" y2="1004.00" stroke="#000" stroke-width="1.1"/>
<line x1="935.82" y1="1004.00" x2="935.82" y2="1017.50" stroke="rgba(0,0,0,0.45)" stroke-width="1.1"/>
<line x1="935.88" y1="953.10" x2="935.88" y2="1004.00" stroke="#000" stroke-width="1.1"/>
<line x1="935.88" y1="1004.00" x2="935.88" y2="1017.50" stroke="rgba(0,0,0,0.45)" stroke-width="1.1"/>
<line x1="937.89" y1="953.10" x2="937.89" y2="1004.00" stroke="#000" stroke-width="1.1"/>
<line x1="937.89" y1="1004.00" x2="937.89" y2="1017.50" stroke="rgba(0,0,0,0.45)" stroke-width="1.1"/>
<line x1="939.41" y1="953.10" x2="939.41" y2="1004.00" stroke="#000" stroke-width="1.1"/>
<line x1="939.41" y1="1004.00" x2="939.41" y2="1017.50" stroke="rgba(0,0,0,0.45)" stroke-width="1.1"/>
<line x1="940.93" y1="953.10" x2="940.93" y2="1004.00" stroke="#000" stroke-width="1.1"/>
<line x1="940.93" y1="1004.00" x2="940.93" y2="1017.50" stroke="rgba(0,0,0,0.45)" stroke-width="1.1"/>
<line x1="941.01" y1="953.10" x2="941.01" y2="1004.00" stroke="#000" stroke-width="1.1"/>
<line x1="941.01" y1="1004.00" x2="941.01" y2="1017.50" stroke="rgba(0,0,0,0.45)" stroke-width="1.1"/>
<line x1="942.07" y1="953.10" x2="942.07" y2="1004.00" stroke="#000" stroke-width="1.1"/>
<line x1="942.07" y1="1004.00" x2="942.07" y2="1017.50" stroke="rgba(0,0,0,0.45)" stroke-width="1.1"/>
<line x1="943.63" y1="953.10" x2="943.63" y2="1004.00" stroke="#000" stroke-width="1.1"/>
<line x1="943.63" y1="1004.00" x2="943.63" y2="1017.50" stroke="rgba(0,0,0,0.45)" stroke-width="1.1"/>
<line x1="943.64" y1="953.10" x2="943.64" y2="1004.00" stroke="#000" stroke-width="1.1"/>
<line x1="943.64" y1="1004.00" x2="943.64" y2="1017.50" stroke="rgba(0,0,0,0.45)" stroke-width="1.1"/>
<line x1="944.01" y1="953.10" x2="944.01" y2="1004.00" stroke="#000" stroke-width="1.1"/>
<line x1="944.01" y1="1004.00" x2="944.01" y2="1017.50" stroke="rgba(0,0,0,0.45)" stroke-width="1.1"/>
<line x1="944.22" y1="953.10" x2="944.22" y2="1004.00" stroke="#000" stroke-width="1.1"/>
<line x1="944.22" y1="1004.00" x2="944.22" y2="1017.50" stroke="rgba(0,0,0,0.45)" stroke-width="1.1"/>
<line x1="944.48" y1="953.10" x2="944.48" y2="1004.00" stroke="#000" stroke-width="1.1"/>
<line x1="944.48" y1="1004.00" x2="944.48" y2="1017.50" stroke="rgba(0,0,0,0.45)" stroke-width="1.1"/>
<line x1="945.12" y1="953.10" x2="945.12" y2="1004.00" stroke="#000" stroke-width="1.1"/>
<line x1="945.12" y1="1004.00" x2="945.12" y2="1017.50" stroke="rgba(0,0,0,0.45)" stroke-width="1.1"/>
<line x1="945.84" y1="953.10" x2="945.84" y2="1004.00" stroke="#000" stroke-width="1.1"/>
<line x1="945.84" y1="1004.00" x2="945.84" y2="1017.50" stroke="rgba(0,0,0,0.45)" stroke-width="1.1"/>
<line x1="947.94" y1="953.10" x2="947.94" y2="1004.00" stroke="#000" stroke-width="1.1"/>
<line x1="947.94" y1="1004.00" x2="947.94" y2="1017.50" stroke="rgba(0,0,0,0.45)" stroke-width="1.1"/>
<line x1="949.39" y1="953.10" x2="949.39" y2="1004.00" stroke="#000" stroke-width="1.1"/>
<line x1="949.39" y1="1004.00" x2="949.39" y2="1017.50" stroke="rgba(0,0,0,0.45)" stroke-width="1.1"/>
<line x1="950.18" y1="953.10" x2="950.18" y2="1004.00" stroke="#000" stroke-width="1.1"/>
<line x1="950.18" y1="1004.00" x2="950.18" y2="1017.50" stroke="rgba(0,0,0,0.45)" stroke-width="1.1"/>
<line x1="950.60" y1="953.10" x2="950.60" y2="1004.00" stroke="#000" stroke-width="1.1"/>
<line x1="950.60" y1="1004.00" x2="950.60" y2="1017.50" stroke="rgba(0,0,0,0.45)" stroke-width="1.1"/>
<line x1="950.80" y1="953.10" x2="950.80" y2="1004.00" stroke="#000" stroke-width="1.1"/>
<line x1="950.80" y1="1004.00" x2="950.80" y2="1017.50" stroke="rgba(0,0,0,0.45)" stroke-width="1.1"/>
<line x1="951.44" y1="953.10" x2="951.44" y2="1004.00" stroke="#000" stroke-width="1.1"/>
<line x1="951.44" y1="1004.00" x2="951.44" y2="1017.50" stroke="rgba(0,0,0,0.45)" stroke-width="1.1"/>
<line x1="952.78" y1="953.10" x2="952.78" y2="1004.00" stroke="#000" stroke-width="1.1"/>
<line x1="952.78" y1="1004.00" x2="952.78" y2="1017.50" stroke="rgba(0,0,0,0.45)" stroke-width="1.1"/>
<line x1="952.97" y1="953.10" x2="952.97" y2="1004.00" stroke="#000" stroke-width="1.1"/>
<line x1="952.97" y1="1004.00" x2="952.97" y2="1017.50" stroke="rgba(0,0,0,0.45)" stroke-width="1.1"/>
<line x1="952.97" y1="953.10" x2="952.97" y2="1004.00" stroke="#000" stroke-width="1.1"/>
<line x1="952.97" y1="1004.00" x2="952.97" y2="1017.50" stroke="rgba(0,0,0,0.45)" stroke-width="1.1"/>
<line x1="953.60" y1="953.10" x2="953.60" y2="1004.00" stroke="#000" stroke-width="1.1"/>
<line x1="953.60" y1="1004.00" x2="953.60" y2="1017.50" stroke="rgba(0,0,0,0.45)" stroke-width="1.1"/>
<line x1="953.80" y1="953.10" x2="953.80" y2="1004.00" stroke="#000" stroke-width="1.1"/>
<line x1="953.80" y1="1004.00" x2="953.80" y2="1017.50" stroke="rgba(0,0,0,0.45)" stroke-width="1.1"/>
<line x1="954.39" y1="953.10" x2="954.39" y2="1004.00" stroke="#000" stroke-width="1.1"/>
<line x1="954.39" y1="1004.00" x2="954.39" y2="1017.50" stroke="rgba(0,0,0,0.45)" stroke-width="1.1"/>
<line x1="955.00" y1="953.10" x2="955.00" y2="1004.00" stroke="#000" stroke-width="1.1"/>
<line x1="955.00" y1="1004.00" x2="955.00" y2="1017.50" stroke="rgba(0,0,0,0.45)" stroke-width="1.1"/>
<line x1="955.51" y1="953.10" x2="955.51" y2="1004.00" stroke="#000" stroke-width="1.1"/>
<line x1="955.51" y1="1004.00" x2="955.51" y2="1017.50" stroke="rgba(0,0,0,0.45)" stroke-width="1.1"/>
<line x1="955.74" y1="953.10" x2="955.74" y2="1004.00" stroke="#000" stroke-width="1.1"/>
<line x1="955.74" y1="1004.00" x2="955.74" y2="1017.50" stroke="rgba(0,0,0,0.45)" stroke-width="1.1"/>
<line x1="956.51" y1="953.10" x2="956.51" y2="1004.00" stroke="#000" stroke-width="1.1"/>
<line x1="956.51" y1="1004.00" x2="956.51" y2="1017.50" stroke="rgba(0,0,0,0.45)" stroke-width="1.1"/>
<line x1="962.99" y1="953.10" x2="962.99" y2="1004.00" stroke="#000" stroke-width="1.1"/>
<line x1="962.99" y1="1004.00" x2="962.99" y2="1017.50" stroke="rgba(0,0,0,0.45)" stroke-width="1.1"/>
<line x1="965.88" y1="953.10" x2="965.88" y2="1004.00" stroke="#000" stroke-width="1.1"/>
<line x1="965.88" y1="1004.00" x2="965.88" y2="1017.50" stroke="rgba(0,0,0,0.45)" stroke-width="1.1"/>
<line x1="966.84" y1="953.10" x2="966.84" y2="1004.00" stroke="#000" stroke-width="1.1"/>
<line x1="966.84" y1="1004.00" x2="966.84" y2="1017.50" stroke="rgba(0,0,0,0.45)" stroke-width="1.1"/>
<line x1="967.32" y1="953.10" x2="967.32" y2="1004.00" stroke="#000" stroke-width="1.1"/>
<line x1="967.32" y1="1004.00" x2="967.32" y2="1017.50" stroke="rgba(0,0,0,0.45)" stroke-width="1.1"/>
<line x1="968.37" y1="953.10" x2="968.37" y2="1004.00" stroke="#000" stroke-width="1.1"/>
<line x1="968.37" y1="1004.00" x2="968.37" y2="1017.50" stroke="rgba(0,0,0,0.45)" stroke-width="1.1"/>
<line x1="970.56" y1="953.10" x2="970.56" y2="1004.00" stroke="#000" stroke-width="1.1"/>
<line x1="970.56" y1="1004.00" x2="970.56" y2="1017.50" stroke="rgba(0,0,0,0.45)" stroke-width="1.1"/>
<line x1="971.30" y1="953.10" x2="971.30" y2="1004.00" stroke="#000" stroke-width="1.1"/>
<line x1="971.30" y1="1004.00" x2="971.30" y2="1017.50" stroke="rgba(0,0,0,0.45)" stroke-width="1.1"/>
<line x1="973.03" y1="953.10" x2="973.03" y2="1004.00" stroke="#000" stroke-width="1.1"/>
<line x1="973.03" y1="1004.00" x2="973.03" y2="1017.50" stroke="rgba(0,0,0,0.45)" stroke-width="1.1"/>
<line x1="973.12" y1="953.10" x2="973.12" y2="1004.00" stroke="#000" stroke-width="1.1"/>
<line x1="973.12" y1="1004.00" x2="973.12" y2="1017.50" stroke="rgba(0,0,0,0.45)" stroke-width="1.1"/>
<line x1="973.64" y1="953.10" x2="973.64" y2="1004.00" stroke="#000" stroke-width="1.1"/>
<line x1="973.64" y1="1004.00" x2="973.64" y2="1017.50" stroke="rgba(0,0,0,0.45)" stroke-width="1.1"/>
<line x1="978.02" y1="953.10" x2="978.02" y2="1004.00" stroke="#000" stroke-width="1.1"/>
<line x1="978.02" y1="1004.00" x2="978.02" y2="1017.50" stroke="rgba(0,0,0,0.45)" stroke-width="1.1"/>
<line x1="978.14" y1="953.10" x2="978.14" y2="1004.00" stroke="#000" stroke-width="1.1"/>
<line x1="978.14" y1="1004.00" x2="978.14" y2="1017.50" stroke="rgba(0,0,0,0.45)" stroke-width="1.1"/>
<line x1="978.73" y1="953.10" x2="978.73" y2="1004.00" stroke="#000" stroke-width="1.1"/>
<line x1="978.73" y1="1004.00" x2="978.73" y2="1017.50" stroke="rgba(0,0,0,0.45)" stroke-width="1.1"/>
<line x1="979.02" y1="953.10" x2="979.02" y2="1004.00" stroke="#000" stroke-width="1.1"/>
<line x1="979.02" y1="1004.00" x2="979.02" y2="1017.50" stroke="rgba(0,0,0,0.45)" stroke-width="1.1"/>
<line x1="980.29" y1="953.10" x2="980.29" y2="1004.00" stroke="#000" stroke-width="1.1"/>
<line x1="980.29" y1="1004.00" x2="980.29" y2="1017.50" stroke="rgba(0,0,0,0.45)" stroke-width="1.1"/>
<line x1="982.35" y1="953.10" x2="982.35" y2="1004.00" stroke="#000" stroke-width="1.1"/>
<line x1="982.35" y1="1004.00" x2="982.35" y2="1017.50" stroke="rgba(0,0,0,0.45)" stroke-width="1.1"/>
<line x1="982.73" y1="953.10" x2="982.73" y2="1004.00" stroke="#000" stroke-width="1.1"/>
<line x1="982.73" y1="1004.00" x2="982.73" y2="1017.50" stroke="rgba(0,0,0,0.45)" stroke-width="1.1"/>
<line x1="983.10" y1="953.10" x2="983.10" y2="1004.00" stroke="#000" stroke-width="1.1"/>
<line x1="983.10" y1="1004.00" x2="983.10" y2="1017.50" stroke="rgba(0,0,0,0.45)" stroke-width="1.1"/>
<line x1="984.19" y1="953.10" x2="984.19" y2="1004.00" stroke="#000" stroke-width="1.1"/>
<line x1="984.19" y1="1004.00" x2="984.19" y2="1017.50" stroke="rgba(0,0,0,0.45)" stroke-width="1.1"/>
<line x1="985.05" y1="953.10" x2="985.05" y2="1004.00" stroke="#000" stroke-width="1.1"/>
<line x1="985.05" y1="1004.00" x2="985.05" y2="1017.50" stroke="rgba(0,0,0,0.45)" stroke-width="1.1"/>
<line x1="986.06" y1="953.10" x2="986.06" y2="1004.00" stroke="#000" stroke-width="1.1"/>
<line x1="986.06" y1="1004.00" x2="986.06" y2="1017.50" stroke="rgba(0,0,0,0.45)" stroke-width="1.1"/>
<line x1="989.47" y1="953.10" x2="989.47" y2="1004.00" stroke="#000" stroke-width="1.1"/>
<line x1="989.47" y1="1004.00" x2="989.47" y2="1017.50" stroke="rgba(0,0,0,0.45)" stroke-width="1.1"/>
<line x1="989.98" y1="953.10" x2="989.98" y2="1004.00" stroke="#000" stroke-width="1.1"/>
<line x1="989.98" y1="1004.00" x2="989.98" y2="1017.50" stroke="rgba(0,0,0,0.45)" stroke-width="1.1"/>
<line x1="990.65" y1="953.10" x2="990.65" y2="1004.00" stroke="#000" stroke-width="1.1"/>
<line x1="990.65" y1="1004.00" x2="990.65" y2="1017.50" stroke="rgba(0,0,0,0.45)" stroke-width="1.1"/>
<line x1="992.12" y1="953.10" x2="992.12" y2="1004.00" stroke="#000" stroke-width="1.1"/>
<line x1="992.12" y1="1004.00" x2="992.12" y2="1017.50" stroke="rgba(0,0,0,0.45)" stroke-width="1.1"/>
<line x1="992.74" y1="953.10" x2="992.74" y2="1004.00" stroke="#000" stroke-width="1.1"/>
<line x1="992.74" y1="1004.00" x2="992.74" y2="1017.50" stroke="rgba(0,0,0,0.45)" stroke-width="1.1"/>
<line x1="996.42" y1="953.10" x2="996.42" y2="1004.00" stroke="#000" stroke-width="1.1"/>
<line x1="996.42" y1="1004.00" x2="996.42" y2="1017.50" stroke="rgba(0,0,0,0.45)" stroke-width="1.1"/>
<line x1="1009.79" y1="953.10" x2="1009.79" y2="1004.00" stroke="#000" stroke-width="1.1"/>
<line x1="1009.79" y1="1004.00" x2="1009.79" y2="1017.50" stroke="rgba(0,0,0,0.45)" stroke-width="1.1"/>
<line x1="1011.48" y1="953.10" x2="1011.48" y2="1004.00" stroke="#000" stroke-width="1.1"/>
<line x1="1011.48" y1="1004.00" x2="1011.48" y2="1017.50" stroke="rgba(0,0,0,0.45)" stroke-width="1.1"/>
<line x1="1013.41" y1="953.10" x2="1013.41" y2="1004.00" stroke="#000" stroke-width="1.1"/>
<line x1="1013.41" y1="1004.00" x2="1013.41" y2="1017.50" stroke="rgba(0,0,0,0.45)" stroke-width="1.1"/>
<line x1="1013.53" y1="953.10" x2="1013.53" y2="1004.00" stroke="#000" stroke-width="1.1"/>
<line x1="1013.53" y1="1004.00" x2="1013.53" y2="1017.50" stroke="rgba(0,0,0,0.45)" stroke-width="1.1"/>
<line x1="1013.66" y1="953.10" x2="1013.66" y2="1004.00" stroke="#000" stroke-width="1.1"/>
<line x1="1013.66" y1="1004.00" x2="1013.66" y2="1017.50" stroke="rgba(0,0,0,0.45)" stroke-width="1.1"/>
<line x1="1021.32" y1="953.10" x2="1021.32" y2="1004.00" stroke="#000" stroke-width="1.1"/>
<line x1="1021.32" y1="1004.00" x2="1021.32" y2="1017.50" stroke="rgba(0,0,0,0.45)" stroke-width="1.1"/>
<line x1="1024.70" y1="953.10" x2="1024.70" y2="1004.00" stroke="#000" stroke-width="1.1"/>
<line x1="1024.70" y1="1004.00" x2="1024.70" y2="1017.50" stroke="rgba(0,0,0,0.45)" stroke-width="1.1"/>
<line x1="1025.35" y1="953.10" x2="1025.35" y2="1004.00" stroke="#000" stroke-width="1.1"/>
<line x1="1025.35" y1="1004.00" x2="1025.35" y2="1017.50" stroke="rgba(0,0,0,0.45)" stroke-width="1.1"/>
<line x1="1025.76" y1="953.10" x2="1025.76" y2="1004.00" stroke="#000" stroke-width="1.1"/>
<line x1="1025.76" y1="1004.00" x2="1025.76" y2="1017.50" stroke="rgba(0,0,0,0.45)" stroke-width="1.1"/>
<line x1="1028.22" y1="953.10" x2="1028.22" y2="1004.00" stroke="#000" stroke-width="1.1"/>
<line x1="1028.22" y1="1004.00" x2="1028.22" y2="1017.50" stroke="rgba(0,0,0,0.45)" stroke-width="1.1"/>
<line x1="1032.23" y1="953.10" x2="1032.23" y2="1004.00" stroke="#000" stroke-width="1.1"/>
<line x1="1032.23" y1="1004.00" x2="1032.23" y2="1017.50" stroke="rgba(0,0,0,0.45)" stroke-width="1.1"/>
<line x1="1055.22" y1="953.10" x2="1055.22" y2="1004.00" stroke="#000" stroke-width="1.1"/>
<line x1="1055.22" y1="1004.00" x2="1055.22" y2="1017.50" stroke="rgba(0,0,0,0.45)" stroke-width="1.1"/>
<line x1="1055.93" y1="953.10" x2="1055.93" y2="1004.00" stroke="#000" stroke-width="1.1"/>
<line x1="1055.93" y1="1004.00" x2="1055.93" y2="1017.50" stroke="rgba(0,0,0,0.45)" stroke-width="1.1"/>
<line x1="1056.52" y1="953.10" x2="1056.52" y2="1004.00" stroke="#000" stroke-width="1.1"/>
<line x1="1056.52" y1="1004.00" x2="1056.52" y2="1017.50" stroke="rgba(0,0,0,0.45)" stroke-width="1.1"/>
<line x1="1058.67" y1="953.10" x2="1058.67" y2="1004.00" stroke="#000" stroke-width="1.1"/>
<line x1="1058.67" y1="1004.00" x2="1058.67" y2="1017.50" stroke="rgba(0,0,0,0.45)" stroke-width="1.1"/>
<line x1="1090.93" y1="953.10" x2="1090.93" y2="1004.00" stroke="#000" stroke-width="1.1"/>
<line x1="1090.93" y1="1004.00" x2="1090.93" y2="1017.50" stroke="rgba(0,0,0,0.45)" stroke-width="1.1"/>
<line x1="1096.83" y1="953.10" x2="1096.83" y2="1004.00" stroke="#000" stroke-width="1.1"/>
<line x1="1096.83" y1="1004.00" x2="1096.83" y2="1017.50" stroke="rgba(0,0,0,0.45)" stroke-width="1.1"/>
<line x1="1099.91" y1="953.10" x2="1099.91" y2="1004.00" stroke="#000" stroke-width="1.1"/>
<line x1="1099.91" y1="1004.00" x2="1099.91" y2="1017.50" stroke="rgba(0,0,0,0.45)" stroke-width="1.1"/>
<line x1="1103.55" y1="953.10" x2="1103.55" y2="1004.00" stroke="#000" stroke-width="1.1"/>
<line x1="1103.55" y1="1004.00" x2="1103.55" y2="1017.50" stroke="rgba(0,0,0,0.45)" stroke-width="1.1"/>
<line x1="1147.79" y1="953.10" x2="1147.79" y2="1004.00" stroke="#000" stroke-width="1.1"/>
<line x1="1147.79" y1="1004.00" x2="1147.79" y2="1017.50" stroke="rgba(0,0,0,0.45)" stroke-width="1.1"/>
<line x1="1148.61" y1="953.10" x2="1148.61" y2="1004.00" stroke="#000" stroke-width="1.1"/>
<line x1="1148.61" y1="1004.00" x2="1148.61" y2="1017.50" stroke="rgba(0,0,0,0.45)" stroke-width="1.1"/>
<line x1="1149.49" y1="953.10" x2="1149.49" y2="1004.00" stroke="#000" stroke-width="1.1"/>
<line x1="1149.49" y1="1004.00" x2="1149.49" y2="1017.50" stroke="rgba(0,0,0,0.45)" stroke-width="1.1"/>
<line x1="1152.42" y1="953.10" x2="1152.42" y2="1004.00" stroke="#000" stroke-width="1.1"/>
<line x1="1152.42" y1="1004.00" x2="1152.42" y2="1017.50" stroke="rgba(0,0,0,0.45)" stroke-width="1.1"/>
<line x1="1162.15" y1="953.10" x2="1162.15" y2="1004.00" stroke="#000" stroke-width="1.1"/>
<line x1="1162.15" y1="1004.00" x2="1162.15" y2="1017.50" stroke="rgba(0,0,0,0.45)" stroke-width="1.1"/>
<line x1="1162.94" y1="953.10" x2="1162.94" y2="1004.00" stroke="#000" stroke-width="1.1"/>
<line x1="1162.94" y1="1004.00" x2="1162.94" y2="1017.50" stroke="rgba(0,0,0,0.45)" stroke-width="1.1"/>
<line x1="1165.13" y1="953.10" x2="1165.13" y2="1004.00" stroke="#000" stroke-width="1.1"/>
<line x1="1165.13" y1="1004.00" x2="1165.13" y2="1017.50" stroke="rgba(0,0,0,0.45)" stroke-width="1.1"/>
<line x1="1166.97" y1="953.10" x2="1166.97" y2="1004.00" stroke="#000" stroke-width="1.1"/>
<line x1="1166.97" y1="1004.00" x2="1166.97" y2="1017.50" stroke="rgba(0,0,0,0.45)" stroke-width="1.1"/>
<line x1="1168.32" y1="953.10" x2="1168.32" y2="1004.00" stroke="#000" stroke-width="1.1"/>
<line x1="1168.32" y1="1004.00" x2="1168.32" y2="1017.50" stroke="rgba(0,0,0,0.45)" stroke-width="1.1"/>
<line x1="1169.11" y1="953.10" x2="1169.11" y2="1004.00" stroke="#000" stroke-width="1.1"/>
<line x1="1169.11" y1="1004.00" x2="1169.11" y2="1017.50" stroke="rgba(0,0,0,0.45)" stroke-width="1.1"/>
<line x1="1170.44" y1="953.10" x2="1170.44" y2="1004.00" stroke="#000" stroke-width="1.1"/>
<line x1="1170.44" y1="1004.00" x2="1170.44" y2="1017.50" stroke="rgba(0,0,0,0.45)" stroke-width="1.1"/>
<line x1="1171.93" y1="953.10" x2="1171.93" y2="1004.00" stroke="#000" stroke-width="1.1"/>
<line x1="1171.93" y1="1004.00" x2="1171.93" y2="1017.50" stroke="rgba(0,0,0,0.45)" stroke-width="1.1"/>
<line x1="1173.11" y1="953.10" x2="1173.11" y2="1004.00" stroke="#000" stroke-width="1.1"/>
<line x1="1173.11" y1="1004.00" x2="1173.11" y2="1017.50" stroke="rgba(0,0,0,0.45)" stroke-width="1.1"/>
<line x1="1173.65" y1="953.10" x2="1173.65" y2="1004.00" stroke="#000" stroke-width="1.1"/>
<line x1="1173.65" y1="1004.00" x2="1173.65" y2="1017.50" stroke="rgba(0,0,0,0.45)" stroke-width="1.1"/>
<line x1="1174.14" y1="953.10" x2="1174.14" y2="1004.00" stroke="#000" stroke-width="1.1"/>
<line x1="1174.14" y1="1004.00" x2="1174.14" y2="1017.50" stroke="rgba(0,0,0,0.45)" stroke-width="1.1"/>
<line x1="1174.83" y1="953.10" x2="1174.83" y2="1004.00" stroke="#000" stroke-width="1.1"/>
<line x1="1174.83" y1="1004.00" x2="1174.83" y2="1017.50" stroke="rgba(0,0,0,0.45)" stroke-width="1.1"/>
<line x1="1175.02" y1="953.10" x2="1175.02" y2="1004.00" stroke="#000" stroke-width="1.1"/>
<line x1="1175.02" y1="1004.00" x2="1175.02" y2="1017.50" stroke="rgba(0,0,0,0.45)" stroke-width="1.1"/>
<line x1="1177.42" y1="953.10" x2="1177.42" y2="1004.00" stroke="#000" stroke-width="1.1"/>
<line x1="1177.42" y1="1004.00" x2="1177.42" y2="1017.50" stroke="rgba(0,0,0,0.45)" stroke-width="1.1"/>
<line x1="1177.83" y1="953.10" x2="1177.83" y2="1004.00" stroke="#000" stroke-width="1.1"/>
<line x1="1177.83" y1="1004.00" x2="1177.83" y2="1017.50" stroke="rgba(0,0,0,0.45)" stroke-width="1.1"/>
<line x1="1179.41" y1="953.10" x2="1179.41" y2="1004.00" stroke="#000" stroke-width="1.1"/>
<line x1="1179.41" y1="1004.00" x2="1179.41" y2="1017.50" stroke="rgba(0,0,0,0.45)" stroke-width="1.1"/>
<line x1="1185.58" y1="953.10" x2="1185.58" y2="1004.00" stroke="#000" stroke-width="1.1"/>
<line x1="1185.58" y1="1004.00" x2="1185.58" y2="1017.50" stroke="rgba(0,0,0,0.45)" stroke-width="1.1"/>
<line x1="1185.87" y1="953.10" x2="1185.87" y2="1004.00" stroke="#000" stroke-width="1.1"/>
<line x1="1185.87" y1="1004.00" x2="1185.87" y2="1017.50" stroke="rgba(0,0,0,0.45)" stroke-width="1.1"/>
<line x1="1186.89" y1="953.10" x2="1186.89" y2="1004.00" stroke="#000" stroke-width="1.1"/>
<line x1="1186.89" y1="1004.00" x2="1186.89" y2="1017.50" stroke="rgba(0,0,0,0.45)" stroke-width="1.1"/>
<line x1="1189.19" y1="953.10" x2="1189.19" y2="1004.00" stroke="#000" stroke-width="1.1"/>
<line x1="1189.19" y1="1004.00" x2="1189.19" y2="1017.50" stroke="rgba(0,0,0,0.45)" stroke-width="1.1"/>
<line x1="1195.49" y1="953.10" x2="1195.49" y2="1004.00" stroke="#000" stroke-width="1.1"/>
<line x1="1195.49" y1="1004.00" x2="1195.49" y2="1017.50" stroke="rgba(0,0,0,0.45)" stroke-width="1.1"/>
<line x1="1195.81" y1="953.10" x2="1195.81" y2="1004.00" stroke="#000" stroke-width="1.1"/>
<line x1="1195.81" y1="1004.00" x2="1195.81" y2="1017.50" stroke="rgba(0,0,0,0.45)" stroke-width="1.1"/>
<line x1="1205.00" y1="953.10" x2="1205.00" y2="1004.00" stroke="#000" stroke-width="1.1"/>
<line x1="1205.00" y1="1004.00" x2="1205.00" y2="1017.50" stroke="rgba(0,0,0,0.45)" stroke-width="1.1"/>
<line x1="1206.93" y1="953.10" x2="1206.93" y2="1004.00" stroke="#000" stroke-width="1.1"/>
<line x1="1206.93" y1="1004.00" x2="1206.93" y2="1017.50" stroke="rgba(0,0,0,0.45)" stroke-width="1.1"/>
<line x1="1207.17" y1="953.10" x2="1207.17" y2="1004.00" stroke="#000" stroke-width="1.1"/>
<line x1="1207.17" y1="1004.00" x2="1207.17" y2="1017.50" stroke="rgba(0,0,0,0.45)" stroke-width="1.1"/>
<line x1="1207.92" y1="953.10" x2="1207.92" y2="1004.00" stroke="#000" stroke-width="1.1"/>
<line x1="1207.92" y1="1004.00" x2="1207.92" y2="1017.50" stroke="rgba(0,0,0,0.45)" stroke-width="1.1"/>
<line x1="1212.76" y1="953.10" x2="1212.76" y2="1004.00" stroke="#000" stroke-width="1.1"/>
<line x1="1212.76" y1="1004.00" x2="1212.76" y2="1017.50" stroke="rgba(0,0,0,0.45)" stroke-width="1.1"/>
<line x1="1214.91" y1="953.10" x2="1214.91" y2="1004.00" stroke="#000" stroke-width="1.1"/>
<line x1="1214.91" y1="1004.00" x2="1214.91" y2="1017.50" stroke="rgba(0,0,0,0.45)" stroke-width="1.1"/>
<line x1="1215.08" y1="953.10" x2="1215.08" y2="1004.00" stroke="#000" stroke-width="1.1"/>
<line x1="1215.08" y1="1004.00" x2="1215.08" y2="1017.50" stroke="rgba(0,0,0,0.45)" stroke-width="1.1"/>
<line x1="1216.29" y1="953.10" x2="1216.29" y2="1004.00" stroke="#000" stroke-width="1.1"/>
<line x1="1216.29" y1="1004.00" x2="1216.29" y2="1017.50" stroke="rgba(0,0,0,0.45)" stroke-width="1.1"/>
<line x1="1217.52" y1="953.10" x2="1217.52" y2="1004.00" stroke="#000" stroke-width="1.1"/>
<line x1="1217.52" y1="1004.00" x2="1217.52" y2="1017.50" stroke="rgba(0,0,0,0.45)" stroke-width="1.1"/>
<line x1="1219.80" y1="953.10" x2="1219.80" y2="1004.00" stroke="#000" stroke-width="1.1"/>
<line x1="1219.80" y1="1004.00" x2="1219.80" y2="1017.50" stroke="rgba(0,0,0,0.45)" stroke-width="1.1"/>
<line x1="1222.86" y1="953.10" x2="1222.86" y2="1004.00" stroke="#000" stroke-width="1.1"/>
<line x1="1222.86" y1="1004.00" x2="1222.86" y2="1017.50" stroke="rgba(0,0,0,0.45)" stroke-width="1.1"/>
<line x1="1224.96" y1="953.10" x2="1224.96" y2="1004.00" stroke="#000" stroke-width="1.1"/>
<line x1="1224.96" y1="1004.00" x2="1224.96" y2="1017.50" stroke="rgba(0,0,0,0.45)" stroke-width="1.1"/>
<line x1="1227.31" y1="953.10" x2="1227.31" y2="1004.00" stroke="#000" stroke-width="1.1"/>
<line x1="1227.31" y1="1004.00" x2="1227.31" y2="1017.50" stroke="rgba(0,0,0,0.45)" stroke-width="1.1"/>
<line x1="1227.68" y1="953.10" x2="1227.68" y2="1004.00" stroke="#000" stroke-width="1.1"/>
<line x1="1227.68" y1="1004.00" x2="1227.68" y2="1017.50" stroke="rgba(0,0,0,0.45)" stroke-width="1.1"/>
<line x1="1228.08" y1="953.10" x2="1228.08" y2="1004.00" stroke="#000" stroke-width="1.1"/>
<line x1="1228.08" y1="1004.00" x2="1228.08" y2="1017.50" stroke="rgba(0,0,0,0.45)" stroke-width="1.1"/>
<line x1="1230.22" y1="953.10" x2="1230.22" y2="1004.00" stroke="#000" stroke-width="1.1"/>
<line x1="1230.22" y1="1004.00" x2="1230.22" y2="1017.50" stroke="rgba(0,0,0,0.45)" stroke-width="1.1"/>
<polyline points="888.08,940.59 888.81,930.83 890.03,911.31 891.25,894.22 893.69,886.90 896.13,869.82 898.57,864.94 901.01,857.62 903.45,850.30 905.89,842.98 908.33,833.21 910.77,828.33 913.21,822.23 915.65,818.57 918.09,817.35 921.76,816.13 924.20,811.25 926.64,808.81 929.08,805.15 931.52,804.42 937.62,803.93 942.50,805.15 947.38,802.71 952.26,801.98 957.14,801.00 962.02,802.71 969.34,805.15 976.67,806.37 986.43,808.81 996.19,812.47 1010.83,821.01 1035.24,835.65 1059.64,850.30 1084.05,864.94 1108.45,880.80 1132.85,896.67 1157.26,912.53 1181.66,928.39 1193.87,933.27 1206.07,936.20 1218.27,941.08 1225.59,944.25 1230.47,941.81 1233.40,941.08" fill="none" stroke="#5cb82a" stroke-width="2.3" stroke-linejoin="round"/>
<polygon points="888.20,1074.80 888.20,1029.92 889.52,1033.92 890.83,1037.32 892.15,1040.22 893.46,1042.70 894.78,1044.84 896.09,1046.69 897.41,1048.29 898.73,1049.70 900.04,1050.93 901.36,1052.03 902.67,1053.01 903.99,1053.88 905.30,1054.68 906.62,1055.40 907.94,1056.06 909.25,1056.67 910.57,1057.24 911.88,1057.77 913.20,1058.27 914.51,1058.74 915.83,1059.19 917.15,1059.62 918.46,1060.02 919.78,1060.42 921.09,1060.79 922.41,1061.16 923.72,1061.51 925.04,1061.85 926.36,1062.18 927.67,1062.50 928.99,1062.81 930.30,1063.12 931.62,1063.41 932.93,1063.70 934.25,1063.99 935.57,1064.26 936.88,1064.53 938.20,1064.80 939.51,1065.06 940.83,1065.31 942.14,1065.56 943.46,1065.81 944.78,1066.04 946.09,1066.28 947.41,1066.51 948.72,1066.73 950.04,1066.95 951.35,1067.17 952.67,1067.38 953.99,1067.59 955.30,1067.80 956.62,1068.00 957.93,1068.19 959.25,1068.39 960.56,1068.58 961.88,1068.76 963.20,1068.95 964.51,1069.13 965.83,1069.30 967.14,1069.47 968.46,1069.64 969.77,1069.81 971.09,1069.97 972.41,1070.14 973.72,1070.29 975.04,1070.45 976.35,1070.60 977.67,1070.75 978.99,1070.90 980.30,1071.04 981.62,1071.18 982.93,1071.32 984.25,1071.46 985.56,1071.59 986.88,1071.73 988.20,1071.86 989.51,1071.98 990.83,1072.11 992.14,1072.23 993.46,1072.35 994.77,1072.47 996.09,1072.59 997.41,1072.70 998.72,1072.82 1000.04,1072.93 1001.35,1073.04 1002.67,1073.15 1003.98,1073.25 1005.30,1073.36 1006.62,1073.46 1007.93,1073.56 1009.25,1073.66 1010.56,1073.76 1011.88,1073.85 1013.19,1073.95 1014.51,1074.04 1015.83,1074.13 1017.14,1074.23 1018.46,1074.31 1019.77,1074.40 1021.09,1074.49 1022.40,1074.57 1023.72,1074.66 1025.04,1074.74 1026.35,1074.82 1027.08,1074.80" fill="#c4c4c4"/>
<polygon points="1160.12,1074.80 1160.12,1074.80 1160.56,1074.83 1160.99,1074.87 1161.43,1074.91 1161.87,1074.94 1162.31,1074.98 1162.75,1075.01 1163.19,1075.05 1163.63,1075.09 1164.06,1075.12 1164.50,1075.16 1164.94,1075.20 1165.38,1075.23 1165.82,1075.27 1166.26,1075.31 1166.70,1075.35 1167.13,1075.39 1167.57,1075.43 1168.01,1075.46 1168.45,1075.50 1168.89,1075.54 1169.33,1075.58 1169.77,1075.62 1170.20,1075.66 1170.64,1075.70 1171.08,1075.74 1171.52,1075.79 1171.96,1075.83 1172.40,1075.87 1172.84,1075.91 1173.27,1075.95 1173.71,1076.00 1174.15,1076.04 1174.59,1076.08 1175.03,1076.13 1175.47,1076.17 1175.91,1076.21 1176.34,1076.26 1176.78,1076.30 1177.22,1076.35 1177.66,1076.39 1178.10,1076.44 1178.54,1076.49 1178.98,1076.53 1179.41,1076.58 1179.85,1076.63 1180.29,1076.68 1180.73,1076.72 1181.17,1076.77 1181.61,1076.82 1182.05,1076.87 1182.48,1076.92 1182.92,1076.97 1183.36,1077.02 1183.80,1077.07 1184.24,1077.13 1184.68,1077.18 1185.12,1077.23 1185.55,1077.28 1185.99,1077.34 1186.43,1077.39 1186.87,1077.45 1187.31,1077.50 1187.75,1077.56 1188.19,1077.61 1188.62,1077.67 1189.06,1077.73 1189.50,1077.79 1189.94,1077.84 1190.38,1077.90 1190.82,1077.96 1191.26,1078.02 1191.69,1078.08 1192.13,1078.15 1192.57,1078.21 1193.01,1078.27 1193.45,1078.33 1193.89,1078.40 1194.33,1078.46 1194.76,1078.53 1195.20,1078.60 1195.64,1078.66 1196.08,1078.73 1196.52,1078.80 1196.96,1078.87 1197.40,1078.94 1197.83,1079.01 1198.27,1079.08 1198.71,1079.16 1199.15,1079.23 1199.59,1079.31 1200.03,1079.38 1200.47,1079.46 1200.90,1079.54 1201.34,1079.62 1201.78,1079.70 1202.22,1079.78 1202.66,1079.86 1203.10,1079.94 1203.54,1080.03 1203.97,1080.12 1204.41,1080.20 1204.85,1080.29 1205.29,1080.38 1205.73,1080.47 1206.17,1080.57 1206.61,1080.66 1207.04,1080.76 1207.48,1080.85 1207.92,1080.95 1208.36,1081.05 1208.80,1081.16 1209.24,1081.26 1209.68,1081.37 1210.11,1081.48 1210.55,1081.59 1210.99,1081.70 1211.43,1081.82 1211.87,1081.93 1212.31,1082.05 1212.75,1082.17 1213.18,1082.30 1213.62,1082.43 1214.06,1082.56 1214.50,1082.69 1214.94,1082.83 1215.38,1082.97 1215.82,1083.11 1216.25,1083.26 1216.69,1083.41 1217.13,1083.56 1217.57,1083.72 1218.01,1083.88 1218.45,1084.05 1218.89,1084.22 1219.32,1084.40 1219.76,1084.59 1220.20,1084.78 1220.64,1084.97 1221.08,1085.18 1221.52,1085.39 1221.96,1085.60 1222.39,1085.83 1222.83,1086.07 1223.27,1086.31 1223.71,1086.57 1224.15,1086.84 1224.59,1087.12 1225.03,1087.41 1225.46,1087.72 1225.90,1088.05 1226.34,1088.40 1226.78,1088.77 1227.22,1089.17 1227.66,1089.59 1228.10,1090.05 1228.53,1090.55 1228.97,1091.09 1229.41,1091.69 1229.85,1092.36 1230.29,1093.11 1230.73,1093.98 1231.17,1094.99 1231.60,1096.23 1232.04,1097.79 1232.48,1099.94 1232.92,1103.36 1233.36,1112.74 1233.36,1074.80" fill="#c4c4c4"/>
<line x1="1027.08" y1="1017.50" x2="1027.08" y2="1122.90" stroke="#333" stroke-width="1.0" stroke-dasharray="3 2"/>
<text x="1034.00" y="1072.52" font-size="9.00" text-anchor="middle" fill="#333">Zero cross at 15833</text>
<text x="890.00" y="1028.73" font-size="9.85" font-weight="bold" fill="#e53b25">'shCtrl' (positively correlated)</text>
<text x="1230.00" y="1117.93" font-size="9.85" font-weight="bold" text-anchor="end" fill="#3346a8">'AS1_sh2' (negatively correlated)</text>
<line x1="885.20" y1="940.60" x2="888.20" y2="940.60" stroke="#777" stroke-width="1.0"/>
<text x="884.00" y="943.89" font-size="9.20" font-weight="bold" text-anchor="end" fill="#222">0.0</text>
<line x1="885.20" y1="918.92" x2="888.20" y2="918.92" stroke="#777" stroke-width="1.0"/>
<text x="884.00" y="922.21" font-size="9.20" font-weight="bold" text-anchor="end" fill="#222">0.1</text>
<line x1="885.20" y1="897.24" x2="888.20" y2="897.24" stroke="#777" stroke-width="1.0"/>
<text x="884.00" y="900.53" font-size="9.20" font-weight="bold" text-anchor="end" fill="#222">0.2</text>
<line x1="885.20" y1="875.56" x2="888.20" y2="875.56" stroke="#777" stroke-width="1.0"/>
<text x="884.00" y="878.85" font-size="9.20" font-weight="bold" text-anchor="end" fill="#222">0.3</text>
<line x1="885.20" y1="853.88" x2="888.20" y2="853.88" stroke="#777" stroke-width="1.0"/>
<text x="884.00" y="857.17" font-size="9.20" font-weight="bold" text-anchor="end" fill="#222">0.4</text>
<line x1="885.20" y1="832.20" x2="888.20" y2="832.20" stroke="#777" stroke-width="1.0"/>
<text x="884.00" y="835.49" font-size="9.20" font-weight="bold" text-anchor="end" fill="#222">0.5</text>
<line x1="885.20" y1="810.52" x2="888.20" y2="810.52" stroke="#777" stroke-width="1.0"/>
<text x="884.00" y="813.81" font-size="9.20" font-weight="bold" text-anchor="end" fill="#222">0.6</text>
<line x1="885.20" y1="1018.70" x2="888.20" y2="1018.70" stroke="#777" stroke-width="1.0"/>
<text x="884.00" y="1021.99" font-size="9.20" font-weight="bold" text-anchor="end" fill="#222">5.0</text>
<line x1="885.20" y1="1046.75" x2="888.20" y2="1046.75" stroke="#777" stroke-width="1.0"/>
<text x="884.00" y="1050.04" font-size="9.20" font-weight="bold" text-anchor="end" fill="#222">2.5</text>
<line x1="885.20" y1="1074.80" x2="888.20" y2="1074.80" stroke="#777" stroke-width="1.0"/>
<text x="884.00" y="1078.09" font-size="9.20" font-weight="bold" text-anchor="end" fill="#222">0.0</text>
<line x1="885.20" y1="1102.85" x2="888.20" y2="1102.85" stroke="#777" stroke-width="1.0"/>
<text x="884.00" y="1106.14" font-size="9.20" font-weight="bold" text-anchor="end" fill="#222">-2.5</text>
<text x="888.20" y="1132.47" font-size="9.70" text-anchor="middle" fill="#222">0</text>
<text x="932.06" y="1132.47" font-size="9.70" text-anchor="middle" fill="#222">5,000</text>
<text x="975.92" y="1132.47" font-size="9.70" text-anchor="middle" fill="#222">10,000</text>
<text x="1019.77" y="1132.47" font-size="9.70" text-anchor="middle" fill="#222">15,000</text>
<text x="1063.63" y="1132.47" font-size="9.70" text-anchor="middle" fill="#222">20,000</text>
<text x="1107.49" y="1132.47" font-size="9.70" text-anchor="middle" fill="#222">25,000</text>
<text x="1151.35" y="1132.47" font-size="9.70" text-anchor="middle" fill="#222">30,000</text>
<text x="1195.20" y="1132.47" font-size="9.70" text-anchor="middle" fill="#222">35,000</text>
<text x="1239.06" y="1132.47" font-size="9.70" text-anchor="middle" fill="#222">40,000</text>
<text x="1076.70" y="1146.21" font-size="9.80" text-anchor="middle" fill="#222">Rank in Ordered Dataset</text>
<text x="860.20" y="864.12" font-size="11.50" font-weight="bold" text-anchor="middle" fill="#222" transform="rotate(-90 860.20 860.00)">Enrichment score (ES)</text>
<text x="859.20" y="1056.08" font-size="11.40" font-weight="bold" text-anchor="middle" fill="#222" transform="rotate(-90 859.20 1052.00)">Ranked list metric (Signal2Noise)</text>
<text x="1128.00" y="821.32" font-size="19.90">NES=1.42</text>
<text x="1128.00" y="853.76" font-size="20.00">NOM p=0</text>
<rect x="914.4" y="1153.4" width="273.6" height="14.599999999999909" fill="#fff" stroke="#111" stroke-width="1.4"/>
<line x1="916.90" y1="1160.70" x2="930.30" y2="1160.70" stroke="#5cb82a" stroke-width="2.2"/>
<text x="932.70" y="1164.21" font-size="9.80" fill="#222">Enrichment profile</text>
<line x1="1015.70" y1="1160.70" x2="1027.90" y2="1160.70" stroke="#222" stroke-width="1.3"/>
<text x="1031.60" y="1164.21" font-size="9.80" fill="#222">Hits</text>
<line x1="1053.50" y1="1158.20" x2="1064.50" y2="1158.20" stroke="#888" stroke-width="1.3"/>
<line x1="1073.00" y1="1160.70" x2="1084.00" y2="1160.70" stroke="#ccc" stroke-width="1.3"/>
<text x="1088.40" y="1164.21" font-size="9.80" fill="#222">Ranking metric scores</text>
<text x="1051.80" y="1202.13" font-size="14.90" font-weight="bold" text-anchor="middle">HALLMARK_EPITHELIAL_MESENCHYMAL_TRANSITION</text>
<line x1="932.06" y1="1209.0" x2="932.06" y2="1367.2" stroke="#d4d4d4" stroke-width="0.9" stroke-dasharray="2 2"/>
<line x1="932.06" y1="1433.0" x2="932.06" y2="1538.0" stroke="#d4d4d4" stroke-width="0.9" stroke-dasharray="2 2"/>
<line x1="975.92" y1="1209.0" x2="975.92" y2="1367.2" stroke="#d4d4d4" stroke-width="0.9" stroke-dasharray="2 2"/>
<line x1="975.92" y1="1433.0" x2="975.92" y2="1538.0" stroke="#d4d4d4" stroke-width="0.9" stroke-dasharray="2 2"/>
<line x1="1019.77" y1="1209.0" x2="1019.77" y2="1367.2" stroke="#d4d4d4" stroke-width="0.9" stroke-dasharray="2 2"/>
<line x1="1019.77" y1="1433.0" x2="1019.77" y2="1538.0" stroke="#d4d4d4" stroke-width="0.9" stroke-dasharray="2 2"/>
<line x1="1063.63" y1="1209.0" x2="1063.63" y2="1367.2" stroke="#d4d4d4" stroke-width="0.9" stroke-dasharray="2 2"/>
<line x1="1063.63" y1="1433.0" x2="1063.63" y2="1538.0" stroke="#d4d4d4" stroke-width="0.9" stroke-dasharray="2 2"/>
<line x1="1107.49" y1="1209.0" x2="1107.49" y2="1367.2" stroke="#d4d4d4" stroke-width="0.9" stroke-dasharray="2 2"/>
<line x1="1107.49" y1="1433.0" x2="1107.49" y2="1538.0" stroke="#d4d4d4" stroke-width="0.9" stroke-dasharray="2 2"/>
<line x1="1151.35" y1="1209.0" x2="1151.35" y2="1367.2" stroke="#d4d4d4" stroke-width="0.9" stroke-dasharray="2 2"/>
<line x1="1151.35" y1="1433.0" x2="1151.35" y2="1538.0" stroke="#d4d4d4" stroke-width="0.9" stroke-dasharray="2 2"/>
<line x1="1195.20" y1="1209.0" x2="1195.20" y2="1367.2" stroke="#d4d4d4" stroke-width="0.9" stroke-dasharray="2 2"/>
<line x1="1195.20" y1="1433.0" x2="1195.20" y2="1538.0" stroke="#d4d4d4" stroke-width="0.9" stroke-dasharray="2 2"/>
<line x1="1239.06" y1="1209.0" x2="1239.06" y2="1367.2" stroke="#d4d4d4" stroke-width="0.9" stroke-dasharray="2 2"/>
<line x1="1239.06" y1="1433.0" x2="1239.06" y2="1538.0" stroke="#d4d4d4" stroke-width="0.9" stroke-dasharray="2 2"/>
<line x1="888.2" y1="1335.60" x2="1251.2" y2="1335.60" stroke="#d4d4d4" stroke-width="0.9" stroke-dasharray="2 2"/>
<line x1="888.2" y1="1315.20" x2="1251.2" y2="1315.20" stroke="#d4d4d4" stroke-width="0.9" stroke-dasharray="2 2"/>
<line x1="888.2" y1="1294.80" x2="1251.2" y2="1294.80" stroke="#d4d4d4" stroke-width="0.9" stroke-dasharray="2 2"/>
<line x1="888.2" y1="1274.40" x2="1251.2" y2="1274.40" stroke="#d4d4d4" stroke-width="0.9" stroke-dasharray="2 2"/>
<line x1="888.2" y1="1254.00" x2="1251.2" y2="1254.00" stroke="#d4d4d4" stroke-width="0.9" stroke-dasharray="2 2"/>
<line x1="888.2" y1="1233.60" x2="1251.2" y2="1233.60" stroke="#d4d4d4" stroke-width="0.9" stroke-dasharray="2 2"/>
<line x1="888.2" y1="1213.20" x2="1251.2" y2="1213.20" stroke="#d4d4d4" stroke-width="0.9" stroke-dasharray="2 2"/>
<line x1="888.2" y1="1462.50" x2="1251.2" y2="1462.50" stroke="#d4d4d4" stroke-width="0.9" stroke-dasharray="2 2"/>
<line x1="888.2" y1="1517.90" x2="1251.2" y2="1517.90" stroke="#d4d4d4" stroke-width="0.9" stroke-dasharray="2 2"/>
<rect x="888.2" y="1209.0" width="363.0" height="329.0" fill="none" stroke="#cfcfcf" stroke-width="1.2"/>
<line x1="888.20" y1="1367.20" x2="1251.20" y2="1367.20" stroke="#bdbdbd" stroke-width="1.2"/>
<line x1="888.20" y1="1356.00" x2="1251.20" y2="1356.00" stroke="#9a9a9a" stroke-width="1.2"/>
<line x1="888.20" y1="1433.00" x2="1251.20" y2="1433.00" stroke="#bdbdbd" stroke-width="1.0"/>
<line x1="888.20" y1="1209.00" x2="888.20" y2="1538.00" stroke="#8a8a8a" stroke-width="1.6"/>
<line x1="888.20" y1="1538.00" x2="1251.20" y2="1538.00" stroke="#8a8a8a" stroke-width="1.6"/>
<defs><linearGradient id="gcb2" x1="888.2" x2="1233.4" y1="0" y2="0" gradientUnits="userSpaceOnUse"><stop offset="0" stop-color="#a01818"/><stop offset="0.05" stop-color="#d83a3a"/><stop offset="0.2" stop-color="#e85a5a"/><stop offset="0.3" stop-color="#ee8a8a"/><stop offset="0.33" stop-color="#f0b8d4"/><stop offset="0.79" stop-color="#eeb9d6"/><stop offset="0.8" stop-color="#d2d2ea"/><stop offset="0.93" stop-color="#c8c8e6"/><stop offset="0.95" stop-color="#5a5ab0"/><stop offset="1" stop-color="#22288a"/></linearGradient></defs>
<rect x="888.20" y="1419.40" width="345.16" height="13.60" fill="url(#gcb2)"/>
<line x1="888.50" y1="1368.70" x2="888.50" y2="1419.40" stroke="#000" stroke-width="1.1"/>
<line x1="888.50" y1="1419.40" x2="888.50" y2="1433.00" stroke="rgba(0,0,0,0.45)" stroke-width="1.1"/>
<line x1="890.67" y1="1368.70" x2="890.67" y2="1419.40" stroke="#000" stroke-width="1.1"/>
<line x1="890.67" y1="1419.40" x2="890.67" y2="1433.00" stroke="rgba(0,0,0,0.45)" stroke-width="1.1"/>
<line x1="890.94" y1="1368.70" x2="890.94" y2="1419.40" stroke="#000" stroke-width="1.1"/>
<line x1="890.94" y1="1419.40" x2="890.94" y2="1433.00" stroke="rgba(0,0,0,0.45)" stroke-width="1.1"/>
<line x1="891.04" y1="1368.70" x2="891.04" y2="1419.40" stroke="#000" stroke-width="1.1"/>
<line x1="891.04" y1="1419.40" x2="891.04" y2="1433.00" stroke="rgba(0,0,0,0.45)" stroke-width="1.1"/>
<line x1="891.29" y1="1368.70" x2="891.29" y2="1419.40" stroke="#000" stroke-width="1.1"/>
<line x1="891.29" y1="1419.40" x2="891.29" y2="1433.00" stroke="rgba(0,0,0,0.45)" stroke-width="1.1"/>
<line x1="891.30" y1="1368.70" x2="891.30" y2="1419.40" stroke="#000" stroke-width="1.1"/>
<line x1="891.30" y1="1419.40" x2="891.30" y2="1433.00" stroke="rgba(0,0,0,0.45)" stroke-width="1.1"/>
<line x1="892.11" y1="1368.70" x2="892.11" y2="1419.40" stroke="#000" stroke-width="1.1"/>
<line x1="892.11" y1="1419.40" x2="892.11" y2="1433.00" stroke="rgba(0,0,0,0.45)" stroke-width="1.1"/>
<line x1="892.70" y1="1368.70" x2="892.70" y2="1419.40" stroke="#000" stroke-width="1.1"/>
<line x1="892.70" y1="1419.40" x2="892.70" y2="1433.00" stroke="rgba(0,0,0,0.45)" stroke-width="1.1"/>
<line x1="892.94" y1="1368.70" x2="892.94" y2="1419.40" stroke="#000" stroke-width="1.1"/>
<line x1="892.94" y1="1419.40" x2="892.94" y2="1433.00" stroke="rgba(0,0,0,0.45)" stroke-width="1.1"/>
<line x1="893.05" y1="1368.70" x2="893.05" y2="1419.40" stroke="#000" stroke-width="1.1"/>
<line x1="893.05" y1="1419.40" x2="893.05" y2="1433.00" stroke="rgba(0,0,0,0.45)" stroke-width="1.1"/>
<line x1="893.60" y1="1368.70" x2="893.60" y2="1419.40" stroke="#000" stroke-width="1.1"/>
<line x1="893.60" y1="1419.40" x2="893.60" y2="1433.00" stroke="rgba(0,0,0,0.45)" stroke-width="1.1"/>
<line x1="893.65" y1="1368.70" x2="893.65" y2="1419.40" stroke="#000" stroke-width="1.1"/>
<line x1="893.65" y1="1419.40" x2="893.65" y2="1433.00" stroke="rgba(0,0,0,0.45)" stroke-width="1.1"/>
<line x1="894.01" y1="1368.70" x2="894.01" y2="1419.40" stroke="#000" stroke-width="1.1"/>
<line x1="894.01" y1="1419.40" x2="894.01" y2="1433.00" stroke="rgba(0,0,0,0.45)" stroke-width="1.1"/>
<line x1="894.40" y1="1368.70" x2="894.40" y2="1419.40" stroke="#000" stroke-width="1.1"/>
<line x1="894.40" y1="1419.40" x2="894.40" y2="1433.00" stroke="rgba(0,0,0,0.45)" stroke-width="1.1"/>
<line x1="894.81" y1="1368.70" x2="894.81" y2="1419.40" stroke="#000" stroke-width="1.1"/>
<line x1="894.81" y1="1419.40" x2="894.81" y2="1433.00" stroke="rgba(0,0,0,0.45)" stroke-width="1.1"/>
<line x1="895.87" y1="1368.70" x2="895.87" y2="1419.40" stroke="#000" stroke-width="1.1"/>
<line x1="895.87" y1="1419.40" x2="895.87" y2="1433.00" stroke="rgba(0,0,0,0.45)" stroke-width="1.1"/>
<line x1="897.24" y1="1368.70" x2="897.24" y2="1419.40" stroke="#000" stroke-width="1.1"/>
<line x1="897.24" y1="1419.40" x2="897.24" y2="1433.00" stroke="rgba(0,0,0,0.45)" stroke-width="1.1"/>
<line x1="897.25" y1="1368.70" x2="897.25" y2="1419.40" stroke="#000" stroke-width="1.1"/>
<line x1="897.25" y1="1419.40" x2="897.25" y2="1433.00" stroke="rgba(0,0,0,0.45)" stroke-width="1.1"/>
<line x1="897.29" y1="1368.70" x2="897.29" y2="1419.40" stroke="#000" stroke-width="1.1"/>
<line x1="897.29" y1="1419.40" x2="897.29" y2="1433.00" stroke="rgba(0,0,0,0.45)" stroke-width="1.1"/>
<line x1="897.53" y1="1368.70" x2="897.53" y2="1419.40" stroke="#000" stroke-width="1.1"/>
<line x1="897.53" y1="1419.40" x2="897.53" y2="1433.00" stroke="rgba(0,0,0,0.45)" stroke-width="1.1"/>
<line x1="898.45" y1="1368.70" x2="898.45" y2="1419.40" stroke="#000" stroke-width="1.1"/>
<line x1="898.45" y1="1419.40" x2="898.45" y2="1433.00" stroke="rgba(0,0,0,0.45)" stroke-width="1.1"/>
<line x1="899.39" y1="1368.70" x2="899.39" y2="1419.40" stroke="#000" stroke-width="1.1"/>
<line x1="899.39" y1="1419.40" x2="899.39" y2="1433.00" stroke="rgba(0,0,0,0.45)" stroke-width="1.1"/>
<line x1="899.87" y1="1368.70" x2="899.87" y2="1419.40" stroke="#000" stroke-width="1.1"/>
<line x1="899.87" y1="1419.40" x2="899.87" y2="1433.00" stroke="rgba(0,0,0,0.45)" stroke-width="1.1"/>
<line x1="900.08" y1="1368.70" x2="900.08" y2="1419.40" stroke="#000" stroke-width="1.1"/>
<line x1="900.08" y1="1419.40" x2="900.08" y2="1433.00" stroke="rgba(0,0,0,0.45)" stroke-width="1.1"/>
<line x1="901.01" y1="1368.70" x2="901.01" y2="1419.40" stroke="#000" stroke-width="1.1"/>
<line x1="901.01" y1="1419.40" x2="901.01" y2="1433.00" stroke="rgba(0,0,0,0.45)" stroke-width="1.1"/>
<line x1="902.45" y1="1368.70" x2="902.45" y2="1419.40" stroke="#000" stroke-width="1.1"/>
<line x1="902.45" y1="1419.40" x2="902.45" y2="1433.00" stroke="rgba(0,0,0,0.45)" stroke-width="1.1"/>
<line x1="902.60" y1="1368.70" x2="902.60" y2="1419.40" stroke="#000" stroke-width="1.1"/>
<line x1="902.60" y1="1419.40" x2="902.60" y2="1433.00" stroke="rgba(0,0,0,0.45)" stroke-width="1.1"/>
<line x1="902.63" y1="1368.70" x2="902.63" y2="1419.40" stroke="#000" stroke-width="1.1"/>
<line x1="902.63" y1="1419.40" x2="902.63" y2="1433.00" stroke="rgba(0,0,0,0.45)" stroke-width="1.1"/>
<line x1="902.75" y1="1368.70" x2="902.75" y2="1419.40" stroke="#000" stroke-width="1.1"/>
<line x1="902.75" y1="1419.40" x2="902.75" y2="1433.00" stroke="rgba(0,0,0,0.45)" stroke-width="1.1"/>
<line x1="903.65" y1="1368.70" x2="903.65" y2="1419.40" stroke="#000" stroke-width="1.1"/>
<line x1="903.65" y1="1419.40" x2="903.65" y2="1433.00" stroke="rgba(0,0,0,0.45)" stroke-width="1.1"/>
<line x1="903.88" y1="1368.70" x2="903.88" y2="1419.40" stroke="#000" stroke-width="1.1"/>
<line x1="903.88" y1="1419.40" x2="903.88" y2="1433.00" stroke="rgba(0,0,0,0.45)" stroke-width="1.1"/>
<line x1="903.96" y1="1368.70" x2="903.96" y2="1419.40" stroke="#000" stroke-width="1.1"/>
<line x1="903.96" y1="1419.40" x2="903.96" y2="1433.00" stroke="rgba(0,0,0,0.45)" stroke-width="1.1"/>
<line x1="904.09" y1="1368.70" x2="904.09" y2="1419.40" stroke="#000" stroke-width="1.1"/>
<line x1="904.09" y1="1419.40" x2="904.09" y2="1433.00" stroke="rgba(0,0,0,0.45)" stroke-width="1.1"/>
<line x1="904.91" y1="1368.70" x2="904.91" y2="1419.40" stroke="#000" stroke-width="1.1"/>
<line x1="904.91" y1="1419.40" x2="904.91" y2="1433.00" stroke="rgba(0,0,0,0.45)" stroke-width="1.1"/>
<line x1="905.00" y1="1368.70" x2="905.00" y2="1419.40" stroke="#000" stroke-width="1.1"/>
<line x1="905.00" y1="1419.40" x2="905.00" y2="1433.00" stroke="rgba(0,0,0,0.45)" stroke-width="1.1"/>
<line x1="905.17" y1="1368.70" x2="905.17" y2="1419.40" stroke="#000" stroke-width="1.1"/>
<line x1="905.17" y1="1419.40" x2="905.17" y2="1433.00" stroke="rgba(0,0,0,0.45)" stroke-width="1.1"/>
<line x1="905.25" y1="1368.70" x2="905.25" y2="1419.40" stroke="#000" stroke-width="1.1"/>
<line x1="905.25" y1="1419.40" x2="905.25" y2="1433.00" stroke="rgba(0,0,0,0.45)" stroke-width="1.1"/>
<line x1="905.45" y1="1368.70" x2="905.45" y2="1419.40" stroke="#000" stroke-width="1.1"/>
<line x1="905.45" y1="1419.40" x2="905.45" y2="1433.00" stroke="rgba(0,0,0,0.45)" stroke-width="1.1"/>
<line x1="905.60" y1="1368.70" x2="905.60" y2="1419.40" stroke="#000" stroke-width="1.1"/>
<line x1="905.60" y1="1419.40" x2="905.60" y2="1433.00" stroke="rgba(0,0,0,0.45)" stroke-width="1.1"/>
<line x1="905.83" y1="1368.70" x2="905.83" y2="1419.40" stroke="#000" stroke-width="1.1"/>
<line x1="905.83" y1="1419.40" x2="905.83" y2="1433.00" stroke="rgba(0,0,0,0.45)" stroke-width="1.1"/>
<line x1="906.08" y1="1368.70" x2="906.08" y2="1419.40" stroke="#000" stroke-width="1.1"/>
<line x1="906.08" y1="1419.40" x2="906.08" y2="1433.00" stroke="rgba(0,0,0,0.45)" stroke-width="1.1"/>
<line x1="906.09" y1="1368.70" x2="906.09" y2="1419.40" stroke="#000" stroke-width="1.1"/>
<line x1="906.09" y1="1419.40" x2="906.09" y2="1433.00" stroke="rgba(0,0,0,0.45)" stroke-width="1.1"/>
<line x1="906.54" y1="1368.70" x2="906.54" y2="1419.40" stroke="#000" stroke-width="1.1"/>
<line x1="906.54" y1="1419.40" x2="906.54" y2="1433.00" stroke="rgba(0,0,0,0.45)" stroke-width="1.1"/>
<line x1="908.18" y1="1368.70" x2="908.18" y2="1419.40" stroke="#000" stroke-width="1.1"/>
<line x1="908.18" y1="1419.40" x2="908.18" y2="1433.00" stroke="rgba(0,0,0,0.45)" stroke-width="1.1"/>
<line x1="908.95" y1="1368.70" x2="908.95" y2="1419.40" stroke="#000" stroke-width="1.1"/>
<line x1="908.95" y1="1419.40" x2="908.95" y2="1433.00" stroke="rgba(0,0,0,0.45)" stroke-width="1.1"/>
<line x1="910.40" y1="1368.70" x2="910.40" y2="1419.40" stroke="#000" stroke-width="1.1"/>
<line x1="910.40" y1="1419.40" x2="910.40" y2="1433.00" stroke="rgba(0,0,0,0.45)" stroke-width="1.1"/>
<line x1="910.65" y1="1368.70" x2="910.65" y2="1419.40" stroke="#000" stroke-width="1.1"/>
<line x1="910.65" y1="1419.40" x2="910.65" y2="1433.00" stroke="rgba(0,0,0,0.45)" stroke-width="1.1"/>
<line x1="913.00" y1="1368.70" x2="913.00" y2="1419.40" stroke="#000" stroke-width="1.1"/>
<line x1="913.00" y1="1419.40" x2="913.00" y2="1433.00" stroke="rgba(0,0,0,0.45)" stroke-width="1.1"/>
<line x1="913.64" y1="1368.70" x2="913.64" y2="1419.40" stroke="#000" stroke-width="1.1"/>
<line x1="913.64" y1="1419.40" x2="913.64" y2="1433.00" stroke="rgba(0,0,0,0.45)" stroke-width="1.1"/>
<line x1="914.03" y1="1368.70" x2="914.03" y2="1419.40" stroke="#000" stroke-width="1.1"/>
<line x1="914.03" y1="1419.40" x2="914.03" y2="1433.00" stroke="rgba(0,0,0,0.45)" stroke-width="1.1"/>
<line x1="916.38" y1="1368.70" x2="916.38" y2="1419.40" stroke="#000" stroke-width="1.1"/>
<line x1="916.38" y1="1419.40" x2="916.38" y2="1433.00" stroke="rgba(0,0,0,0.45)" stroke-width="1.1"/>
<line x1="916.75" y1="1368.70" x2="916.75" y2="1419.40" stroke="#000" stroke-width="1.1"/>
<line x1="916.75" y1="1419.40" x2="916.75" y2="1433.00" stroke="rgba(0,0,0,0.45)" stroke-width="1.1"/>
<line x1="917.12" y1="1368.70" x2="917.12" y2="1419.40" stroke="#000" stroke-width="1.1"/>
<line x1="917.12" y1="1419.40" x2="917.12" y2="1433.00" stroke="rgba(0,0,0,0.45)" stroke-width="1.1"/>
<line x1="918.50" y1="1368.70" x2="918.50" y2="1419.40" stroke="#000" stroke-width="1.1"/>
<line x1="918.50" y1="1419.40" x2="918.50" y2="1433.00" stroke="rgba(0,0,0,0.45)" stroke-width="1.1"/>
<line x1="920.27" y1="1368.70" x2="920.27" y2="1419.40" stroke="#000" stroke-width="1.1"/>
<line x1="920.27" y1="1419.40" x2="920.27" y2="1433.00" stroke="rgba(0,0,0,0.45)" stroke-width="1.1"/>
<line x1="921.11" y1="1368.70" x2="921.11" y2="1419.40" stroke="#000" stroke-width="1.1"/>
<line x1="921.11" y1="1419.40" x2="921.11" y2="1433.00" stroke="rgba(0,0,0,0.45)" stroke-width="1.1"/>
<line x1="921.94" y1="1368.70" x2="921.94" y2="1419.40" stroke="#000" stroke-width="1.1"/>
<line x1="921.94" y1="1419.40" x2="921.94" y2="1433.00" stroke="rgba(0,0,0,0.45)" stroke-width="1.1"/>
<line x1="922.51" y1="1368.70" x2="922.51" y2="1419.40" stroke="#000" stroke-width="1.1"/>
<line x1="922.51" y1="1419.40" x2="922.51" y2="1433.00" stroke="rgba(0,0,0,0.45)" stroke-width="1.1"/>
<line x1="922.93" y1="1368.70" x2="922.93" y2="1419.40" stroke="#000" stroke-width="1.1"/>
<line x1="922.93" y1="1419.40" x2="922.93" y2="1433.00" stroke="rgba(0,0,0,0.45)" stroke-width="1.1"/>
<line x1="924.56" y1="1368.70" x2="924.56" y2="1419.40" stroke="#000" stroke-width="1.1"/>
<line x1="924.56" y1="1419.40" x2="924.56" y2="1433.00" stroke="rgba(0,0,0,0.45)" stroke-width="1.1"/>
<line x1="924.99" y1="1368.70" x2="924.99" y2="1419.40" stroke="#000" stroke-width="1.1"/>
<line x1="924.99" y1="1419.40" x2="924.99" y2="1433.00" stroke="rgba(0,0,0,0.45)" stroke-width="1.1"/>
<line x1="926.09" y1="1368.70" x2="926.09" y2="1419.40" stroke="#000" stroke-width="1.1"/>
<line x1="926.09" y1="1419.40" x2="926.09" y2="1433.00" stroke="rgba(0,0,0,0.45)" stroke-width="1.1"/>
<line x1="927.70" y1="1368.70" x2="927.70" y2="1419.40" stroke="#000" stroke-width="1.1"/>
<line x1="927.70" y1="1419.40" x2="927.70" y2="1433.00" stroke="rgba(0,0,0,0.45)" stroke-width="1.1"/>
<line x1="928.44" y1="1368.70" x2="928.44" y2="1419.40" stroke="#000" stroke-width="1.1"/>
<line x1="928.44" y1="1419.40" x2="928.44" y2="1433.00" stroke="rgba(0,0,0,0.45)" stroke-width="1.1"/>
<line x1="928.47" y1="1368.70" x2="928.47" y2="1419.40" stroke="#000" stroke-width="1.1"/>
<line x1="928.47" y1="1419.40" x2="928.47" y2="1433.00" stroke="rgba(0,0,0,0.45)" stroke-width="1.1"/>
<line x1="929.26" y1="1368.70" x2="929.26" y2="1419.40" stroke="#000" stroke-width="1.1"/>
<line x1="929.26" y1="1419.40" x2="929.26" y2="1433.00" stroke="rgba(0,0,0,0.45)" stroke-width="1.1"/>
<line x1="930.51" y1="1368.70" x2="930.51" y2="1419.40" stroke="#000" stroke-width="1.1"/>
<line x1="930.51" y1="1419.40" x2="930.51" y2="1433.00" stroke="rgba(0,0,0,0.45)" stroke-width="1.1"/>
<line x1="931.40" y1="1368.70" x2="931.40" y2="1419.40" stroke="#000" stroke-width="1.1"/>
<line x1="931.40" y1="1419.40" x2="931.40" y2="1433.00" stroke="rgba(0,0,0,0.45)" stroke-width="1.1"/>
<line x1="931.42" y1="1368.70" x2="931.42" y2="1419.40" stroke="#000" stroke-width="1.1"/>
<line x1="931.42" y1="1419.40" x2="931.42" y2="1433.00" stroke="rgba(0,0,0,0.45)" stroke-width="1.1"/>
<line x1="933.01" y1="1368.70" x2="933.01" y2="1419.40" stroke="#000" stroke-width="1.1"/>
<line x1="933.01" y1="1419.40" x2="933.01" y2="1433.00" stroke="rgba(0,0,0,0.45)" stroke-width="1.1"/>
<line x1="933.47" y1="1368.70" x2="933.47" y2="1419.40" stroke="#000" stroke-width="1.1"/>
<line x1="933.47" y1="1419.40" x2="933.47" y2="1433.00" stroke="rgba(0,0,0,0.45)" stroke-width="1.1"/>
<line x1="934.43" y1="1368.70" x2="934.43" y2="1419.40" stroke="#000" stroke-width="1.1"/>
<line x1="934.43" y1="1419.40" x2="934.43" y2="1433.00" stroke="rgba(0,0,0,0.45)" stroke-width="1.1"/>
<line x1="936.81" y1="1368.70" x2="936.81" y2="1419.40" stroke="#000" stroke-width="1.1"/>
<line x1="936.81" y1="1419.40" x2="936.81" y2="1433.00" stroke="rgba(0,0,0,0.45)" stroke-width="1.1"/>
<line x1="936.92" y1="1368.70" x2="936.92" y2="1419.40" stroke="#000" stroke-width="1.1"/>
<line x1="936.92" y1="1419.40" x2="936.92" y2="1433.00" stroke="rgba(0,0,0,0.45)" stroke-width="1.1"/>
<line x1="937.37" y1="1368.70" x2="937.37" y2="1419.40" stroke="#000" stroke-width="1.1"/>
<line x1="937.37" y1="1419.40" x2="937.37" y2="1433.00" stroke="rgba(0,0,0,0.45)" stroke-width="1.1"/>
<line x1="940.37" y1="1368.70" x2="940.37" y2="1419.40" stroke="#000" stroke-width="1.1"/>
<line x1="940.37" y1="1419.40" x2="940.37" y2="1433.00" stroke="rgba(0,0,0,0.45)" stroke-width="1.1"/>
<line x1="940.97" y1="1368.70" x2="940.97" y2="1419.40" stroke="#000" stroke-width="1.1"/>
<line x1="940.97" y1="1419.40" x2="940.97" y2="1433.00" stroke="rgba(0,0,0,0.45)" stroke-width="1.1"/>
<line x1="941.12" y1="1368.70" x2="941.12" y2="1419.40" stroke="#000" stroke-width="1.1"/>
<line x1="941.12" y1="1419.40" x2="941.12" y2="1433.00" stroke="rgba(0,0,0,0.45)" stroke-width="1.1"/>
<line x1="942.59" y1="1368.70" x2="942.59" y2="1419.40" stroke="#000" stroke-width="1.1"/>
<line x1="942.59" y1="1419.40" x2="942.59" y2="1433.00" stroke="rgba(0,0,0,0.45)" stroke-width="1.1"/>
<line x1="943.24" y1="1368.70" x2="943.24" y2="1419.40" stroke="#000" stroke-width="1.1"/>
<line x1="943.24" y1="1419.40" x2="943.24" y2="1433.00" stroke="rgba(0,0,0,0.45)" stroke-width="1.1"/>
<line x1="943.26" y1="1368.70" x2="943.26" y2="1419.40" stroke="#000" stroke-width="1.1"/>
<line x1="943.26" y1="1419.40" x2="943.26" y2="1433.00" stroke="rgba(0,0,0,0.45)" stroke-width="1.1"/>
<line x1="943.99" y1="1368.70" x2="943.99" y2="1419.40" stroke="#000" stroke-width="1.1"/>
<line x1="943.99" y1="1419.40" x2="943.99" y2="1433.00" stroke="rgba(0,0,0,0.45)" stroke-width="1.1"/>
<line x1="945.34" y1="1368.70" x2="945.34" y2="1419.40" stroke="#000" stroke-width="1.1"/>
<line x1="945.34" y1="1419.40" x2="945.34" y2="1433.00" stroke="rgba(0,0,0,0.45)" stroke-width="1.1"/>
<line x1="945.88" y1="1368.70" x2="945.88" y2="1419.40" stroke="#000" stroke-width="1.1"/>
<line x1="945.88" y1="1419.40" x2="945.88" y2="1433.00" stroke="rgba(0,0,0,0.45)" stroke-width="1.1"/>
<line x1="947.49" y1="1368.70" x2="947.49" y2="1419.40" stroke="#000" stroke-width="1.1"/>
<line x1="947.49" y1="1419.40" x2="947.49" y2="1433.00" stroke="rgba(0,0,0,0.45)" stroke-width="1.1"/>
<line x1="949.84" y1="1368.70" x2="949.84" y2="1419.40" stroke="#000" stroke-width="1.1"/>
<line x1="949.84" y1="1419.40" x2="949.84" y2="1433.00" stroke="rgba(0,0,0,0.45)" stroke-width="1.1"/>
<line x1="951.64" y1="1368.70" x2="951.64" y2="1419.40" stroke="#000" stroke-width="1.1"/>
<line x1="951.64" y1="1419.40" x2="951.64" y2="1433.00" stroke="rgba(0,0,0,0.45)" stroke-width="1.1"/>
<line x1="952.58" y1="1368.70" x2="952.58" y2="1419.40" stroke="#000" stroke-width="1.1"/>
<line x1="952.58" y1="1419.40" x2="952.58" y2="1433.00" stroke="rgba(0,0,0,0.45)" stroke-width="1.1"/>
<line x1="952.97" y1="1368.70" x2="952.97" y2="1419.40" stroke="#000" stroke-width="1.1"/>
<line x1="952.97" y1="1419.40" x2="952.97" y2="1433.00" stroke="rgba(0,0,0,0.45)" stroke-width="1.1"/>
<line x1="954.48" y1="1368.70" x2="954.48" y2="1419.40" stroke="#000" stroke-width="1.1"/>
<line x1="954.48" y1="1419.40" x2="954.48" y2="1433.00" stroke="rgba(0,0,0,0.45)" stroke-width="1.1"/>
<line x1="954.99" y1="1368.70" x2="954.99" y2="1419.40" stroke="#000" stroke-width="1.1"/>
<line x1="954.99" y1="1419.40" x2="954.99" y2="1433.00" stroke="rgba(0,0,0,0.45)" stroke-width="1.1"/>
<line x1="955.43" y1="1368.70" x2="955.43" y2="1419.40" stroke="#000" stroke-width="1.1"/>
<line x1="955.43" y1="1419.40" x2="955.43" y2="1433.00" stroke="rgba(0,0,0,0.45)" stroke-width="1.1"/>
<line x1="956.81" y1="1368.70" x2="956.81" y2="1419.40" stroke="#000" stroke-width="1.1"/>
<line x1="956.81" y1="1419.40" x2="956.81" y2="1433.00" stroke="rgba(0,0,0,0.45)" stroke-width="1.1"/>
<line x1="957.35" y1="1368.70" x2="957.35" y2="1419.40" stroke="#000" stroke-width="1.1"/>
<line x1="957.35" y1="1419.40" x2="957.35" y2="1433.00" stroke="rgba(0,0,0,0.45)" stroke-width="1.1"/>
<line x1="959.22" y1="1368.70" x2="959.22" y2="1419.40" stroke="#000" stroke-width="1.1"/>
<line x1="959.22" y1="1419.40" x2="959.22" y2="1433.00" stroke="rgba(0,0,0,0.45)" stroke-width="1.1"/>
<line x1="960.38" y1="1368.70" x2="960.38" y2="1419.40" stroke="#000" stroke-width="1.1"/>
<line x1="960.38" y1="1419.40" x2="960.38" y2="1433.00" stroke="rgba(0,0,0,0.45)" stroke-width="1.1"/>
<line x1="962.61" y1="1368.70" x2="962.61" y2="1419.40" stroke="#000" stroke-width="1.1"/>
<line x1="962.61" y1="1419.40" x2="962.61" y2="1433.00" stroke="rgba(0,0,0,0.45)" stroke-width="1.1"/>
<line x1="963.54" y1="1368.70" x2="963.54" y2="1419.40" stroke="#000" stroke-width="1.1"/>
<line x1="963.54" y1="1419.40" x2="963.54" y2="1433.00" stroke="rgba(0,0,0,0.45)" stroke-width="1.1"/>
<line x1="964.09" y1="1368.70" x2="964.09" y2="1419.40" stroke="#000" stroke-width="1.1"/>
<line x1="964.09" y1="1419.40" x2="964.09" y2="1433.00" stroke="rgba(0,0,0,0.45)" stroke-width="1.1"/>
<line x1="964.65" y1="1368.70" x2="964.65" y2="1419.40" stroke="#000" stroke-width="1.1"/>
<line x1="964.65" y1="1419.40" x2="964.65" y2="1433.00" stroke="rgba(0,0,0,0.45)" stroke-width="1.1"/>
<line x1="964.83" y1="1368.70" x2="964.83" y2="1419.40" stroke="#000" stroke-width="1.1"/>
<line x1="964.83" y1="1419.40" x2="964.83" y2="1433.00" stroke="rgba(0,0,0,0.45)" stroke-width="1.1"/>
<line x1="965.89" y1="1368.70" x2="965.89" y2="1419.40" stroke="#000" stroke-width="1.1"/>
<line x1="965.89" y1="1419.40" x2="965.89" y2="1433.00" stroke="rgba(0,0,0,0.45)" stroke-width="1.1"/>
<line x1="967.87" y1="1368.70" x2="967.87" y2="1419.40" stroke="#000" stroke-width="1.1"/>
<line x1="967.87" y1="1419.40" x2="967.87" y2="1433.00" stroke="rgba(0,0,0,0.45)" stroke-width="1.1"/>
<line x1="968.27" y1="1368.70" x2="968.27" y2="1419.40" stroke="#000" stroke-width="1.1"/>
<line x1="968.27" y1="1419.40" x2="968.27" y2="1433.00" stroke="rgba(0,0,0,0.45)" stroke-width="1.1"/>
<line x1="968.97" y1="1368.70" x2="968.97" y2="1419.40" stroke="#000" stroke-width="1.1"/>
<line x1="968.97" y1="1419.40" x2="968.97" y2="1433.00" stroke="rgba(0,0,0,0.45)" stroke-width="1.1"/>
<line x1="970.62" y1="1368.70" x2="970.62" y2="1419.40" stroke="#000" stroke-width="1.1"/>
<line x1="970.62" y1="1419.40" x2="970.62" y2="1433.00" stroke="rgba(0,0,0,0.45)" stroke-width="1.1"/>
<line x1="971.93" y1="1368.70" x2="971.93" y2="1419.40" stroke="#000" stroke-width="1.1"/>
<line x1="971.93" y1="1419.40" x2="971.93" y2="1433.00" stroke="rgba(0,0,0,0.45)" stroke-width="1.1"/>
<line x1="974.86" y1="1368.70" x2="974.86" y2="1419.40" stroke="#000" stroke-width="1.1"/>
<line x1="974.86" y1="1419.40" x2="974.86" y2="1433.00" stroke="rgba(0,0,0,0.45)" stroke-width="1.1"/>
<line x1="975.08" y1="1368.70" x2="975.08" y2="1419.40" stroke="#000" stroke-width="1.1"/>
<line x1="975.08" y1="1419.40" x2="975.08" y2="1433.00" stroke="rgba(0,0,0,0.45)" stroke-width="1.1"/>
<line x1="975.42" y1="1368.70" x2="975.42" y2="1419.40" stroke="#000" stroke-width="1.1"/>
<line x1="975.42" y1="1419.40" x2="975.42" y2="1433.00" stroke="rgba(0,0,0,0.45)" stroke-width="1.1"/>
<line x1="975.87" y1="1368.70" x2="975.87" y2="1419.40" stroke="#000" stroke-width="1.1"/>
<line x1="975.87" y1="1419.40" x2="975.87" y2="1433.00" stroke="rgba(0,0,0,0.45)" stroke-width="1.1"/>
<line x1="976.84" y1="1368.70" x2="976.84" y2="1419.40" stroke="#000" stroke-width="1.1"/>
<line x1="976.84" y1="1419.40" x2="976.84" y2="1433.00" stroke="rgba(0,0,0,0.45)" stroke-width="1.1"/>
<line x1="982.69" y1="1368.70" x2="982.69" y2="1419.40" stroke="#000" stroke-width="1.1"/>
<line x1="982.69" y1="1419.40" x2="982.69" y2="1433.00" stroke="rgba(0,0,0,0.45)" stroke-width="1.1"/>
<line x1="982.96" y1="1368.70" x2="982.96" y2="1419.40" stroke="#000" stroke-width="1.1"/>
<line x1="982.96" y1="1419.40" x2="982.96" y2="1433.00" stroke="rgba(0,0,0,0.45)" stroke-width="1.1"/>
<line x1="985.52" y1="1368.70" x2="985.52" y2="1419.40" stroke="#000" stroke-width="1.1"/>
<line x1="985.52" y1="1419.40" x2="985.52" y2="1433.00" stroke="rgba(0,0,0,0.45)" stroke-width="1.1"/>
<line x1="985.85" y1="1368.70" x2="985.85" y2="1419.40" stroke="#000" stroke-width="1.1"/>
<line x1="985.85" y1="1419.40" x2="985.85" y2="1433.00" stroke="rgba(0,0,0,0.45)" stroke-width="1.1"/>
<line x1="987.25" y1="1368.70" x2="987.25" y2="1419.40" stroke="#000" stroke-width="1.1"/>
<line x1="987.25" y1="1419.40" x2="987.25" y2="1433.00" stroke="rgba(0,0,0,0.45)" stroke-width="1.1"/>
<line x1="988.57" y1="1368.70" x2="988.57" y2="1419.40" stroke="#000" stroke-width="1.1"/>
<line x1="988.57" y1="1419.40" x2="988.57" y2="1433.00" stroke="rgba(0,0,0,0.45)" stroke-width="1.1"/>
<line x1="990.19" y1="1368.70" x2="990.19" y2="1419.40" stroke="#000" stroke-width="1.1"/>
<line x1="990.19" y1="1419.40" x2="990.19" y2="1433.00" stroke="rgba(0,0,0,0.45)" stroke-width="1.1"/>
<line x1="992.38" y1="1368.70" x2="992.38" y2="1419.40" stroke="#000" stroke-width="1.1"/>
<line x1="992.38" y1="1419.40" x2="992.38" y2="1433.00" stroke="rgba(0,0,0,0.45)" stroke-width="1.1"/>
<line x1="994.42" y1="1368.70" x2="994.42" y2="1419.40" stroke="#000" stroke-width="1.1"/>
<line x1="994.42" y1="1419.40" x2="994.42" y2="1433.00" stroke="rgba(0,0,0,0.45)" stroke-width="1.1"/>
<line x1="996.29" y1="1368.70" x2="996.29" y2="1419.40" stroke="#000" stroke-width="1.1"/>
<line x1="996.29" y1="1419.40" x2="996.29" y2="1433.00" stroke="rgba(0,0,0,0.45)" stroke-width="1.1"/>
<line x1="997.75" y1="1368.70" x2="997.75" y2="1419.40" stroke="#000" stroke-width="1.1"/>
<line x1="997.75" y1="1419.40" x2="997.75" y2="1433.00" stroke="rgba(0,0,0,0.45)" stroke-width="1.1"/>
<line x1="997.88" y1="1368.70" x2="997.88" y2="1419.40" stroke="#000" stroke-width="1.1"/>
<line x1="997.88" y1="1419.40" x2="997.88" y2="1433.00" stroke="rgba(0,0,0,0.45)" stroke-width="1.1"/>
<line x1="1000.29" y1="1368.70" x2="1000.29" y2="1419.40" stroke="#000" stroke-width="1.1"/>
<line x1="1000.29" y1="1419.40" x2="1000.29" y2="1433.00" stroke="rgba(0,0,0,0.45)" stroke-width="1.1"/>
<line x1="1009.07" y1="1368.70" x2="1009.07" y2="1419.40" stroke="#000" stroke-width="1.1"/>
<line x1="1009.07" y1="1419.40" x2="1009.07" y2="1433.00" stroke="rgba(0,0,0,0.45)" stroke-width="1.1"/>
<line x1="1009.97" y1="1368.70" x2="1009.97" y2="1419.40" stroke="#000" stroke-width="1.1"/>
<line x1="1009.97" y1="1419.40" x2="1009.97" y2="1433.00" stroke="rgba(0,0,0,0.45)" stroke-width="1.1"/>
<line x1="1012.12" y1="1368.70" x2="1012.12" y2="1419.40" stroke="#000" stroke-width="1.1"/>
<line x1="1012.12" y1="1419.40" x2="1012.12" y2="1433.00" stroke="rgba(0,0,0,0.45)" stroke-width="1.1"/>
<line x1="1012.87" y1="1368.70" x2="1012.87" y2="1419.40" stroke="#000" stroke-width="1.1"/>
<line x1="1012.87" y1="1419.40" x2="1012.87" y2="1433.00" stroke="rgba(0,0,0,0.45)" stroke-width="1.1"/>
<line x1="1013.13" y1="1368.70" x2="1013.13" y2="1419.40" stroke="#000" stroke-width="1.1"/>
<line x1="1013.13" y1="1419.40" x2="1013.13" y2="1433.00" stroke="rgba(0,0,0,0.45)" stroke-width="1.1"/>
<line x1="1013.66" y1="1368.70" x2="1013.66" y2="1419.40" stroke="#000" stroke-width="1.1"/>
<line x1="1013.66" y1="1419.40" x2="1013.66" y2="1433.00" stroke="rgba(0,0,0,0.45)" stroke-width="1.1"/>
<line x1="1014.83" y1="1368.70" x2="1014.83" y2="1419.40" stroke="#000" stroke-width="1.1"/>
<line x1="1014.83" y1="1419.40" x2="1014.83" y2="1433.00" stroke="rgba(0,0,0,0.45)" stroke-width="1.1"/>
<line x1="1014.92" y1="1368.70" x2="1014.92" y2="1419.40" stroke="#000" stroke-width="1.1"/>
<line x1="1014.92" y1="1419.40" x2="1014.92" y2="1433.00" stroke="rgba(0,0,0,0.45)" stroke-width="1.1"/>
<line x1="1015.69" y1="1368.70" x2="1015.69" y2="1419.40" stroke="#000" stroke-width="1.1"/>
<line x1="1015.69" y1="1419.40" x2="1015.69" y2="1433.00" stroke="rgba(0,0,0,0.45)" stroke-width="1.1"/>
<line x1="1019.20" y1="1368.70" x2="1019.20" y2="1419.40" stroke="#000" stroke-width="1.1"/>
<line x1="1019.20" y1="1419.40" x2="1019.20" y2="1433.00" stroke="rgba(0,0,0,0.45)" stroke-width="1.1"/>
<line x1="1020.97" y1="1368.70" x2="1020.97" y2="1419.40" stroke="#000" stroke-width="1.1"/>
<line x1="1020.97" y1="1419.40" x2="1020.97" y2="1433.00" stroke="rgba(0,0,0,0.45)" stroke-width="1.1"/>
<line x1="1024.01" y1="1368.70" x2="1024.01" y2="1419.40" stroke="#000" stroke-width="1.1"/>
<line x1="1024.01" y1="1419.40" x2="1024.01" y2="1433.00" stroke="rgba(0,0,0,0.45)" stroke-width="1.1"/>
<line x1="1032.95" y1="1368.70" x2="1032.95" y2="1419.40" stroke="#000" stroke-width="1.1"/>
<line x1="1032.95" y1="1419.40" x2="1032.95" y2="1433.00" stroke="rgba(0,0,0,0.45)" stroke-width="1.1"/>
<line x1="1035.56" y1="1368.70" x2="1035.56" y2="1419.40" stroke="#000" stroke-width="1.1"/>
<line x1="1035.56" y1="1419.40" x2="1035.56" y2="1433.00" stroke="rgba(0,0,0,0.45)" stroke-width="1.1"/>
<line x1="1036.25" y1="1368.70" x2="1036.25" y2="1419.40" stroke="#000" stroke-width="1.1"/>
<line x1="1036.25" y1="1419.40" x2="1036.25" y2="1433.00" stroke="rgba(0,0,0,0.45)" stroke-width="1.1"/>
<line x1="1095.69" y1="1368.70" x2="1095.69" y2="1419.40" stroke="#000" stroke-width="1.1"/>
<line x1="1095.69" y1="1419.40" x2="1095.69" y2="1433.00" stroke="rgba(0,0,0,0.45)" stroke-width="1.1"/>
<line x1="1103.77" y1="1368.70" x2="1103.77" y2="1419.40" stroke="#000" stroke-width="1.1"/>
<line x1="1103.77" y1="1419.40" x2="1103.77" y2="1433.00" stroke="rgba(0,0,0,0.45)" stroke-width="1.1"/>
<line x1="1104.79" y1="1368.70" x2="1104.79" y2="1419.40" stroke="#000" stroke-width="1.1"/>
<line x1="1104.79" y1="1419.40" x2="1104.79" y2="1433.00" stroke="rgba(0,0,0,0.45)" stroke-width="1.1"/>
<line x1="1152.32" y1="1368.70" x2="1152.32" y2="1419.40" stroke="#000" stroke-width="1.1"/>
<line x1="1152.32" y1="1419.40" x2="1152.32" y2="1433.00" stroke="rgba(0,0,0,0.45)" stroke-width="1.1"/>
<line x1="1162.71" y1="1368.70" x2="1162.71" y2="1419.40" stroke="#000" stroke-width="1.1"/>
<line x1="1162.71" y1="1419.40" x2="1162.71" y2="1433.00" stroke="rgba(0,0,0,0.45)" stroke-width="1.1"/>
<line x1="1163.65" y1="1368.70" x2="1163.65" y2="1419.40" stroke="#000" stroke-width="1.1"/>
<line x1="1163.65" y1="1419.40" x2="1163.65" y2="1433.00" stroke="rgba(0,0,0,0.45)" stroke-width="1.1"/>
<line x1="1163.91" y1="1368.70" x2="1163.91" y2="1419.40" stroke="#000" stroke-width="1.1"/>
<line x1="1163.91" y1="1419.40" x2="1163.91" y2="1433.00" stroke="rgba(0,0,0,0.45)" stroke-width="1.1"/>
<line x1="1164.54" y1="1368.70" x2="1164.54" y2="1419.40" stroke="#000" stroke-width="1.1"/>
<line x1="1164.54" y1="1419.40" x2="1164.54" y2="1433.00" stroke="rgba(0,0,0,0.45)" stroke-width="1.1"/>
<line x1="1167.17" y1="1368.70" x2="1167.17" y2="1419.40" stroke="#000" stroke-width="1.1"/>
<line x1="1167.17" y1="1419.40" x2="1167.17" y2="1433.00" stroke="rgba(0,0,0,0.45)" stroke-width="1.1"/>
<line x1="1175.29" y1="1368.70" x2="1175.29" y2="1419.40" stroke="#000" stroke-width="1.1"/>
<line x1="1175.29" y1="1419.40" x2="1175.29" y2="1433.00" stroke="rgba(0,0,0,0.45)" stroke-width="1.1"/>
<line x1="1175.64" y1="1368.70" x2="1175.64" y2="1419.40" stroke="#000" stroke-width="1.1"/>
<line x1="1175.64" y1="1419.40" x2="1175.64" y2="1433.00" stroke="rgba(0,0,0,0.45)" stroke-width="1.1"/>
<line x1="1177.98" y1="1368.70" x2="1177.98" y2="1419.40" stroke="#000" stroke-width="1.1"/>
<line x1="1177.98" y1="1419.40" x2="1177.98" y2="1433.00" stroke="rgba(0,0,0,0.45)" stroke-width="1.1"/>
<line x1="1178.54" y1="1368.70" x2="1178.54" y2="1419.40" stroke="#000" stroke-width="1.1"/>
<line x1="1178.54" y1="1419.40" x2="1178.54" y2="1433.00" stroke="rgba(0,0,0,0.45)" stroke-width="1.1"/>
<line x1="1178.58" y1="1368.70" x2="1178.58" y2="1419.40" stroke="#000" stroke-width="1.1"/>
<line x1="1178.58" y1="1419.40" x2="1178.58" y2="1433.00" stroke="rgba(0,0,0,0.45)" stroke-width="1.1"/>
<line x1="1181.62" y1="1368.70" x2="1181.62" y2="1419.40" stroke="#000" stroke-width="1.1"/>
<line x1="1181.62" y1="1419.40" x2="1181.62" y2="1433.00" stroke="rgba(0,0,0,0.45)" stroke-width="1.1"/>
<line x1="1184.53" y1="1368.70" x2="1184.53" y2="1419.40" stroke="#000" stroke-width="1.1"/>
<line x1="1184.53" y1="1419.40" x2="1184.53" y2="1433.00" stroke="rgba(0,0,0,0.45)" stroke-width="1.1"/>
<line x1="1185.19" y1="1368.70" x2="1185.19" y2="1419.40" stroke="#000" stroke-width="1.1"/>
<line x1="1185.19" y1="1419.40" x2="1185.19" y2="1433.00" stroke="rgba(0,0,0,0.45)" stroke-width="1.1"/>
<line x1="1186.50" y1="1368.70" x2="1186.50" y2="1419.40" stroke="#000" stroke-width="1.1"/>
<line x1="1186.50" y1="1419.40" x2="1186.50" y2="1433.00" stroke="rgba(0,0,0,0.45)" stroke-width="1.1"/>
<line x1="1187.44" y1="1368.70" x2="1187.44" y2="1419.40" stroke="#000" stroke-width="1.1"/>
<line x1="1187.44" y1="1419.40" x2="1187.44" y2="1433.00" stroke="rgba(0,0,0,0.45)" stroke-width="1.1"/>
<line x1="1189.27" y1="1368.70" x2="1189.27" y2="1419.40" stroke="#000" stroke-width="1.1"/>
<line x1="1189.27" y1="1419.40" x2="1189.27" y2="1433.00" stroke="rgba(0,0,0,0.45)" stroke-width="1.1"/>
<line x1="1192.45" y1="1368.70" x2="1192.45" y2="1419.40" stroke="#000" stroke-width="1.1"/>
<line x1="1192.45" y1="1419.40" x2="1192.45" y2="1433.00" stroke="rgba(0,0,0,0.45)" stroke-width="1.1"/>
<line x1="1192.81" y1="1368.70" x2="1192.81" y2="1419.40" stroke="#000" stroke-width="1.1"/>
<line x1="1192.81" y1="1419.40" x2="1192.81" y2="1433.00" stroke="rgba(0,0,0,0.45)" stroke-width="1.1"/>
<line x1="1201.64" y1="1368.70" x2="1201.64" y2="1419.40" stroke="#000" stroke-width="1.1"/>
<line x1="1201.64" y1="1419.40" x2="1201.64" y2="1433.00" stroke="rgba(0,0,0,0.45)" stroke-width="1.1"/>
<line x1="1202.32" y1="1368.70" x2="1202.32" y2="1419.40" stroke="#000" stroke-width="1.1"/>
<line x1="1202.32" y1="1419.40" x2="1202.32" y2="1433.00" stroke="rgba(0,0,0,0.45)" stroke-width="1.1"/>
<line x1="1204.13" y1="1368.70" x2="1204.13" y2="1419.40" stroke="#000" stroke-width="1.1"/>
<line x1="1204.13" y1="1419.40" x2="1204.13" y2="1433.00" stroke="rgba(0,0,0,0.45)" stroke-width="1.1"/>
<line x1="1204.70" y1="1368.70" x2="1204.70" y2="1419.40" stroke="#000" stroke-width="1.1"/>
<line x1="1204.70" y1="1419.40" x2="1204.70" y2="1433.00" stroke="rgba(0,0,0,0.45)" stroke-width="1.1"/>
<line x1="1208.01" y1="1368.70" x2="1208.01" y2="1419.40" stroke="#000" stroke-width="1.1"/>
<line x1="1208.01" y1="1419.40" x2="1208.01" y2="1433.00" stroke="rgba(0,0,0,0.45)" stroke-width="1.1"/>
<line x1="1210.23" y1="1368.70" x2="1210.23" y2="1419.40" stroke="#000" stroke-width="1.1"/>
<line x1="1210.23" y1="1419.40" x2="1210.23" y2="1433.00" stroke="rgba(0,0,0,0.45)" stroke-width="1.1"/>
<line x1="1212.98" y1="1368.70" x2="1212.98" y2="1419.40" stroke="#000" stroke-width="1.1"/>
<line x1="1212.98" y1="1419.40" x2="1212.98" y2="1433.00" stroke="rgba(0,0,0,0.45)" stroke-width="1.1"/>
<line x1="1213.53" y1="1368.70" x2="1213.53" y2="1419.40" stroke="#000" stroke-width="1.1"/>
<line x1="1213.53" y1="1419.40" x2="1213.53" y2="1433.00" stroke="rgba(0,0,0,0.45)" stroke-width="1.1"/>
<line x1="1215.77" y1="1368.70" x2="1215.77" y2="1419.40" stroke="#000" stroke-width="1.1"/>
<line x1="1215.77" y1="1419.40" x2="1215.77" y2="1433.00" stroke="rgba(0,0,0,0.45)" stroke-width="1.1"/>
<line x1="1217.98" y1="1368.70" x2="1217.98" y2="1419.40" stroke="#000" stroke-width="1.1"/>
<line x1="1217.98" y1="1419.40" x2="1217.98" y2="1433.00" stroke="rgba(0,0,0,0.45)" stroke-width="1.1"/>
<line x1="1218.59" y1="1368.70" x2="1218.59" y2="1419.40" stroke="#000" stroke-width="1.1"/>
<line x1="1218.59" y1="1419.40" x2="1218.59" y2="1433.00" stroke="rgba(0,0,0,0.45)" stroke-width="1.1"/>
<line x1="1221.04" y1="1368.70" x2="1221.04" y2="1419.40" stroke="#000" stroke-width="1.1"/>
<line x1="1221.04" y1="1419.40" x2="1221.04" y2="1433.00" stroke="rgba(0,0,0,0.45)" stroke-width="1.1"/>
<line x1="1228.40" y1="1368.70" x2="1228.40" y2="1419.40" stroke="#000" stroke-width="1.1"/>
<line x1="1228.40" y1="1419.40" x2="1228.40" y2="1433.00" stroke="rgba(0,0,0,0.45)" stroke-width="1.1"/>
<line x1="1229.91" y1="1368.70" x2="1229.91" y2="1419.40" stroke="#000" stroke-width="1.1"/>
<line x1="1229.91" y1="1419.40" x2="1229.91" y2="1433.00" stroke="rgba(0,0,0,0.45)" stroke-width="1.1"/>
<polyline points="888.08,1355.96 888.81,1340.83 890.03,1306.67 891.25,1289.58 893.69,1274.94 896.13,1267.62 898.57,1256.64 901.01,1250.53 903.45,1245.65 905.89,1243.21 909.55,1239.55 913.21,1235.89 915.65,1228.57 918.09,1227.35 922.98,1227.35 925.42,1223.69 929.08,1220.03 931.52,1217.59 932.74,1215.88 937.62,1217.59 942.50,1218.81 947.38,1218.08 952.26,1217.10 957.14,1218.81 962.02,1220.52 969.34,1222.47 976.67,1223.69 986.43,1228.57 998.63,1235.40 1010.83,1241.99 1035.24,1255.42 1059.64,1270.06 1084.05,1284.70 1108.45,1299.34 1132.85,1315.21 1157.26,1329.85 1181.66,1343.76 1201.19,1353.03 1210.95,1354.25 1220.71,1357.91 1225.59,1359.14 1230.47,1356.69 1233.40,1355.47" fill="none" stroke="#5cb82a" stroke-width="2.3" stroke-linejoin="round"/>
<polygon points="888.20,1490.20 888.20,1445.88 889.52,1449.83 890.83,1453.19 892.15,1456.05 893.46,1458.50 894.78,1460.61 896.09,1462.44 897.41,1464.02 898.73,1465.41 900.04,1466.63 901.36,1467.71 902.67,1468.68 903.99,1469.55 905.30,1470.33 906.62,1471.04 907.94,1471.70 909.25,1472.30 910.57,1472.86 911.88,1473.39 913.20,1473.88 914.51,1474.34 915.83,1474.79 917.15,1475.21 918.46,1475.61 919.78,1476.00 921.09,1476.37 922.41,1476.73 923.72,1477.07 925.04,1477.41 926.36,1477.73 927.67,1478.05 928.99,1478.36 930.30,1478.66 931.62,1478.95 932.93,1479.24 934.25,1479.52 935.57,1479.79 936.88,1480.06 938.20,1480.32 939.51,1480.58 940.83,1480.83 942.14,1481.08 943.46,1481.32 944.78,1481.55 946.09,1481.79 947.41,1482.01 948.72,1482.23 950.04,1482.45 951.35,1482.67 952.67,1482.88 953.99,1483.08 955.30,1483.28 956.62,1483.48 957.93,1483.68 959.25,1483.87 960.56,1484.06 961.88,1484.24 963.20,1484.42 964.51,1484.60 965.83,1484.77 967.14,1484.94 968.46,1485.11 969.77,1485.27 971.09,1485.43 972.41,1485.59 973.72,1485.75 975.04,1485.90 976.35,1486.05 977.67,1486.20 978.99,1486.35 980.30,1486.49 981.62,1486.63 982.93,1486.77 984.25,1486.90 985.56,1487.03 986.88,1487.16 988.20,1487.29 989.51,1487.42 990.83,1487.54 992.14,1487.66 993.46,1487.78 994.77,1487.90 996.09,1488.02 997.41,1488.13 998.72,1488.24 1000.04,1488.35 1001.35,1488.46 1002.67,1488.57 1003.98,1488.67 1005.30,1488.78 1006.62,1488.88 1007.93,1488.98 1009.25,1489.07 1010.56,1489.17 1011.88,1489.27 1013.19,1489.36 1014.51,1489.45 1015.83,1489.54 1017.14,1489.63 1018.46,1489.72 1019.77,1489.81 1021.09,1489.89 1022.40,1489.98 1023.72,1490.06 1025.04,1490.14 1026.35,1490.22 1027.08,1490.20" fill="#c4c4c4"/>
<polygon points="1160.12,1490.20 1160.12,1490.20 1160.56,1490.23 1160.99,1490.27 1161.43,1490.30 1161.87,1490.34 1162.31,1490.37 1162.75,1490.41 1163.19,1490.45 1163.63,1490.48 1164.06,1490.52 1164.50,1490.56 1164.94,1490.59 1165.38,1490.63 1165.82,1490.67 1166.26,1490.70 1166.70,1490.74 1167.13,1490.78 1167.57,1490.82 1168.01,1490.86 1168.45,1490.89 1168.89,1490.93 1169.33,1490.97 1169.77,1491.01 1170.20,1491.05 1170.64,1491.09 1171.08,1491.13 1171.52,1491.17 1171.96,1491.21 1172.40,1491.26 1172.84,1491.30 1173.27,1491.34 1173.71,1491.38 1174.15,1491.42 1174.59,1491.47 1175.03,1491.51 1175.47,1491.55 1175.91,1491.60 1176.34,1491.64 1176.78,1491.68 1177.22,1491.73 1177.66,1491.77 1178.10,1491.82 1178.54,1491.87 1178.98,1491.91 1179.41,1491.96 1179.85,1492.01 1180.29,1492.05 1180.73,1492.10 1181.17,1492.15 1181.61,1492.20 1182.05,1492.25 1182.48,1492.30 1182.92,1492.35 1183.36,1492.40 1183.80,1492.45 1184.24,1492.50 1184.68,1492.55 1185.12,1492.60 1185.55,1492.65 1185.99,1492.71 1186.43,1492.76 1186.87,1492.81 1187.31,1492.87 1187.75,1492.92 1188.19,1492.98 1188.62,1493.04 1189.06,1493.09 1189.50,1493.15 1189.94,1493.21 1190.38,1493.27 1190.82,1493.32 1191.26,1493.38 1191.69,1493.44 1192.13,1493.50 1192.57,1493.57 1193.01,1493.63 1193.45,1493.69 1193.89,1493.75 1194.33,1493.82 1194.76,1493.88 1195.20,1493.95 1195.64,1494.02 1196.08,1494.08 1196.52,1494.15 1196.96,1494.22 1197.40,1494.29 1197.83,1494.36 1198.27,1494.43 1198.71,1494.50 1199.15,1494.58 1199.59,1494.65 1200.03,1494.73 1200.47,1494.80 1200.90,1494.88 1201.34,1494.96 1201.78,1495.04 1202.22,1495.12 1202.66,1495.20 1203.10,1495.28 1203.54,1495.36 1203.97,1495.45 1204.41,1495.54 1204.85,1495.62 1205.29,1495.71 1205.73,1495.80 1206.17,1495.89 1206.61,1495.99 1207.04,1496.08 1207.48,1496.18 1207.92,1496.28 1208.36,1496.38 1208.80,1496.48 1209.24,1496.58 1209.68,1496.69 1210.11,1496.79 1210.55,1496.90 1210.99,1497.01 1211.43,1497.13 1211.87,1497.24 1212.31,1497.36 1212.75,1497.48 1213.18,1497.61 1213.62,1497.73 1214.06,1497.86 1214.50,1497.99 1214.94,1498.13 1215.38,1498.27 1215.82,1498.41 1216.25,1498.55 1216.69,1498.70 1217.13,1498.85 1217.57,1499.01 1218.01,1499.17 1218.45,1499.34 1218.89,1499.51 1219.32,1499.68 1219.76,1499.86 1220.20,1500.05 1220.64,1500.25 1221.08,1500.45 1221.52,1500.65 1221.96,1500.87 1222.39,1501.09 1222.83,1501.33 1223.27,1501.57 1223.71,1501.82 1224.15,1502.09 1224.59,1502.36 1225.03,1502.66 1225.46,1502.96 1225.90,1503.29 1226.34,1503.63 1226.78,1504.00 1227.22,1504.39 1227.66,1504.81 1228.10,1505.26 1228.53,1505.75 1228.97,1506.29 1229.41,1506.88 1229.85,1507.54 1230.29,1508.28 1230.73,1509.14 1231.17,1510.14 1231.60,1511.36 1232.04,1512.90 1232.48,1515.02 1232.92,1518.41 1233.36,1527.66 1233.36,1490.20" fill="#c4c4c4"/>
<line x1="1027.08" y1="1433.00" x2="1027.08" y2="1538.00" stroke="#333" stroke-width="1.0" stroke-dasharray="3 2"/>
<text x="1034.00" y="1487.92" font-size="9.00" text-anchor="middle" fill="#333">Zero cross at 15833</text>
<text x="890.00" y="1444.83" font-size="9.85" font-weight="bold" fill="#e53b25">'shCtrl' (positively correlated)</text>
<text x="1230.00" y="1533.03" font-size="9.85" font-weight="bold" text-anchor="end" fill="#3346a8">'GMDS-AS1_sh2' (negatively correlated)</text>
<line x1="885.20" y1="1356.00" x2="888.20" y2="1356.00" stroke="#777" stroke-width="1.0"/>
<text x="884.00" y="1359.29" font-size="9.20" text-anchor="end" fill="#222">0.0</text>
<line x1="885.20" y1="1335.60" x2="888.20" y2="1335.60" stroke="#777" stroke-width="1.0"/>
<text x="884.00" y="1338.89" font-size="9.20" text-anchor="end" fill="#222">0.1</text>
<line x1="885.20" y1="1315.20" x2="888.20" y2="1315.20" stroke="#777" stroke-width="1.0"/>
<text x="884.00" y="1318.49" font-size="9.20" text-anchor="end" fill="#222">0.2</text>
<line x1="885.20" y1="1294.80" x2="888.20" y2="1294.80" stroke="#777" stroke-width="1.0"/>
<text x="884.00" y="1298.09" font-size="9.20" text-anchor="end" fill="#222">0.3</text>
<line x1="885.20" y1="1274.40" x2="888.20" y2="1274.40" stroke="#777" stroke-width="1.0"/>
<text x="884.00" y="1277.69" font-size="9.20" text-anchor="end" fill="#222">0.4</text>
<line x1="885.20" y1="1254.00" x2="888.20" y2="1254.00" stroke="#777" stroke-width="1.0"/>
<text x="884.00" y="1257.29" font-size="9.20" text-anchor="end" fill="#222">0.5</text>
<line x1="885.20" y1="1233.60" x2="888.20" y2="1233.60" stroke="#777" stroke-width="1.0"/>
<text x="884.00" y="1236.89" font-size="9.20" text-anchor="end" fill="#222">0.6</text>
<line x1="885.20" y1="1213.20" x2="888.20" y2="1213.20" stroke="#777" stroke-width="1.0"/>
<text x="884.00" y="1216.49" font-size="9.20" text-anchor="end" fill="#222">0.7</text>
<line x1="885.20" y1="1434.80" x2="888.20" y2="1434.80" stroke="#777" stroke-width="1.0"/>
<text x="884.00" y="1438.09" font-size="9.20" text-anchor="end" fill="#222">5.0</text>
<line x1="885.20" y1="1462.50" x2="888.20" y2="1462.50" stroke="#777" stroke-width="1.0"/>
<text x="884.00" y="1465.79" font-size="9.20" text-anchor="end" fill="#222">2.5</text>
<line x1="885.20" y1="1490.20" x2="888.20" y2="1490.20" stroke="#777" stroke-width="1.0"/>
<text x="884.00" y="1493.49" font-size="9.20" text-anchor="end" fill="#222">0.0</text>
<line x1="885.20" y1="1517.90" x2="888.20" y2="1517.90" stroke="#777" stroke-width="1.0"/>
<text x="884.00" y="1521.19" font-size="9.20" text-anchor="end" fill="#222">-2.5</text>
<text x="888.20" y="1548.07" font-size="9.70" text-anchor="middle" fill="#222">0</text>
<text x="932.06" y="1548.07" font-size="9.70" text-anchor="middle" fill="#222">5,000</text>
<text x="975.92" y="1548.07" font-size="9.70" text-anchor="middle" fill="#222">10,000</text>
<text x="1019.77" y="1548.07" font-size="9.70" text-anchor="middle" fill="#222">15,000</text>
<text x="1063.63" y="1548.07" font-size="9.70" text-anchor="middle" fill="#222">20,000</text>
<text x="1107.49" y="1548.07" font-size="9.70" text-anchor="middle" fill="#222">25,000</text>
<text x="1151.35" y="1548.07" font-size="9.70" text-anchor="middle" fill="#222">30,000</text>
<text x="1195.20" y="1548.07" font-size="9.70" text-anchor="middle" fill="#222">35,000</text>
<text x="1239.06" y="1548.07" font-size="9.70" text-anchor="middle" fill="#222">40,000</text>
<text x="1068.80" y="1559.81" font-size="9.80" text-anchor="middle" fill="#222">Rank in Ordered Dataset</text>
<text x="860.20" y="1292.52" font-size="11.50" font-weight="bold" text-anchor="middle" fill="#222" transform="rotate(-90 860.20 1288.40)">Enrichment score (ES)</text>
<text x="859.20" y="1471.08" font-size="11.40" font-weight="bold" text-anchor="middle" fill="#222" transform="rotate(-90 859.20 1467.00)">Ranked list metric (Signal2Noise)</text>
<text x="1133.60" y="1240.12" font-size="19.90">NES=1.51</text>
<text x="1133.60" y="1272.86" font-size="20.00">NOM p=0</text>
<rect x="914.4" y="1569.5" width="273.6" height="14.0" fill="#fff" stroke="#111" stroke-width="1.4"/>
<line x1="916.90" y1="1576.50" x2="930.30" y2="1576.50" stroke="#5cb82a" stroke-width="2.2"/>
<text x="932.70" y="1580.01" font-size="9.80" fill="#222">Enrichment profile</text>
<line x1="1015.70" y1="1576.50" x2="1027.90" y2="1576.50" stroke="#222" stroke-width="1.3"/>
<text x="1031.60" y="1580.01" font-size="9.80" fill="#222">Hits</text>
<line x1="1053.50" y1="1574.00" x2="1064.50" y2="1574.00" stroke="#888" stroke-width="1.3"/>
<line x1="1073.00" y1="1576.50" x2="1084.00" y2="1576.50" stroke="#ccc" stroke-width="1.3"/>
<text x="1088.40" y="1580.01" font-size="9.80" fill="#222">Ranking metric scores</text>
<text x="1328.20" y="34.35" font-size="46.00" font-weight="bold">C</text>
<text x="1388.70" y="48.84" font-size="25.26">GMDS-AS1 shRNA2 vs shCtrl_Down_GSVA</text>
<rect x="1495.40" y="75.30" width="389.10" height="22.40" fill="#1b8fa8"/>
<text x="1408.60" y="93.37" font-size="19.18">TGF_BETA_SIGNALING</text>
<rect x="1525.50" y="110.02" width="359.00" height="22.40" fill="#1b8fa8"/>
<text x="1408.60" y="128.09" font-size="19.18">TNFA_SIGNALING_VIA_NFKB</text>
<rect x="1540.70" y="144.74" width="343.80" height="22.40" fill="#1b8fa8"/>
<text x="1408.60" y="162.81" font-size="19.18">ANGIOGENESIS</text>
<rect x="1581.20" y="179.46" width="303.30" height="22.40" fill="#1b8fa8"/>
<text x="1408.60" y="197.53" font-size="19.18">EPITHELIAL_MESENCHYMAL_TRANSITION</text>
<rect x="1582.70" y="214.18" width="301.80" height="22.40" fill="#1b8fa8"/>
<text x="1408.60" y="232.25" font-size="19.18" font-weight="bold" fill="#d7191c" textLength="264.2">IL6_JAK_STAT3_SIGNALING</text>
<rect x="1611.30" y="248.90" width="273.20" height="22.40" fill="#1b8fa8"/>
<text x="1408.60" y="266.97" font-size="19.18">KRAS_SIGNALING_UP</text>
<rect x="1617.80" y="283.62" width="266.70" height="22.40" fill="#1b8fa8"/>
<text x="1408.60" y="301.69" font-size="19.18">INFLAMMATORY_RESPONSE</text>
<rect x="1636.20" y="318.34" width="248.30" height="22.40" fill="#1b8fa8"/>
<text x="1408.60" y="336.41" font-size="19.18">HEDGEHOG_SIGNALING</text>
<rect x="1673.90" y="353.06" width="210.60" height="22.40" fill="#1b8fa8"/>
<text x="1408.60" y="371.13" font-size="19.18">IL2_STAT5_SIGNALING</text>
<rect x="1758.90" y="387.78" width="125.60" height="22.40" fill="#1b8fa8"/>
<text x="1408.60" y="405.85" font-size="19.18">MITOTIC_SPINDLE</text>
<rect x="1760.40" y="422.50" width="124.10" height="22.40" fill="#1b8fa8"/>
<text x="1408.60" y="440.57" font-size="19.18">HYPOXIA</text>
<line x1="1388.70" y1="61.50" x2="1388.70" y2="457.90" stroke="#1f1a17" stroke-width="2.8"/>
<line x1="1884.50" y1="61.50" x2="1884.50" y2="457.90" stroke="#1f1a17" stroke-width="2.8"/>
<line x1="1387.30" y1="456.70" x2="1885.90" y2="456.70" stroke="#1f1a17" stroke-width="2.8"/>
<line x1="1388.70" y1="456.70" x2="1388.70" y2="470.50" stroke="#1f1a17" stroke-width="2.8"/>
<text x="1388.70" y="495.88" font-size="22.00" text-anchor="middle">-0.8</text>
<line x1="1512.65" y1="456.70" x2="1512.65" y2="470.50" stroke="#1f1a17" stroke-width="2.8"/>
<text x="1512.65" y="495.88" font-size="22.00" text-anchor="middle">-0.6</text>
<line x1="1636.60" y1="456.70" x2="1636.60" y2="470.50" stroke="#1f1a17" stroke-width="2.8"/>
<text x="1636.60" y="495.88" font-size="22.00" text-anchor="middle">-0.4</text>
<line x1="1760.55" y1="456.70" x2="1760.55" y2="470.50" stroke="#1f1a17" stroke-width="2.8"/>
<text x="1760.55" y="495.88" font-size="22.00" text-anchor="middle">-0.2</text>
<line x1="1884.50" y1="456.70" x2="1884.50" y2="470.50" stroke="#1f1a17" stroke-width="2.8"/>
<text x="1884.50" y="495.88" font-size="22.00" text-anchor="middle">0.0</text>
<text x="1636.60" y="518.34" font-size="20.50" text-anchor="middle">log2FC</text>
<text x="1402.40" y="570.55" font-size="25.29">GMDS-AS1 shRNA2 vs shCtrl_Up_GSVA</text>
<rect x="1391.20" y="598.80" width="120.50" height="30.80" fill="#ee7b7e"/>
<text x="1410.40" y="621.07" font-size="19.18">DNA_REPAIR</text>
<rect x="1391.20" y="646.03" width="132.80" height="30.80" fill="#ee7b7e"/>
<text x="1410.40" y="668.30" font-size="19.18">FATTY_ACID_METABOLISM</text>
<rect x="1391.20" y="693.26" width="155.30" height="30.80" fill="#ee7b7e"/>
<text x="1410.40" y="715.53" font-size="19.18">CHOLESTEROL_HOMEOSTASIS</text>
<rect x="1391.20" y="740.49" width="185.30" height="30.80" fill="#ee7b7e"/>
<text x="1410.40" y="762.76" font-size="19.18">P53_PATHWAY</text>
<rect x="1391.20" y="787.72" width="186.00" height="30.80" fill="#ee7b7e"/>
<text x="1410.40" y="809.99" font-size="19.18">ADIPOGENESIS</text>
<rect x="1391.20" y="834.95" width="213.20" height="30.80" fill="#ee7b7e"/>
<text x="1410.40" y="857.22" font-size="19.18">HALLMARK_MTORC1_SIGNALING</text>
<rect x="1391.20" y="882.18" width="249.00" height="30.80" fill="#ee7b7e"/>
<text x="1410.40" y="904.45" font-size="19.18">REACTIVE_OXYGEN_SPECIES_PATHWAY</text>
<rect x="1391.20" y="929.41" width="462.90" height="30.80" fill="#ee7b7e"/>
<text x="1410.40" y="951.68" font-size="19.18">OXIDATIVE_PHOSPHORYLATION</text>
<line x1="1391.20" y1="580.70" x2="1391.20" y2="977.60" stroke="#1f1a17" stroke-width="2.8"/>
<line x1="1389.80" y1="976.30" x2="1888.40" y2="976.30" stroke="#1f1a17" stroke-width="2.8"/>
<line x1="1391.20" y1="976.30" x2="1391.20" y2="990.00" stroke="#1f1a17" stroke-width="2.8"/>
<text x="1391.20" y="1014.88" font-size="22.00" text-anchor="middle">0.0</text>
<line x1="1490.36" y1="976.30" x2="1490.36" y2="990.00" stroke="#1f1a17" stroke-width="2.8"/>
<text x="1490.36" y="1014.88" font-size="22.00" text-anchor="middle">0.2</text>
<line x1="1589.52" y1="976.30" x2="1589.52" y2="990.00" stroke="#1f1a17" stroke-width="2.8"/>
<text x="1589.52" y="1014.88" font-size="22.00" text-anchor="middle">0.4</text>
<line x1="1688.68" y1="976.30" x2="1688.68" y2="990.00" stroke="#1f1a17" stroke-width="2.8"/>
<text x="1688.68" y="1014.88" font-size="22.00" text-anchor="middle">0.6</text>
<line x1="1787.84" y1="976.30" x2="1787.84" y2="990.00" stroke="#1f1a17" stroke-width="2.8"/>
<text x="1787.84" y="1014.88" font-size="22.00" text-anchor="middle">0.8</text>
<line x1="1887.00" y1="976.30" x2="1887.00" y2="990.00" stroke="#1f1a17" stroke-width="2.8"/>
<text x="1887.00" y="1014.88" font-size="22.00" text-anchor="middle">1.0</text>
<text x="1638.40" y="1038.34" font-size="20.50" text-anchor="middle">log2FC</text>
<text x="1328.10" y="1109.80" font-size="45.50" font-weight="bold">D</text>
<text x="1632.80" y="1104.42" font-size="28.00" text-anchor="middle">HCT116</text>
<rect x="1436.80" y="1124.40" width="30.80" height="14.60" fill="#000000"/>
<text x="1485.30" y="1140.26" font-size="23.90">shCtrl</text>
<rect x="1436.80" y="1163.70" width="30.80" height="14.60" fill="#0b4a5c"/>
<text x="1485.30" y="1179.56" font-size="23.90">GMDS-AS1 shRNA1</text>
<rect x="1436.80" y="1203.00" width="30.80" height="14.60" fill="#8b1d23"/>
<text x="1485.30" y="1218.86" font-size="23.90">GMDS-AS1 shRNA2</text>
<line x1="1426.70" y1="1250.00" x2="1426.70" y2="1543.80" stroke="#1f1a17" stroke-width="2.8"/>
<line x1="1415.00" y1="1542.40" x2="1890.00" y2="1542.40" stroke="#1f1a17" stroke-width="2.8"/>
<line x1="1415.00" y1="1542.40" x2="1426.70" y2="1542.40" stroke="#1f1a17" stroke-width="2.8"/>
<text x="1410.40" y="1550.06" font-size="21.40" text-anchor="end">0.00</text>
<line x1="1415.00" y1="1459.20" x2="1426.70" y2="1459.20" stroke="#1f1a17" stroke-width="2.8"/>
<text x="1410.40" y="1466.86" font-size="21.40" text-anchor="end">0.01</text>
<line x1="1415.00" y1="1376.00" x2="1426.70" y2="1376.00" stroke="#1f1a17" stroke-width="2.8"/>
<text x="1410.40" y="1383.66" font-size="21.40" text-anchor="end">0.02</text>
<line x1="1415.00" y1="1292.80" x2="1426.70" y2="1292.80" stroke="#1f1a17" stroke-width="2.8"/>
<text x="1410.40" y="1300.46" font-size="21.40" text-anchor="end">0.03</text>
<line x1="1536.30" y1="1542.40" x2="1536.30" y2="1554.00" stroke="#1f1a17" stroke-width="2.8"/>
<text x="1536.30" y="1578.32" font-size="22.40" text-anchor="middle">Control</text>
<line x1="1777.00" y1="1542.40" x2="1777.00" y2="1554.00" stroke="#1f1a17" stroke-width="2.8"/>
<text x="1783.20" y="1578.32" font-size="22.40" text-anchor="middle">IL-6 6h</text>
<text x="1345.20" y="1408.31" font-size="23.20" text-anchor="middle" transform="rotate(-90 1345.20 1400.00)">Relative  STAT3  activity</text>
<line x1="1470.85" y1="1421.90" x2="1470.85" y2="1437.50" stroke="#000000" stroke-width="2.8"/>
<line x1="1459.85" y1="1421.90" x2="1481.85" y2="1421.90" stroke="#000000" stroke-width="2.8"/>
<rect x="1449.10" y="1437.50" width="43.50" height="104.90" fill="#000000"/>
<line x1="1536.75" y1="1447.50" x2="1536.75" y2="1449.80" stroke="#0b4a5c" stroke-width="2.8"/>
<line x1="1525.75" y1="1447.50" x2="1547.75" y2="1447.50" stroke="#0b4a5c" stroke-width="2.8"/>
<rect x="1515.00" y="1449.80" width="43.50" height="92.60" fill="#0b4a5c"/>
<line x1="1602.65" y1="1478.00" x2="1602.65" y2="1484.20" stroke="#8b1d23" stroke-width="2.8"/>
<line x1="1591.65" y1="1478.00" x2="1613.65" y2="1478.00" stroke="#8b1d23" stroke-width="2.8"/>
<rect x="1580.90" y="1484.20" width="43.50" height="58.20" fill="#8b1d23"/>
<line x1="1711.95" y1="1290.50" x2="1711.95" y2="1293.40" stroke="#000000" stroke-width="2.8"/>
<line x1="1700.95" y1="1290.50" x2="1722.95" y2="1290.50" stroke="#000000" stroke-width="2.8"/>
<rect x="1690.20" y="1293.40" width="43.50" height="249.00" fill="#000000"/>
<line x1="1777.75" y1="1373.00" x2="1777.75" y2="1383.90" stroke="#0b4a5c" stroke-width="2.8"/>
<line x1="1766.75" y1="1373.00" x2="1788.75" y2="1373.00" stroke="#0b4a5c" stroke-width="2.8"/>
<rect x="1756.00" y="1383.90" width="43.50" height="158.50" fill="#0b4a5c"/>
<line x1="1843.65" y1="1402.00" x2="1843.65" y2="1410.30" stroke="#8b1d23" stroke-width="2.8"/>
<line x1="1832.65" y1="1402.00" x2="1854.65" y2="1402.00" stroke="#8b1d23" stroke-width="2.8"/>
<rect x="1821.90" y="1410.30" width="43.50" height="132.10" fill="#8b1d23"/>
<line x1="1732.90" y1="1241.00" x2="1858.10" y2="1241.00" stroke="#1f1a17" stroke-width="2.8"/>
<text x="1799.4" y="1244.5" font-size="32" font-weight="bold" text-anchor="middle">**</text>
<line x1="1732.90" y1="1273.50" x2="1797.60" y2="1273.50" stroke="#1f1a17" stroke-width="2.8"/>
<text x="1768.7" y="1277.0" font-size="32" font-weight="bold" text-anchor="middle">**</text>
<text x="11.70" y="1642.90" font-size="41.00" font-weight="bold">E</text>
<rect x="117.00" y="1650.00" width="25.50" height="12.60" fill="#000000"/>
<text x="157.00" y="1663.25" font-size="19.40">shCtrl</text>
<rect x="117.00" y="1678.00" width="25.50" height="12.60" fill="#5e5e5e"/>
<text x="157.00" y="1691.25" font-size="19.40">shCtrl + IL-6</text>
<rect x="284.00" y="1650.00" width="25.50" height="12.60" fill="#8b1d23"/>
<text x="324.00" y="1663.25" font-size="19.40">GMDS-AS1 shRNA1</text>
<rect x="284.00" y="1678.00" width="25.50" height="12.60" fill="#e57a7c"/>
<text x="324.00" y="1691.25" font-size="19.40">GMDS-AS1 shRNA1 + IL-6</text>
<rect x="601.70" y="1646.50" width="25.50" height="12.60" fill="#1a7a8c"/>
<text x="641.00" y="1659.75" font-size="19.40">GMDS-AS1 shRNA2</text>
<rect x="601.70" y="1678.00" width="25.50" height="12.60" fill="#8db4e2"/>
<text x="641.00" y="1691.25" font-size="19.40">GMDS-AS1 shRNA2 + IL-6</text>
<text x="523.00" y="1748.20" font-size="22.90" text-anchor="middle">HCT116</text>
<line x1="109.70" y1="1749.70" x2="109.70" y2="1989.00" stroke="#1f1a17" stroke-width="3.3"/>
<line x1="108.10" y1="1987.40" x2="954.00" y2="1987.40" stroke="#1f1a17" stroke-width="3.3"/>
<line x1="99.50" y1="1987.40" x2="109.70" y2="1987.40" stroke="#1f1a17" stroke-width="3.0"/>
<text x="95.40" y="1993.56" font-size="17.20" text-anchor="end">0.0</text>
<line x1="99.50" y1="1933.70" x2="109.70" y2="1933.70" stroke="#1f1a17" stroke-width="3.0"/>
<text x="95.40" y="1939.86" font-size="17.20" text-anchor="end">0.5</text>
<line x1="99.50" y1="1880.00" x2="109.70" y2="1880.00" stroke="#1f1a17" stroke-width="3.0"/>
<text x="95.40" y="1886.16" font-size="17.20" text-anchor="end">1.0</text>
<line x1="99.50" y1="1826.30" x2="109.70" y2="1826.30" stroke="#1f1a17" stroke-width="3.0"/>
<text x="95.40" y="1832.46" font-size="17.20" text-anchor="end">1.5</text>
<line x1="99.50" y1="1772.60" x2="109.70" y2="1772.60" stroke="#1f1a17" stroke-width="3.0"/>
<text x="95.40" y="1778.76" font-size="17.20" text-anchor="end">2.0</text>
<text x="23.60" y="1882.10" font-size="22.90" text-anchor="middle" transform="rotate(-90 23.60 1873.90)">Relative  expression</text>
<text x="52.60" y="1889.36" font-size="22.50" text-anchor="middle" transform="rotate(-90 52.60 1881.30)">(Fold change)</text>
<line x1="123.95" y1="1873.56" x2="123.95" y2="1880.00" stroke="#000000" stroke-width="2.4"/>
<line x1="120.35" y1="1873.56" x2="127.55" y2="1873.56" stroke="#000000" stroke-width="2.8"/>
<rect x="117.05" y="1880.00" width="13.80" height="107.40" fill="#000000"/>
<line x1="142.25" y1="1846.71" x2="142.25" y2="1852.08" stroke="#5e5e5e" stroke-width="2.4"/>
<line x1="138.65" y1="1846.71" x2="145.85" y2="1846.71" stroke="#5e5e5e" stroke-width="2.8"/>
<rect x="135.35" y="1852.08" width="13.80" height="135.32" fill="#5e5e5e"/>
<line x1="160.55" y1="1924.03" x2="160.55" y2="1925.11" stroke="#8b1d23" stroke-width="2.4"/>
<line x1="156.95" y1="1924.03" x2="164.15" y2="1924.03" stroke="#8b1d23" stroke-width="2.8"/>
<rect x="153.65" y="1925.11" width="13.80" height="62.29" fill="#8b1d23"/>
<line x1="178.85" y1="1926.18" x2="178.85" y2="1933.70" stroke="#e57a7c" stroke-width="2.4"/>
<line x1="175.25" y1="1926.18" x2="182.45" y2="1926.18" stroke="#e57a7c" stroke-width="2.8"/>
<rect x="171.95" y="1933.70" width="13.80" height="53.70" fill="#e57a7c"/>
<line x1="197.15" y1="1917.59" x2="197.15" y2="1921.89" stroke="#1a7a8c" stroke-width="2.4"/>
<line x1="193.55" y1="1917.59" x2="200.75" y2="1917.59" stroke="#1a7a8c" stroke-width="2.8"/>
<rect x="190.25" y="1921.89" width="13.80" height="65.51" fill="#1a7a8c"/>
<line x1="215.45" y1="1922.96" x2="215.45" y2="1925.11" stroke="#8db4e2" stroke-width="2.4"/>
<line x1="211.85" y1="1922.96" x2="219.05" y2="1922.96" stroke="#8db4e2" stroke-width="2.8"/>
<rect x="208.55" y="1925.11" width="13.80" height="62.29" fill="#8db4e2"/>
<line x1="117.15" y1="1838.30" x2="134.15" y2="1838.30" stroke="#1f1a17" stroke-width="2.6"/>
<text x="125.65" y="1841.31" font-size="23.5" text-anchor="middle">*</text>
<text x="160.55" y="1924.71" font-size="23.5" text-anchor="middle">**</text>
<text x="197.15" y="1918.61" font-size="23.5" text-anchor="middle">**</text>
<line x1="169.70" y1="1987.40" x2="169.70" y2="1995.40" stroke="#1f1a17" stroke-width="2.6"/>
<line x1="244.35" y1="1873.56" x2="244.35" y2="1880.00" stroke="#000000" stroke-width="2.4"/>
<line x1="240.75" y1="1873.56" x2="247.95" y2="1873.56" stroke="#000000" stroke-width="2.8"/>
<rect x="237.45" y="1880.00" width="13.80" height="107.40" fill="#000000"/>
<line x1="262.65" y1="1809.12" x2="262.65" y2="1818.78" stroke="#5e5e5e" stroke-width="2.4"/>
<line x1="259.05" y1="1809.12" x2="266.25" y2="1809.12" stroke="#5e5e5e" stroke-width="2.8"/>
<rect x="255.75" y="1818.78" width="13.80" height="168.62" fill="#5e5e5e"/>
<line x1="280.95" y1="1927.26" x2="280.95" y2="1929.40" stroke="#8b1d23" stroke-width="2.4"/>
<line x1="277.35" y1="1927.26" x2="284.55" y2="1927.26" stroke="#8b1d23" stroke-width="2.8"/>
<rect x="274.05" y="1929.40" width="13.80" height="58.00" fill="#8b1d23"/>
<line x1="299.25" y1="1929.40" x2="299.25" y2="1933.70" stroke="#e57a7c" stroke-width="2.4"/>
<line x1="295.65" y1="1929.40" x2="302.85" y2="1929.40" stroke="#e57a7c" stroke-width="2.8"/>
<rect x="292.35" y="1933.70" width="13.80" height="53.70" fill="#e57a7c"/>
<line x1="317.55" y1="1942.29" x2="317.55" y2="1947.66" stroke="#1a7a8c" stroke-width="2.4"/>
<line x1="313.95" y1="1942.29" x2="321.15" y2="1942.29" stroke="#1a7a8c" stroke-width="2.8"/>
<rect x="310.65" y="1947.66" width="13.80" height="39.74" fill="#1a7a8c"/>
<line x1="335.85" y1="1947.66" x2="335.85" y2="1949.81" stroke="#8db4e2" stroke-width="2.4"/>
<line x1="332.25" y1="1947.66" x2="339.45" y2="1947.66" stroke="#8db4e2" stroke-width="2.8"/>
<rect x="328.95" y="1949.81" width="13.80" height="37.59" fill="#8db4e2"/>
<line x1="237.55" y1="1797.00" x2="254.55" y2="1797.00" stroke="#1f1a17" stroke-width="2.6"/>
<text x="246.05" y="1800.01" font-size="23.5" text-anchor="middle">*</text>
<text x="280.95" y="1928.71" font-size="23.5" text-anchor="middle">**</text>
<text x="317.55" y="1947.11" font-size="23.5" text-anchor="middle">**</text>
<line x1="290.10" y1="1987.40" x2="290.10" y2="1995.40" stroke="#1f1a17" stroke-width="2.6"/>
<line x1="364.75" y1="1864.96" x2="364.75" y2="1880.00" stroke="#000000" stroke-width="2.4"/>
<line x1="361.15" y1="1864.96" x2="368.35" y2="1864.96" stroke="#000000" stroke-width="2.8"/>
<rect x="357.85" y="1880.00" width="13.80" height="107.40" fill="#000000"/>
<line x1="383.05" y1="1765.08" x2="383.05" y2="1777.97" stroke="#5e5e5e" stroke-width="2.4"/>
<line x1="379.45" y1="1765.08" x2="386.65" y2="1765.08" stroke="#5e5e5e" stroke-width="2.8"/>
<rect x="376.15" y="1777.97" width="13.80" height="209.43" fill="#5e5e5e"/>
<line x1="401.35" y1="1924.03" x2="401.35" y2="1929.40" stroke="#8b1d23" stroke-width="2.4"/>
<line x1="397.75" y1="1924.03" x2="404.95" y2="1924.03" stroke="#8b1d23" stroke-width="2.8"/>
<rect x="394.45" y="1929.40" width="13.80" height="58.00" fill="#8b1d23"/>
<line x1="419.65" y1="1934.77" x2="419.65" y2="1936.92" stroke="#e57a7c" stroke-width="2.4"/>
<line x1="416.05" y1="1934.77" x2="423.25" y2="1934.77" stroke="#e57a7c" stroke-width="2.8"/>
<rect x="412.75" y="1936.92" width="13.80" height="50.48" fill="#e57a7c"/>
<line x1="437.95" y1="1931.55" x2="437.95" y2="1935.85" stroke="#1a7a8c" stroke-width="2.4"/>
<line x1="434.35" y1="1931.55" x2="441.55" y2="1931.55" stroke="#1a7a8c" stroke-width="2.8"/>
<rect x="431.05" y="1935.85" width="13.80" height="51.55" fill="#1a7a8c"/>
<line x1="456.25" y1="1920.81" x2="456.25" y2="1921.89" stroke="#8db4e2" stroke-width="2.4"/>
<line x1="452.65" y1="1920.81" x2="459.85" y2="1920.81" stroke="#8db4e2" stroke-width="2.8"/>
<rect x="449.35" y="1921.89" width="13.80" height="65.51" fill="#8db4e2"/>
<line x1="357.95" y1="1757.00" x2="374.95" y2="1757.00" stroke="#1f1a17" stroke-width="2.6"/>
<text x="366.45" y="1760.01" font-size="23.5" text-anchor="middle">*</text>
<text x="401.35" y="1924.31" font-size="23.5" text-anchor="middle">*</text>
<text x="437.95" y="1930.01" font-size="23.5" text-anchor="middle">*</text>
<line x1="410.50" y1="1987.40" x2="410.50" y2="1995.40" stroke="#1f1a17" stroke-width="2.6"/>
<line x1="485.15" y1="1877.85" x2="485.15" y2="1880.00" stroke="#000000" stroke-width="2.4"/>
<line x1="481.55" y1="1877.85" x2="488.75" y2="1877.85" stroke="#000000" stroke-width="2.8"/>
<rect x="478.25" y="1880.00" width="13.80" height="107.40" fill="#000000"/>
<line x1="503.45" y1="1837.04" x2="503.45" y2="1847.78" stroke="#5e5e5e" stroke-width="2.4"/>
<line x1="499.85" y1="1837.04" x2="507.05" y2="1837.04" stroke="#5e5e5e" stroke-width="2.8"/>
<rect x="496.55" y="1847.78" width="13.80" height="139.62" fill="#5e5e5e"/>
<line x1="521.75" y1="1904.70" x2="521.75" y2="1905.78" stroke="#8b1d23" stroke-width="2.4"/>
<line x1="518.15" y1="1904.70" x2="525.35" y2="1904.70" stroke="#8b1d23" stroke-width="2.8"/>
<rect x="514.85" y="1905.78" width="13.80" height="81.62" fill="#8b1d23"/>
<line x1="540.05" y1="1907.92" x2="540.05" y2="1910.07" stroke="#e57a7c" stroke-width="2.4"/>
<line x1="536.45" y1="1907.92" x2="543.65" y2="1907.92" stroke="#e57a7c" stroke-width="2.8"/>
<rect x="533.15" y="1910.07" width="13.80" height="77.33" fill="#e57a7c"/>
<line x1="558.35" y1="1959.48" x2="558.35" y2="1961.62" stroke="#1a7a8c" stroke-width="2.4"/>
<line x1="554.75" y1="1959.48" x2="561.95" y2="1959.48" stroke="#1a7a8c" stroke-width="2.8"/>
<rect x="551.45" y="1961.62" width="13.80" height="25.78" fill="#1a7a8c"/>
<line x1="576.65" y1="1959.48" x2="576.65" y2="1960.55" stroke="#8db4e2" stroke-width="2.4"/>
<line x1="573.05" y1="1959.48" x2="580.25" y2="1959.48" stroke="#8db4e2" stroke-width="2.8"/>
<rect x="569.75" y="1960.55" width="13.80" height="26.85" fill="#8db4e2"/>
<line x1="478.35" y1="1828.60" x2="495.35" y2="1828.60" stroke="#1f1a17" stroke-width="2.6"/>
<text x="486.85" y="1831.61" font-size="23.5" text-anchor="middle">*</text>
<text x="521.75" y="1907.11" font-size="23.5" text-anchor="middle">***</text>
<text x="558.35" y="1961.41" font-size="23.5" text-anchor="middle">***</text>
<line x1="530.90" y1="1987.40" x2="530.90" y2="1995.40" stroke="#1f1a17" stroke-width="2.6"/>
<line x1="605.55" y1="1875.70" x2="605.55" y2="1880.00" stroke="#000000" stroke-width="2.4"/>
<line x1="601.95" y1="1875.70" x2="609.15" y2="1875.70" stroke="#000000" stroke-width="2.8"/>
<rect x="598.65" y="1880.00" width="13.80" height="107.40" fill="#000000"/>
<line x1="623.85" y1="1830.60" x2="623.85" y2="1838.11" stroke="#5e5e5e" stroke-width="2.4"/>
<line x1="620.25" y1="1830.60" x2="627.45" y2="1830.60" stroke="#5e5e5e" stroke-width="2.8"/>
<rect x="616.95" y="1838.11" width="13.80" height="149.29" fill="#5e5e5e"/>
<line x1="642.15" y1="1916.52" x2="642.15" y2="1922.96" stroke="#8b1d23" stroke-width="2.4"/>
<line x1="638.55" y1="1916.52" x2="645.75" y2="1916.52" stroke="#8b1d23" stroke-width="2.8"/>
<rect x="635.25" y="1922.96" width="13.80" height="64.44" fill="#8b1d23"/>
<line x1="660.45" y1="1927.26" x2="660.45" y2="1930.48" stroke="#e57a7c" stroke-width="2.4"/>
<line x1="656.85" y1="1927.26" x2="664.05" y2="1927.26" stroke="#e57a7c" stroke-width="2.8"/>
<rect x="653.55" y="1930.48" width="13.80" height="56.92" fill="#e57a7c"/>
<line x1="678.75" y1="1942.29" x2="678.75" y2="1944.44" stroke="#1a7a8c" stroke-width="2.4"/>
<line x1="675.15" y1="1942.29" x2="682.35" y2="1942.29" stroke="#1a7a8c" stroke-width="2.8"/>
<rect x="671.85" y="1944.44" width="13.80" height="42.96" fill="#1a7a8c"/>
<line x1="697.05" y1="1938.00" x2="697.05" y2="1939.07" stroke="#8db4e2" stroke-width="2.4"/>
<line x1="693.45" y1="1938.00" x2="700.65" y2="1938.00" stroke="#8db4e2" stroke-width="2.8"/>
<rect x="690.15" y="1939.07" width="13.80" height="48.33" fill="#8db4e2"/>
<line x1="598.75" y1="1826.90" x2="615.75" y2="1826.90" stroke="#1f1a17" stroke-width="2.6"/>
<text x="607.25" y="1829.91" font-size="23.5" text-anchor="middle">*</text>
<text x="642.15" y="1920.31" font-size="23.5" text-anchor="middle">**</text>
<text x="678.75" y="1940.31" font-size="23.5" text-anchor="middle">***</text>
<line x1="651.30" y1="1987.40" x2="651.30" y2="1995.40" stroke="#1f1a17" stroke-width="2.6"/>
<line x1="725.95" y1="1870.33" x2="725.95" y2="1880.00" stroke="#000000" stroke-width="2.4"/>
<line x1="722.35" y1="1870.33" x2="729.55" y2="1870.33" stroke="#000000" stroke-width="2.8"/>
<rect x="719.05" y="1880.00" width="13.80" height="107.40" fill="#000000"/>
<line x1="744.25" y1="1833.82" x2="744.25" y2="1837.04" stroke="#5e5e5e" stroke-width="2.4"/>
<line x1="740.65" y1="1833.82" x2="747.85" y2="1833.82" stroke="#5e5e5e" stroke-width="2.8"/>
<rect x="737.35" y="1837.04" width="13.80" height="150.36" fill="#5e5e5e"/>
<line x1="762.55" y1="1922.96" x2="762.55" y2="1924.03" stroke="#8b1d23" stroke-width="2.4"/>
<line x1="758.95" y1="1922.96" x2="766.15" y2="1922.96" stroke="#8b1d23" stroke-width="2.8"/>
<rect x="755.65" y="1924.03" width="13.80" height="63.37" fill="#8b1d23"/>
<line x1="780.85" y1="1927.26" x2="780.85" y2="1928.33" stroke="#e57a7c" stroke-width="2.4"/>
<line x1="777.25" y1="1927.26" x2="784.45" y2="1927.26" stroke="#e57a7c" stroke-width="2.8"/>
<rect x="773.95" y="1928.33" width="13.80" height="59.07" fill="#e57a7c"/>
<line x1="799.15" y1="1939.07" x2="799.15" y2="1940.14" stroke="#1a7a8c" stroke-width="2.4"/>
<line x1="795.55" y1="1939.07" x2="802.75" y2="1939.07" stroke="#1a7a8c" stroke-width="2.8"/>
<rect x="792.25" y="1940.14" width="13.80" height="47.26" fill="#1a7a8c"/>
<line x1="817.45" y1="1936.92" x2="817.45" y2="1942.29" stroke="#8db4e2" stroke-width="2.4"/>
<line x1="813.85" y1="1936.92" x2="821.05" y2="1936.92" stroke="#8db4e2" stroke-width="2.8"/>
<rect x="810.55" y="1942.29" width="13.80" height="45.11" fill="#8db4e2"/>
<line x1="719.15" y1="1826.90" x2="736.15" y2="1826.90" stroke="#1f1a17" stroke-width="2.6"/>
<text x="727.65" y="1829.91" font-size="23.5" text-anchor="middle">*</text>
<text x="762.55" y="1922.01" font-size="23.5" text-anchor="middle">*</text>
<text x="799.15" y="1941.41" font-size="23.5" text-anchor="middle">**</text>
<line x1="771.70" y1="1987.40" x2="771.70" y2="1995.40" stroke="#1f1a17" stroke-width="2.6"/>
<line x1="846.35" y1="1873.56" x2="846.35" y2="1880.00" stroke="#000000" stroke-width="2.4"/>
<line x1="842.75" y1="1873.56" x2="849.95" y2="1873.56" stroke="#000000" stroke-width="2.8"/>
<rect x="839.45" y="1880.00" width="13.80" height="107.40" fill="#000000"/>
<line x1="864.65" y1="1840.26" x2="864.65" y2="1851.00" stroke="#5e5e5e" stroke-width="2.4"/>
<line x1="861.05" y1="1840.26" x2="868.25" y2="1840.26" stroke="#5e5e5e" stroke-width="2.8"/>
<rect x="857.75" y="1851.00" width="13.80" height="136.40" fill="#5e5e5e"/>
<line x1="882.95" y1="1912.22" x2="882.95" y2="1913.29" stroke="#8b1d23" stroke-width="2.4"/>
<line x1="879.35" y1="1912.22" x2="886.55" y2="1912.22" stroke="#8b1d23" stroke-width="2.8"/>
<rect x="876.05" y="1913.29" width="13.80" height="74.11" fill="#8b1d23"/>
<line x1="901.25" y1="1911.15" x2="901.25" y2="1913.29" stroke="#e57a7c" stroke-width="2.4"/>
<line x1="897.65" y1="1911.15" x2="904.85" y2="1911.15" stroke="#e57a7c" stroke-width="2.8"/>
<rect x="894.35" y="1913.29" width="13.80" height="74.11" fill="#e57a7c"/>
<line x1="919.55" y1="1932.63" x2="919.55" y2="1942.29" stroke="#1a7a8c" stroke-width="2.4"/>
<line x1="915.95" y1="1932.63" x2="923.15" y2="1932.63" stroke="#1a7a8c" stroke-width="2.8"/>
<rect x="912.65" y="1942.29" width="13.80" height="45.11" fill="#1a7a8c"/>
<line x1="937.85" y1="1939.07" x2="937.85" y2="1941.22" stroke="#8db4e2" stroke-width="2.4"/>
<line x1="934.25" y1="1939.07" x2="941.45" y2="1939.07" stroke="#8db4e2" stroke-width="2.8"/>
<rect x="930.95" y="1941.22" width="13.80" height="46.18" fill="#8db4e2"/>
<line x1="839.55" y1="1831.40" x2="856.55" y2="1831.40" stroke="#1f1a17" stroke-width="2.6"/>
<text x="848.05" y="1834.41" font-size="23.5" text-anchor="middle">*</text>
<text x="882.95" y="1911.71" font-size="23.5" text-anchor="middle">*</text>
<text x="919.55" y="1935.71" font-size="23.5" text-anchor="middle">**</text>
<line x1="892.10" y1="1987.40" x2="892.10" y2="1995.40" stroke="#1f1a17" stroke-width="2.6"/>
<text x="169.70" y="2018.08" font-size="15.30" text-anchor="middle" font-style="italic">c-Myc</text>
<text x="290.00" y="2018.08" font-size="15.30" text-anchor="middle" font-style="italic">CCND1</text>
<text x="410.30" y="2018.08" font-size="15.30" text-anchor="middle" font-style="italic">BCL2</text>
<text x="530.60" y="2018.08" font-size="15.30" text-anchor="middle" font-style="italic">BCL2L1</text>
<text x="650.90" y="2018.08" font-size="15.30" text-anchor="middle" font-style="italic">BIRC5</text>
<text x="771.20" y="2018.08" font-size="15.30" text-anchor="middle" font-style="italic">MMP9</text>
<text x="891.50" y="2018.08" font-size="15.30" text-anchor="middle" font-style="italic">MCL1</text>
<rect x="1098.30" y="1641.20" width="25.50" height="12.60" fill="#000000"/>
<text x="1138.30" y="1654.45" font-size="19.40">shCtrl</text>
<rect x="1098.30" y="1668.70" width="25.50" height="12.60" fill="#5e5e5e"/>
<text x="1138.30" y="1681.95" font-size="19.40">shCtrl + IL-6</text>
<rect x="1265.00" y="1641.20" width="25.50" height="12.60" fill="#8b1d23"/>
<text x="1305.00" y="1654.45" font-size="19.40">GMDS-AS1 shRNA1</text>
<rect x="1265.00" y="1668.70" width="25.50" height="12.60" fill="#e57a7c"/>
<text x="1305.00" y="1681.95" font-size="19.40">GMDS-AS1 shRNA1 + IL-6</text>
<rect x="1583.40" y="1638.00" width="25.50" height="12.60" fill="#1a7a8c"/>
<text x="1622.30" y="1651.25" font-size="19.40">GMDS-AS1 shRNA2</text>
<rect x="1583.40" y="1668.70" width="25.50" height="12.60" fill="#8db4e2"/>
<text x="1622.30" y="1681.95" font-size="19.40">GMDS-AS1 shRNA2 + IL-6</text>
<text x="1466.90" y="1724.91" font-size="22.10" text-anchor="middle">SW620</text>
<line x1="1061.10" y1="1717.10" x2="1061.10" y2="1761.70" stroke="#1f1a17" stroke-width="3.3"/>
<line x1="1057.10" y1="1761.70" x2="1067.10" y2="1761.70" stroke="#1f1a17" stroke-width="3.0"/>
<line x1="1061.10" y1="1778.90" x2="1061.10" y2="1985.00" stroke="#1f1a17" stroke-width="3.3"/>
<line x1="1057.10" y1="1778.90" x2="1067.10" y2="1778.90" stroke="#1f1a17" stroke-width="3.0"/>
<line x1="1059.50" y1="1983.40" x2="1908.00" y2="1983.40" stroke="#1f1a17" stroke-width="3.3"/>
<line x1="1050.50" y1="1717.10" x2="1061.10" y2="1717.10" stroke="#1f1a17" stroke-width="3.0"/>
<text x="1045.20" y="1723.26" font-size="17.20" text-anchor="end">3</text>
<line x1="1050.50" y1="1750.30" x2="1061.10" y2="1750.30" stroke="#1f1a17" stroke-width="3.0"/>
<text x="1045.20" y="1756.46" font-size="17.20" text-anchor="end">2</text>
<line x1="1050.50" y1="1802.90" x2="1061.10" y2="1802.90" stroke="#1f1a17" stroke-width="3.0"/>
<text x="1045.20" y="1809.06" font-size="17.20" text-anchor="end">1.5</text>
<line x1="1050.50" y1="1862.90" x2="1061.10" y2="1862.90" stroke="#1f1a17" stroke-width="3.0"/>
<text x="1045.20" y="1869.06" font-size="17.20" text-anchor="end">1.0</text>
<line x1="1050.50" y1="1923.40" x2="1061.10" y2="1923.40" stroke="#1f1a17" stroke-width="3.0"/>
<text x="1045.20" y="1929.56" font-size="17.20" text-anchor="end">0.5</text>
<line x1="1050.50" y1="1983.40" x2="1061.10" y2="1983.40" stroke="#1f1a17" stroke-width="3.0"/>
<text x="1045.20" y="1989.56" font-size="17.20" text-anchor="end">0.0</text>
<text x="972.50" y="1862.00" font-size="22.90" text-anchor="middle" transform="rotate(-90 972.50 1853.80)">Relative  expression</text>
<text x="1005.80" y="1871.36" font-size="22.50" text-anchor="middle" transform="rotate(-90 1005.80 1863.30)">(Fold change)</text>
<line x1="1074.85" y1="1859.39" x2="1074.85" y2="1863.00" stroke="#000000" stroke-width="2.4"/>
<line x1="1071.25" y1="1859.39" x2="1078.45" y2="1859.39" stroke="#000000" stroke-width="2.8"/>
<rect x="1067.95" y="1863.00" width="13.80" height="120.40" fill="#000000"/>
<line x1="1093.15" y1="1805.21" x2="1093.15" y2="1807.62" stroke="#5e5e5e" stroke-width="2.4"/>
<line x1="1089.55" y1="1805.21" x2="1096.75" y2="1805.21" stroke="#5e5e5e" stroke-width="2.8"/>
<rect x="1086.25" y="1807.62" width="13.80" height="175.78" fill="#5e5e5e"/>
<line x1="1111.45" y1="1889.49" x2="1111.45" y2="1893.10" stroke="#8b1d23" stroke-width="2.4"/>
<line x1="1107.85" y1="1889.49" x2="1115.05" y2="1889.49" stroke="#8b1d23" stroke-width="2.8"/>
<rect x="1104.55" y="1893.10" width="13.80" height="90.30" fill="#8b1d23"/>
<line x1="1129.75" y1="1899.12" x2="1129.75" y2="1906.34" stroke="#e57a7c" stroke-width="2.4"/>
<line x1="1126.15" y1="1899.12" x2="1133.35" y2="1899.12" stroke="#e57a7c" stroke-width="2.8"/>
<rect x="1122.85" y="1906.34" width="13.80" height="77.06" fill="#e57a7c"/>
<line x1="1148.05" y1="1899.12" x2="1148.05" y2="1901.53" stroke="#1a7a8c" stroke-width="2.4"/>
<line x1="1144.45" y1="1899.12" x2="1151.65" y2="1899.12" stroke="#1a7a8c" stroke-width="2.8"/>
<rect x="1141.15" y="1901.53" width="13.80" height="81.87" fill="#1a7a8c"/>
<line x1="1166.35" y1="1905.14" x2="1166.35" y2="1906.34" stroke="#8db4e2" stroke-width="2.4"/>
<line x1="1162.75" y1="1905.14" x2="1169.95" y2="1905.14" stroke="#8db4e2" stroke-width="2.8"/>
<rect x="1159.45" y="1906.34" width="13.80" height="77.06" fill="#8db4e2"/>
<line x1="1074.85" y1="1793.10" x2="1091.85" y2="1793.10" stroke="#1f1a17" stroke-width="2.6"/>
<text x="1083.35" y="1796.11" font-size="23.5" text-anchor="middle">***</text>
<text x="1111.45" y="1890.01" font-size="23.5" text-anchor="middle">**</text>
<text x="1148.05" y="1902.01" font-size="23.5" text-anchor="middle">***</text>
<line x1="1120.60" y1="1983.40" x2="1120.60" y2="1991.40" stroke="#1f1a17" stroke-width="2.6"/>
<line x1="1195.25" y1="1861.80" x2="1195.25" y2="1863.00" stroke="#000000" stroke-width="2.4"/>
<line x1="1191.65" y1="1861.80" x2="1198.85" y2="1861.80" stroke="#000000" stroke-width="2.8"/>
<rect x="1188.35" y="1863.00" width="13.80" height="120.40" fill="#000000"/>
<line x1="1213.55" y1="1834.10" x2="1213.55" y2="1836.51" stroke="#5e5e5e" stroke-width="2.4"/>
<line x1="1209.95" y1="1834.10" x2="1217.15" y2="1834.10" stroke="#5e5e5e" stroke-width="2.8"/>
<rect x="1206.65" y="1836.51" width="13.80" height="146.89" fill="#5e5e5e"/>
<line x1="1231.85" y1="1883.47" x2="1231.85" y2="1885.88" stroke="#8b1d23" stroke-width="2.4"/>
<line x1="1228.25" y1="1883.47" x2="1235.45" y2="1883.47" stroke="#8b1d23" stroke-width="2.8"/>
<rect x="1224.95" y="1885.88" width="13.80" height="97.52" fill="#8b1d23"/>
<line x1="1250.15" y1="1884.67" x2="1250.15" y2="1889.49" stroke="#e57a7c" stroke-width="2.4"/>
<line x1="1246.55" y1="1884.67" x2="1253.75" y2="1884.67" stroke="#e57a7c" stroke-width="2.8"/>
<rect x="1243.25" y="1889.49" width="13.80" height="93.91" fill="#e57a7c"/>
<line x1="1268.45" y1="1890.69" x2="1268.45" y2="1894.30" stroke="#1a7a8c" stroke-width="2.4"/>
<line x1="1264.85" y1="1890.69" x2="1272.05" y2="1890.69" stroke="#1a7a8c" stroke-width="2.8"/>
<rect x="1261.55" y="1894.30" width="13.80" height="89.10" fill="#1a7a8c"/>
<rect x="1279.85" y="1885.88" width="13.80" height="97.52" fill="#8db4e2"/>
<line x1="1195.25" y1="1825.70" x2="1212.25" y2="1825.70" stroke="#1f1a17" stroke-width="2.6"/>
<text x="1203.75" y="1828.71" font-size="23.5" text-anchor="middle">***</text>
<text x="1231.85" y="1887.11" font-size="23.5" text-anchor="middle">**</text>
<text x="1268.45" y="1891.71" font-size="23.5" text-anchor="middle">***</text>
<line x1="1241.00" y1="1983.40" x2="1241.00" y2="1991.40" stroke="#1f1a17" stroke-width="2.6"/>
<line x1="1315.65" y1="1861.80" x2="1315.65" y2="1863.00" stroke="#000000" stroke-width="2.4"/>
<line x1="1312.05" y1="1861.80" x2="1319.25" y2="1861.80" stroke="#000000" stroke-width="2.8"/>
<rect x="1308.75" y="1863.00" width="13.80" height="120.40" fill="#000000"/>
<line x1="1333.95" y1="1825.68" x2="1333.95" y2="1826.88" stroke="#5e5e5e" stroke-width="2.4"/>
<line x1="1330.35" y1="1825.68" x2="1337.55" y2="1825.68" stroke="#5e5e5e" stroke-width="2.8"/>
<rect x="1327.05" y="1826.88" width="13.80" height="156.52" fill="#5e5e5e"/>
<line x1="1352.25" y1="1888.28" x2="1352.25" y2="1891.90" stroke="#8b1d23" stroke-width="2.4"/>
<line x1="1348.65" y1="1888.28" x2="1355.85" y2="1888.28" stroke="#8b1d23" stroke-width="2.8"/>
<rect x="1345.35" y="1891.90" width="13.80" height="91.50" fill="#8b1d23"/>
<rect x="1363.65" y="1896.71" width="13.80" height="86.69" fill="#e57a7c"/>
<line x1="1388.85" y1="1948.48" x2="1388.85" y2="1949.69" stroke="#1a7a8c" stroke-width="2.4"/>
<line x1="1385.25" y1="1948.48" x2="1392.45" y2="1948.48" stroke="#1a7a8c" stroke-width="2.8"/>
<rect x="1381.95" y="1949.69" width="13.80" height="33.71" fill="#1a7a8c"/>
<line x1="1407.15" y1="1941.26" x2="1407.15" y2="1946.08" stroke="#8db4e2" stroke-width="2.4"/>
<line x1="1403.55" y1="1941.26" x2="1410.75" y2="1941.26" stroke="#8db4e2" stroke-width="2.8"/>
<rect x="1400.25" y="1946.08" width="13.80" height="37.32" fill="#8db4e2"/>
<line x1="1315.65" y1="1817.00" x2="1332.65" y2="1817.00" stroke="#1f1a17" stroke-width="2.6"/>
<text x="1324.15" y="1820.01" font-size="23.5" text-anchor="middle">***</text>
<text x="1352.25" y="1891.71" font-size="23.5" text-anchor="middle">**</text>
<text x="1388.85" y="1950.61" font-size="23.5" text-anchor="middle">***</text>
<line x1="1361.40" y1="1983.40" x2="1361.40" y2="1991.40" stroke="#1f1a17" stroke-width="2.6"/>
<line x1="1436.05" y1="1859.39" x2="1436.05" y2="1863.00" stroke="#000000" stroke-width="2.4"/>
<line x1="1432.45" y1="1859.39" x2="1439.65" y2="1859.39" stroke="#000000" stroke-width="2.8"/>
<rect x="1429.15" y="1863.00" width="13.80" height="120.40" fill="#000000"/>
<line x1="1454.35" y1="1808.82" x2="1454.35" y2="1819.66" stroke="#5e5e5e" stroke-width="2.4"/>
<line x1="1450.75" y1="1808.82" x2="1457.95" y2="1808.82" stroke="#5e5e5e" stroke-width="2.8"/>
<rect x="1447.45" y="1819.66" width="13.80" height="163.74" fill="#5e5e5e"/>
<line x1="1472.65" y1="1907.55" x2="1472.65" y2="1913.57" stroke="#8b1d23" stroke-width="2.4"/>
<line x1="1469.05" y1="1907.55" x2="1476.25" y2="1907.55" stroke="#8b1d23" stroke-width="2.8"/>
<rect x="1465.75" y="1913.57" width="13.80" height="69.83" fill="#8b1d23"/>
<rect x="1484.05" y="1905.14" width="13.80" height="78.26" fill="#e57a7c"/>
<line x1="1509.25" y1="1885.88" x2="1509.25" y2="1889.49" stroke="#1a7a8c" stroke-width="2.4"/>
<line x1="1505.65" y1="1885.88" x2="1512.85" y2="1885.88" stroke="#1a7a8c" stroke-width="2.8"/>
<rect x="1502.35" y="1889.49" width="13.80" height="93.91" fill="#1a7a8c"/>
<line x1="1527.55" y1="1875.04" x2="1527.55" y2="1878.65" stroke="#8db4e2" stroke-width="2.4"/>
<line x1="1523.95" y1="1875.04" x2="1531.15" y2="1875.04" stroke="#8db4e2" stroke-width="2.8"/>
<rect x="1520.65" y="1878.65" width="13.80" height="104.75" fill="#8db4e2"/>
<line x1="1436.05" y1="1798.90" x2="1453.05" y2="1798.90" stroke="#1f1a17" stroke-width="2.6"/>
<text x="1444.55" y="1801.91" font-size="23.5" text-anchor="middle">*</text>
<text x="1472.65" y="1911.71" font-size="23.5" text-anchor="middle">**</text>
<text x="1509.25" y="1890.01" font-size="23.5" text-anchor="middle">**</text>
<line x1="1481.80" y1="1983.40" x2="1481.80" y2="1991.40" stroke="#1f1a17" stroke-width="2.6"/>
<line x1="1556.45" y1="1860.59" x2="1556.45" y2="1863.00" stroke="#000000" stroke-width="2.4"/>
<line x1="1552.85" y1="1860.59" x2="1560.05" y2="1860.59" stroke="#000000" stroke-width="2.8"/>
<rect x="1549.55" y="1863.00" width="13.80" height="120.40" fill="#000000"/>
<line x1="1574.75" y1="1841.33" x2="1574.75" y2="1842.53" stroke="#5e5e5e" stroke-width="2.4"/>
<line x1="1571.15" y1="1841.33" x2="1578.35" y2="1841.33" stroke="#5e5e5e" stroke-width="2.8"/>
<rect x="1567.85" y="1842.53" width="13.80" height="140.87" fill="#5e5e5e"/>
<line x1="1593.05" y1="1883.47" x2="1593.05" y2="1885.88" stroke="#8b1d23" stroke-width="2.4"/>
<line x1="1589.45" y1="1883.47" x2="1596.65" y2="1883.47" stroke="#8b1d23" stroke-width="2.8"/>
<rect x="1586.15" y="1885.88" width="13.80" height="97.52" fill="#8b1d23"/>
<line x1="1611.35" y1="1887.08" x2="1611.35" y2="1889.49" stroke="#e57a7c" stroke-width="2.4"/>
<line x1="1607.75" y1="1887.08" x2="1614.95" y2="1887.08" stroke="#e57a7c" stroke-width="2.8"/>
<rect x="1604.45" y="1889.49" width="13.80" height="93.91" fill="#e57a7c"/>
<line x1="1629.65" y1="1893.10" x2="1629.65" y2="1895.51" stroke="#1a7a8c" stroke-width="2.4"/>
<line x1="1626.05" y1="1893.10" x2="1633.25" y2="1893.10" stroke="#1a7a8c" stroke-width="2.8"/>
<rect x="1622.75" y="1895.51" width="13.80" height="87.89" fill="#1a7a8c"/>
<line x1="1647.95" y1="1895.51" x2="1647.95" y2="1899.12" stroke="#8db4e2" stroke-width="2.4"/>
<line x1="1644.35" y1="1895.51" x2="1651.55" y2="1895.51" stroke="#8db4e2" stroke-width="2.8"/>
<rect x="1641.05" y="1899.12" width="13.80" height="84.28" fill="#8db4e2"/>
<line x1="1556.45" y1="1831.40" x2="1573.45" y2="1831.40" stroke="#1f1a17" stroke-width="2.6"/>
<text x="1564.95" y="1834.41" font-size="23.5" text-anchor="middle">***</text>
<text x="1593.05" y="1887.11" font-size="23.5" text-anchor="middle">**</text>
<text x="1629.65" y="1894.61" font-size="23.5" text-anchor="middle">***</text>
<line x1="1602.20" y1="1983.40" x2="1602.20" y2="1991.40" stroke="#1f1a17" stroke-width="2.6"/>
<line x1="1676.85" y1="1859.39" x2="1676.85" y2="1863.00" stroke="#000000" stroke-width="2.4"/>
<line x1="1673.25" y1="1859.39" x2="1680.45" y2="1859.39" stroke="#000000" stroke-width="2.8"/>
<rect x="1669.95" y="1863.00" width="13.80" height="120.40" fill="#000000"/>
<line x1="1695.15" y1="1732.04" x2="1695.15" y2="1739.68" stroke="#5e5e5e" stroke-width="2.4"/>
<line x1="1691.55" y1="1732.04" x2="1698.75" y2="1732.04" stroke="#5e5e5e" stroke-width="2.8"/>
<rect x="1688.25" y="1739.68" width="13.80" height="243.72" fill="#5e5e5e"/>
<line x1="1713.45" y1="1913.57" x2="1713.45" y2="1915.98" stroke="#8b1d23" stroke-width="2.4"/>
<line x1="1709.85" y1="1913.57" x2="1717.05" y2="1913.57" stroke="#8b1d23" stroke-width="2.8"/>
<rect x="1706.55" y="1915.98" width="13.80" height="67.42" fill="#8b1d23"/>
<line x1="1731.75" y1="1894.30" x2="1731.75" y2="1896.71" stroke="#e57a7c" stroke-width="2.4"/>
<line x1="1728.15" y1="1894.30" x2="1735.35" y2="1894.30" stroke="#e57a7c" stroke-width="2.8"/>
<rect x="1724.85" y="1896.71" width="13.80" height="86.69" fill="#e57a7c"/>
<line x1="1750.05" y1="1948.48" x2="1750.05" y2="1953.30" stroke="#1a7a8c" stroke-width="2.4"/>
<line x1="1746.45" y1="1948.48" x2="1753.65" y2="1948.48" stroke="#1a7a8c" stroke-width="2.8"/>
<rect x="1743.15" y="1953.30" width="13.80" height="30.10" fill="#1a7a8c"/>
<line x1="1768.35" y1="1942.46" x2="1768.35" y2="1948.48" stroke="#8db4e2" stroke-width="2.4"/>
<line x1="1764.75" y1="1942.46" x2="1771.95" y2="1942.46" stroke="#8db4e2" stroke-width="2.8"/>
<rect x="1761.45" y="1948.48" width="13.80" height="34.92" fill="#8db4e2"/>
<line x1="1676.85" y1="1726.90" x2="1693.85" y2="1726.90" stroke="#1f1a17" stroke-width="2.6"/>
<text x="1685.35" y="1729.91" font-size="23.5" text-anchor="middle">**</text>
<text x="1713.45" y="1903.11" font-size="23.5" text-anchor="middle">***</text>
<text x="1750.05" y="1950.01" font-size="23.5" text-anchor="middle">***</text>
<line x1="1722.60" y1="1983.40" x2="1722.60" y2="1991.40" stroke="#1f1a17" stroke-width="2.6"/>
<line x1="1797.25" y1="1859.39" x2="1797.25" y2="1863.00" stroke="#000000" stroke-width="2.4"/>
<line x1="1793.65" y1="1859.39" x2="1800.85" y2="1859.39" stroke="#000000" stroke-width="2.8"/>
<rect x="1790.35" y="1863.00" width="13.80" height="120.40" fill="#000000"/>
<line x1="1815.55" y1="1797.98" x2="1815.55" y2="1801.60" stroke="#5e5e5e" stroke-width="2.4"/>
<line x1="1811.95" y1="1797.98" x2="1819.15" y2="1797.98" stroke="#5e5e5e" stroke-width="2.8"/>
<rect x="1808.65" y="1801.60" width="13.80" height="181.80" fill="#5e5e5e"/>
<line x1="1833.85" y1="1885.88" x2="1833.85" y2="1893.10" stroke="#8b1d23" stroke-width="2.4"/>
<line x1="1830.25" y1="1885.88" x2="1837.45" y2="1885.88" stroke="#8b1d23" stroke-width="2.8"/>
<rect x="1826.95" y="1893.10" width="13.80" height="90.30" fill="#8b1d23"/>
<line x1="1852.15" y1="1909.96" x2="1852.15" y2="1911.16" stroke="#e57a7c" stroke-width="2.4"/>
<line x1="1848.55" y1="1909.96" x2="1855.75" y2="1909.96" stroke="#e57a7c" stroke-width="2.8"/>
<rect x="1845.25" y="1911.16" width="13.80" height="72.24" fill="#e57a7c"/>
<line x1="1870.45" y1="1890.69" x2="1870.45" y2="1899.12" stroke="#1a7a8c" stroke-width="2.4"/>
<line x1="1866.85" y1="1890.69" x2="1874.05" y2="1890.69" stroke="#1a7a8c" stroke-width="2.8"/>
<rect x="1863.55" y="1899.12" width="13.80" height="84.28" fill="#1a7a8c"/>
<line x1="1888.75" y1="1896.71" x2="1888.75" y2="1903.94" stroke="#8db4e2" stroke-width="2.4"/>
<line x1="1885.15" y1="1896.71" x2="1892.35" y2="1896.71" stroke="#8db4e2" stroke-width="2.8"/>
<rect x="1881.85" y="1903.94" width="13.80" height="79.46" fill="#8db4e2"/>
<line x1="1797.25" y1="1789.70" x2="1814.25" y2="1789.70" stroke="#1f1a17" stroke-width="2.6"/>
<text x="1805.75" y="1792.71" font-size="23.5" text-anchor="middle">***</text>
<text x="1833.85" y="1888.71" font-size="23.5" text-anchor="middle">*</text>
<text x="1870.45" y="1892.71" font-size="23.5" text-anchor="middle">*</text>
<line x1="1843.00" y1="1983.40" x2="1843.00" y2="1991.40" stroke="#1f1a17" stroke-width="2.6"/>
<text x="1120.60" y="2015.18" font-size="15.30" text-anchor="middle" font-style="italic">c-Myc</text>
<text x="1241.05" y="2015.18" font-size="15.30" text-anchor="middle" font-style="italic">CCND1</text>
<text x="1361.50" y="2015.18" font-size="15.30" text-anchor="middle" font-style="italic">BCL2</text>
<text x="1481.95" y="2015.18" font-size="15.30" text-anchor="middle" font-style="italic">BCL2L1</text>
<text x="1602.40" y="2015.18" font-size="15.30" text-anchor="middle" font-style="italic">BIRC5</text>
<text x="1722.85" y="2015.18" font-size="15.30" text-anchor="middle" font-style="italic">MMP9</text>
<text x="1843.30" y="2015.18" font-size="15.30" text-anchor="middle" font-style="italic">MCL1</text>
<text x="552.20" y="2114.40" font-size="42.00" font-weight="bold">G</text>
<rect x="836.00" y="2084.40" width="26.50" height="13.60" fill="#000000"/>
<text x="879.00" y="2098.86" font-size="21.40">pLVX-puro</text>
<rect x="836.00" y="2118.20" width="26.50" height="13.60" fill="#5e5e5e"/>
<text x="879.00" y="2132.66" font-size="21.40">pLVX-puro + IL-6</text>
<rect x="1071.00" y="2084.40" width="26.50" height="13.60" fill="#581f4b"/>
<text x="1112.50" y="2098.86" font-size="21.40">pLVX-GMDS-AS1</text>
<rect x="1071.00" y="2118.20" width="26.50" height="13.60" fill="#d6a6a8"/>
<text x="1112.50" y="2132.66" font-size="21.40">pLVX-GMDS-AS1 + IL-6</text>
<line x1="669.00" y1="2108.50" x2="669.00" y2="2156.50" stroke="#1f1a17" stroke-width="3.0"/>
<line x1="662.50" y1="2156.50" x2="675.50" y2="2156.50" stroke="#1f1a17" stroke-width="3.0"/>
<line x1="669.00" y1="2175.00" x2="669.00" y2="2435.50" stroke="#1f1a17" stroke-width="3.0"/>
<line x1="662.50" y1="2175.00" x2="675.50" y2="2175.00" stroke="#1f1a17" stroke-width="3.0"/>
<line x1="667.50" y1="2434.00" x2="1618.20" y2="2434.00" stroke="#1f1a17" stroke-width="3.0"/>
<line x1="659.00" y1="2109.50" x2="669.00" y2="2109.50" stroke="#1f1a17" stroke-width="3.0"/>
<text x="655.00" y="2116.34" font-size="19.10" text-anchor="end">1500</text>
<line x1="659.00" y1="2140.00" x2="669.00" y2="2140.00" stroke="#1f1a17" stroke-width="3.0"/>
<text x="655.00" y="2146.84" font-size="19.10" text-anchor="end">1000</text>
<line x1="659.00" y1="2191.50" x2="669.00" y2="2191.50" stroke="#1f1a17" stroke-width="3.0"/>
<text x="655.00" y="2198.34" font-size="19.10" text-anchor="end">1.5</text>
<line x1="659.00" y1="2272.50" x2="669.00" y2="2272.50" stroke="#1f1a17" stroke-width="3.0"/>
<text x="655.00" y="2279.34" font-size="19.10" text-anchor="end">1.0</text>
<line x1="659.00" y1="2353.50" x2="669.00" y2="2353.50" stroke="#1f1a17" stroke-width="3.0"/>
<text x="655.00" y="2360.34" font-size="19.10" text-anchor="end">0.5</text>
<line x1="659.00" y1="2434.00" x2="669.00" y2="2434.00" stroke="#1f1a17" stroke-width="3.0"/>
<text x="655.00" y="2440.84" font-size="19.10" text-anchor="end">0.0</text>
<text x="570.00" y="2296.74" font-size="25.80" text-anchor="middle" transform="rotate(-90 570.00 2287.50)">Relative  expression</text>
<text x="602.50" y="2296.92" font-size="26.30" text-anchor="middle" transform="rotate(-90 602.50 2287.50)">(Fold change)</text>
<line x1="688.25" y1="2262.28" x2="688.25" y2="2272.00" stroke="#000000" stroke-width="2.6"/>
<line x1="683.65" y1="2262.28" x2="692.85" y2="2262.28" stroke="#000000" stroke-width="3.0"/>
<rect x="678.50" y="2272.00" width="19.50" height="162.00" fill="#000000"/>
<line x1="717.75" y1="2223.40" x2="717.75" y2="2226.64" stroke="#5e5e5e" stroke-width="2.6"/>
<line x1="713.15" y1="2223.40" x2="722.35" y2="2223.40" stroke="#5e5e5e" stroke-width="3.0"/>
<rect x="708.00" y="2226.64" width="19.50" height="207.36" fill="#5e5e5e"/>
<line x1="747.25" y1="2233.12" x2="747.25" y2="2237.98" stroke="#581f4b" stroke-width="2.6"/>
<line x1="742.65" y1="2233.12" x2="751.85" y2="2233.12" stroke="#581f4b" stroke-width="3.0"/>
<rect x="737.50" y="2237.98" width="19.50" height="196.02" fill="#581f4b"/>
<line x1="776.75" y1="2182.90" x2="776.75" y2="2192.62" stroke="#d6a6a8" stroke-width="2.6"/>
<line x1="772.15" y1="2182.90" x2="781.35" y2="2182.90" stroke="#d6a6a8" stroke-width="3.0"/>
<rect x="767.00" y="2192.62" width="19.50" height="241.38" fill="#d6a6a8"/>
<line x1="732.50" y1="2434.00" x2="732.50" y2="2443.00" stroke="#1f1a17" stroke-width="2.6"/>
<text x="732.50" y="2465.45" font-size="19.40" text-anchor="middle" font-style="italic">BCL2L1</text>
<line x1="824.75" y1="2268.76" x2="824.75" y2="2272.00" stroke="#000000" stroke-width="2.6"/>
<line x1="820.15" y1="2268.76" x2="829.35" y2="2268.76" stroke="#000000" stroke-width="3.0"/>
<rect x="815.00" y="2272.00" width="19.50" height="162.00" fill="#000000"/>
<line x1="854.25" y1="2255.80" x2="854.25" y2="2257.42" stroke="#5e5e5e" stroke-width="2.6"/>
<line x1="849.65" y1="2255.80" x2="858.85" y2="2255.80" stroke="#5e5e5e" stroke-width="3.0"/>
<rect x="844.50" y="2257.42" width="19.50" height="176.58" fill="#5e5e5e"/>
<line x1="883.75" y1="2241.22" x2="883.75" y2="2246.08" stroke="#581f4b" stroke-width="2.6"/>
<line x1="879.15" y1="2241.22" x2="888.35" y2="2241.22" stroke="#581f4b" stroke-width="3.0"/>
<rect x="874.00" y="2246.08" width="19.50" height="187.92" fill="#581f4b"/>
<line x1="913.25" y1="2225.02" x2="913.25" y2="2226.64" stroke="#d6a6a8" stroke-width="2.6"/>
<line x1="908.65" y1="2225.02" x2="917.85" y2="2225.02" stroke="#d6a6a8" stroke-width="3.0"/>
<rect x="903.50" y="2226.64" width="19.50" height="207.36" fill="#d6a6a8"/>
<line x1="869.00" y1="2434.00" x2="869.00" y2="2443.00" stroke="#1f1a17" stroke-width="2.6"/>
<text x="869.00" y="2465.45" font-size="19.40" text-anchor="middle" font-style="italic">BCL2</text>
<line x1="961.25" y1="2265.52" x2="961.25" y2="2272.00" stroke="#000000" stroke-width="2.6"/>
<line x1="956.65" y1="2265.52" x2="965.85" y2="2265.52" stroke="#000000" stroke-width="3.0"/>
<rect x="951.50" y="2272.00" width="19.50" height="162.00" fill="#000000"/>
<line x1="990.75" y1="2241.22" x2="990.75" y2="2247.70" stroke="#5e5e5e" stroke-width="2.6"/>
<line x1="986.15" y1="2241.22" x2="995.35" y2="2241.22" stroke="#5e5e5e" stroke-width="3.0"/>
<rect x="981.00" y="2247.70" width="19.50" height="186.30" fill="#5e5e5e"/>
<line x1="1020.25" y1="2223.40" x2="1020.25" y2="2234.74" stroke="#581f4b" stroke-width="2.6"/>
<line x1="1015.65" y1="2223.40" x2="1024.85" y2="2223.40" stroke="#581f4b" stroke-width="3.0"/>
<rect x="1010.50" y="2234.74" width="19.50" height="199.26" fill="#581f4b"/>
<line x1="1049.75" y1="2195.86" x2="1049.75" y2="2200.72" stroke="#d6a6a8" stroke-width="2.6"/>
<line x1="1045.15" y1="2195.86" x2="1054.35" y2="2195.86" stroke="#d6a6a8" stroke-width="3.0"/>
<rect x="1040.00" y="2200.72" width="19.50" height="233.28" fill="#d6a6a8"/>
<line x1="1005.50" y1="2434.00" x2="1005.50" y2="2443.00" stroke="#1f1a17" stroke-width="2.6"/>
<text x="1005.50" y="2465.45" font-size="19.40" text-anchor="middle" font-style="italic">BIRC5</text>
<line x1="1096.75" y1="2259.04" x2="1096.75" y2="2272.00" stroke="#000000" stroke-width="2.6"/>
<line x1="1092.15" y1="2259.04" x2="1101.35" y2="2259.04" stroke="#000000" stroke-width="3.0"/>
<rect x="1087.00" y="2272.00" width="19.50" height="162.00" fill="#000000"/>
<line x1="1126.25" y1="2252.56" x2="1126.25" y2="2254.18" stroke="#5e5e5e" stroke-width="2.6"/>
<line x1="1121.65" y1="2252.56" x2="1130.85" y2="2252.56" stroke="#5e5e5e" stroke-width="3.0"/>
<rect x="1116.50" y="2254.18" width="19.50" height="179.82" fill="#5e5e5e"/>
<line x1="1155.75" y1="2239.60" x2="1155.75" y2="2242.84" stroke="#581f4b" stroke-width="2.6"/>
<line x1="1151.15" y1="2239.60" x2="1160.35" y2="2239.60" stroke="#581f4b" stroke-width="3.0"/>
<rect x="1146.00" y="2242.84" width="19.50" height="191.16" fill="#581f4b"/>
<line x1="1185.25" y1="2218.54" x2="1185.25" y2="2221.78" stroke="#d6a6a8" stroke-width="2.6"/>
<line x1="1180.65" y1="2218.54" x2="1189.85" y2="2218.54" stroke="#d6a6a8" stroke-width="3.0"/>
<rect x="1175.50" y="2221.78" width="19.50" height="212.22" fill="#d6a6a8"/>
<line x1="1141.00" y1="2434.00" x2="1141.00" y2="2443.00" stroke="#1f1a17" stroke-width="2.6"/>
<text x="1141.00" y="2465.45" font-size="19.40" text-anchor="middle" font-style="italic">c-Myc</text>
<line x1="1234.25" y1="2270.38" x2="1234.25" y2="2272.00" stroke="#000000" stroke-width="2.6"/>
<line x1="1229.65" y1="2270.38" x2="1238.85" y2="2270.38" stroke="#000000" stroke-width="3.0"/>
<rect x="1224.50" y="2272.00" width="19.50" height="162.00" fill="#000000"/>
<line x1="1263.75" y1="2247.70" x2="1263.75" y2="2255.80" stroke="#5e5e5e" stroke-width="2.6"/>
<line x1="1259.15" y1="2247.70" x2="1268.35" y2="2247.70" stroke="#5e5e5e" stroke-width="3.0"/>
<rect x="1254.00" y="2255.80" width="19.50" height="178.20" fill="#5e5e5e"/>
<line x1="1293.25" y1="2241.22" x2="1293.25" y2="2244.46" stroke="#581f4b" stroke-width="2.6"/>
<line x1="1288.65" y1="2241.22" x2="1297.85" y2="2241.22" stroke="#581f4b" stroke-width="3.0"/>
<rect x="1283.50" y="2244.46" width="19.50" height="189.54" fill="#581f4b"/>
<line x1="1322.75" y1="2207.20" x2="1322.75" y2="2216.92" stroke="#d6a6a8" stroke-width="2.6"/>
<line x1="1318.15" y1="2207.20" x2="1327.35" y2="2207.20" stroke="#d6a6a8" stroke-width="3.0"/>
<rect x="1313.00" y="2216.92" width="19.50" height="217.08" fill="#d6a6a8"/>
<line x1="1278.50" y1="2434.00" x2="1278.50" y2="2443.00" stroke="#1f1a17" stroke-width="2.6"/>
<text x="1278.50" y="2465.45" font-size="19.40" text-anchor="middle" font-style="italic">CCND1</text>
<line x1="1370.55" y1="2256.60" x2="1370.55" y2="2273.50" stroke="#000000" stroke-width="2.6"/>
<line x1="1365.95" y1="2256.60" x2="1375.15" y2="2256.60" stroke="#000000" stroke-width="3.0"/>
<rect x="1361.55" y="2273.50" width="18.00" height="160.50" fill="#000000"/>
<line x1="1399.85" y1="2180.20" x2="1399.85" y2="2205.70" stroke="#5e5e5e" stroke-width="2.6"/>
<line x1="1395.25" y1="2180.20" x2="1404.45" y2="2180.20" stroke="#5e5e5e" stroke-width="3.0"/>
<rect x="1390.85" y="2205.70" width="18.00" height="228.30" fill="#5e5e5e"/>
<line x1="1429.15" y1="2148.00" x2="1429.15" y2="2150.00" stroke="#581f4b" stroke-width="2.6"/>
<line x1="1424.55" y1="2148.00" x2="1433.75" y2="2148.00" stroke="#581f4b" stroke-width="3.0"/>
<rect x="1420.15" y="2150.00" width="18.00" height="284.00" fill="#581f4b"/>
<line x1="1458.45" y1="2119.50" x2="1458.45" y2="2124.60" stroke="#d6a6a8" stroke-width="2.6"/>
<line x1="1453.85" y1="2119.50" x2="1463.05" y2="2119.50" stroke="#d6a6a8" stroke-width="3.0"/>
<rect x="1449.45" y="2124.60" width="18.00" height="309.40" fill="#d6a6a8"/>
<line x1="1414.50" y1="2434.00" x2="1414.50" y2="2443.00" stroke="#1f1a17" stroke-width="2.6"/>
<text x="1414.50" y="2465.45" font-size="19.40" text-anchor="middle" font-style="italic">GMDS-AS1</text>
<line x1="1507.65" y1="2264.00" x2="1507.65" y2="2273.50" stroke="#000000" stroke-width="2.6"/>
<line x1="1503.05" y1="2264.00" x2="1512.25" y2="2264.00" stroke="#000000" stroke-width="3.0"/>
<rect x="1498.65" y="2273.50" width="18.00" height="160.50" fill="#000000"/>
<line x1="1536.95" y1="2253.90" x2="1536.95" y2="2259.80" stroke="#5e5e5e" stroke-width="2.6"/>
<line x1="1532.35" y1="2253.90" x2="1541.55" y2="2253.90" stroke="#5e5e5e" stroke-width="3.0"/>
<rect x="1527.95" y="2259.80" width="18.00" height="174.20" fill="#5e5e5e"/>
<line x1="1566.25" y1="2241.00" x2="1566.25" y2="2242.50" stroke="#581f4b" stroke-width="2.6"/>
<line x1="1561.65" y1="2241.00" x2="1570.85" y2="2241.00" stroke="#581f4b" stroke-width="3.0"/>
<rect x="1557.25" y="2242.50" width="18.00" height="191.50" fill="#581f4b"/>
<line x1="1595.55" y1="2215.50" x2="1595.55" y2="2219.40" stroke="#d6a6a8" stroke-width="2.6"/>
<line x1="1590.95" y1="2215.50" x2="1600.15" y2="2215.50" stroke="#d6a6a8" stroke-width="3.0"/>
<rect x="1586.55" y="2219.40" width="18.00" height="214.60" fill="#d6a6a8"/>
<line x1="1551.60" y1="2434.00" x2="1551.60" y2="2443.00" stroke="#1f1a17" stroke-width="2.6"/>
<text x="1551.60" y="2465.45" font-size="19.40" text-anchor="middle" font-style="italic">MCL1</text>
<line x1="687.50" y1="2206.50" x2="747.50" y2="2206.50" stroke="#1f1a17" stroke-width="3.0"/>
<text x="719.00" y="2208.53" font-size="27" text-anchor="middle">**</text>
<line x1="711.50" y1="2166.50" x2="776.50" y2="2166.50" stroke="#1f1a17" stroke-width="3.0"/>
<text x="745.50" y="2168.53" font-size="27" text-anchor="middle">**</text>
<line x1="825.00" y1="2233.00" x2="885.00" y2="2233.00" stroke="#1f1a17" stroke-width="3.0"/>
<text x="856.50" y="2235.03" font-size="27" text-anchor="middle">**</text>
<line x1="853.50" y1="2201.00" x2="916.00" y2="2201.00" stroke="#1f1a17" stroke-width="3.0"/>
<text x="886.25" y="2203.03" font-size="27" text-anchor="middle">***</text>
<line x1="961.00" y1="2213.50" x2="1021.50" y2="2213.50" stroke="#1f1a17" stroke-width="3.0"/>
<text x="992.75" y="2215.53" font-size="27" text-anchor="middle">**</text>
<line x1="990.00" y1="2181.50" x2="1048.50" y2="2181.50" stroke="#1f1a17" stroke-width="3.0"/>
<text x="1020.75" y="2183.53" font-size="27" text-anchor="middle">***</text>
<line x1="1098.00" y1="2228.50" x2="1158.50" y2="2228.50" stroke="#1f1a17" stroke-width="3.0"/>
<text x="1129.75" y="2230.53" font-size="27" text-anchor="middle">*</text>
<line x1="1123.50" y1="2192.50" x2="1185.00" y2="2192.50" stroke="#1f1a17" stroke-width="3.0"/>
<text x="1155.75" y="2194.53" font-size="27" text-anchor="middle">***</text>
<line x1="1234.00" y1="2230.00" x2="1292.50" y2="2230.00" stroke="#1f1a17" stroke-width="3.0"/>
<text x="1264.75" y="2232.03" font-size="27" text-anchor="middle">***</text>
<line x1="1261.00" y1="2192.50" x2="1319.00" y2="2192.50" stroke="#1f1a17" stroke-width="3.0"/>
<text x="1291.50" y="2194.53" font-size="27" text-anchor="middle">**</text>
<line x1="1372.20" y1="2142.30" x2="1431.40" y2="2142.30" stroke="#1f1a17" stroke-width="3.0"/>
<text x="1403.30" y="2144.33" font-size="27" text-anchor="middle">***</text>
<line x1="1398.00" y1="2106.20" x2="1460.30" y2="2106.20" stroke="#1f1a17" stroke-width="3.0"/>
<text x="1430.65" y="2108.22" font-size="27" text-anchor="middle">***</text>
<line x1="1507.30" y1="2233.10" x2="1568.50" y2="2233.10" stroke="#1f1a17" stroke-width="3.0"/>
<text x="1539.40" y="2235.12" font-size="27" text-anchor="middle">**</text>
<line x1="1535.00" y1="2196.00" x2="1595.50" y2="2196.00" stroke="#1f1a17" stroke-width="3.0"/>
<text x="1566.75" y="2198.03" font-size="27" text-anchor="middle">***</text>
<defs><filter id="bblur" x="-20%" y="-50%" width="140%" height="200%"><feGaussianBlur stdDeviation="1.3"/></filter></defs>
<text x="14.00" y="2114.50" font-size="41.00" font-weight="bold">F</text>
<text x="188.00" y="2110.74" font-size="20.50" text-anchor="middle">GMDS-AS1</text>
<line x1="99.00" y1="2117.90" x2="264.20" y2="2117.90" stroke="#1f1a17" stroke-width="2.8"/>
<text x="116.50" y="2185.00" font-size="20.00" transform="rotate(-50 116.50 2185.00)">shCtrl</text>
<text x="163.00" y="2185.00" font-size="20.00" transform="rotate(-50 163.00 2185.00)">shRNA1</text>
<text x="211.00" y="2185.00" font-size="20.00" transform="rotate(-50 211.00 2185.00)">shRNA2</text>
<rect x="101.10" y="2196.00" width="123.10" height="24.00" fill="#e9e9e9"/>
<clipPath id="clip996_21945"><rect x="102.60" y="2197.50" width="120.10" height="21.00"/></clipPath>
<g clip-path="url(#clip996_21945)" filter="url(#bblur)">
<rect x="108.50" y="2202.30" width="22.50" height="5.20" rx="2.86" ry="2.60" fill="#050505" fill-opacity="1.0"/>
<rect x="151.90" y="2202.00" width="22.60" height="4.00" rx="2.20" ry="2.00" fill="#050505" fill-opacity="0.25"/>
<rect x="193.00" y="2201.80" width="23.00" height="4.40" rx="2.42" ry="2.20" fill="#050505" fill-opacity="0.35"/>
</g>
<rect x="103.20" y="2198.10" width="118.90" height="19.80" fill="none" stroke="#fafafa" stroke-width="1.3"/>
<rect x="101.10" y="2196.00" width="123.10" height="24.00" fill="none" stroke="#231815" stroke-width="3.0"/>
<rect x="101.10" y="2242.50" width="123.10" height="23.80" fill="#e9e9e9"/>
<clipPath id="clip996_22410"><rect x="102.60" y="2244.00" width="120.10" height="20.80"/></clipPath>
<g clip-path="url(#clip996_22410)" filter="url(#bblur)">
<rect x="107.90" y="2248.80" width="27.90" height="6.00" rx="3.30" ry="3.00" fill="#050505" fill-opacity="1.0"/>
<rect x="149.50" y="2248.50" width="26.80" height="5.60" rx="3.08" ry="2.80" fill="#050505" fill-opacity="0.95"/>
<rect x="188.20" y="2247.80" width="27.40" height="6.00" rx="3.30" ry="3.00" fill="#050505" fill-opacity="1.0"/>
</g>
<rect x="103.20" y="2244.60" width="118.90" height="19.60" fill="none" stroke="#fafafa" stroke-width="1.3"/>
<rect x="101.10" y="2242.50" width="123.10" height="23.80" fill="none" stroke="#231815" stroke-width="3.0"/>
<rect x="101.10" y="2281.00" width="123.10" height="23.80" fill="#e9e9e9"/>
<clipPath id="clip996_22795"><rect x="102.60" y="2282.50" width="120.10" height="20.80"/></clipPath>
<g clip-path="url(#clip996_22795)" filter="url(#bblur)">
<rect x="106.00" y="2288.10" width="36.00" height="9.00" rx="4.95" ry="4.50" fill="#050505" fill-opacity="1.0"/>
<rect x="148.00" y="2288.00" width="31.00" height="8.40" rx="4.62" ry="4.20" fill="#050505" fill-opacity="1.0"/>
<rect x="186.00" y="2289.00" width="32.00" height="6.80" rx="3.74" ry="3.40" fill="#050505" fill-opacity="0.85"/>
</g>
<rect x="103.20" y="2283.10" width="118.90" height="19.60" fill="none" stroke="#fafafa" stroke-width="1.3"/>
<rect x="101.10" y="2281.00" width="123.10" height="23.80" fill="none" stroke="#231815" stroke-width="3.0"/>
<rect x="101.10" y="2330.90" width="123.10" height="23.60" fill="#e9e9e9"/>
<clipPath id="clip996_23294"><rect x="102.60" y="2332.40" width="120.10" height="20.60"/></clipPath>
<g clip-path="url(#clip996_23294)" filter="url(#bblur)">
<rect x="106.00" y="2339.70" width="31.00" height="6.40" rx="3.52" ry="3.20" fill="#050505" fill-opacity="1.0"/>
<rect x="146.00" y="2338.90" width="32.00" height="7.20" rx="3.96" ry="3.60" fill="#050505" fill-opacity="1.0"/>
<rect x="184.00" y="2339.10" width="33.00" height="6.80" rx="3.74" ry="3.40" fill="#050505" fill-opacity="1.0"/>
</g>
<rect x="103.20" y="2333.00" width="118.90" height="19.40" fill="none" stroke="#fafafa" stroke-width="1.3"/>
<rect x="101.10" y="2330.90" width="123.10" height="23.60" fill="none" stroke="#231815" stroke-width="3.0"/>
<rect x="101.10" y="2374.30" width="123.10" height="41.20" fill="#e9e9e9"/>
<clipPath id="clip996_23728"><rect x="102.60" y="2375.80" width="120.10" height="38.20"/></clipPath>
<g clip-path="url(#clip996_23728)" filter="url(#bblur)">
<rect x="105.00" y="2383.00" width="35.00" height="25.00" rx="13.75" ry="12.50" fill="#050505" fill-opacity="1.0"/>
<rect x="146.00" y="2388.70" width="33.00" height="15.60" rx="8.58" ry="7.80" fill="#050505" fill-opacity="1.0"/>
<rect x="185.00" y="2388.30" width="34.00" height="14.40" rx="7.92" ry="7.20" fill="#050505" fill-opacity="1.0"/>
<rect x="146.00" y="2379.50" width="33.00" height="7.00" rx="3.85" ry="3.50" fill="#050505" fill-opacity="0.3"/>
<rect x="185.00" y="2379.50" width="34.00" height="7.00" rx="3.85" ry="3.50" fill="#050505" fill-opacity="0.3"/>
</g>
<rect x="103.20" y="2376.40" width="118.90" height="37.00" fill="none" stroke="#fafafa" stroke-width="1.3"/>
<rect x="101.10" y="2374.30" width="123.10" height="41.20" fill="none" stroke="#231815" stroke-width="3.0"/>
<rect x="101.10" y="2440.20" width="123.10" height="20.50" fill="#e9e9e9"/>
<clipPath id="clip996_24387"><rect x="102.60" y="2441.70" width="120.10" height="17.50"/></clipPath>
<g clip-path="url(#clip996_24387)" filter="url(#bblur)">
<rect x="106.00" y="2446.70" width="31.00" height="5.20" rx="2.86" ry="2.60" fill="#050505" fill-opacity="1.0"/>
<rect x="146.00" y="2447.00" width="32.00" height="5.20" rx="2.86" ry="2.60" fill="#050505" fill-opacity="1.0"/>
<rect x="184.00" y="2446.70" width="33.00" height="5.20" rx="2.86" ry="2.60" fill="#050505" fill-opacity="1.0"/>
</g>
<rect x="103.20" y="2442.30" width="118.90" height="16.30" fill="none" stroke="#fafafa" stroke-width="1.3"/>
<rect x="101.10" y="2440.20" width="123.10" height="20.50" fill="none" stroke="#231815" stroke-width="3.0"/>
<text x="91.60" y="2216.20" font-size="21.50" text-anchor="end">BCL2</text>
<text x="91.60" y="2262.70" font-size="21.50" text-anchor="end">β-actin</text>
<text x="91.60" y="2301.70" font-size="21.50" text-anchor="end">Cyclin D1</text>
<text x="91.60" y="2352.70" font-size="21.50" text-anchor="end">β-actin</text>
<text x="91.60" y="2400.40" font-size="21.50" text-anchor="end">c-Myc</text>
<text x="91.60" y="2455.70" font-size="21.50" text-anchor="end">β-actin</text>
<text x="122.40" y="2237.37" font-size="15.00" text-anchor="middle">1.0</text>
<text x="162.60" y="2237.37" font-size="15.00" text-anchor="middle">0.41</text>
<text x="203.00" y="2237.37" font-size="15.00" text-anchor="middle">0.47</text>
<text x="122.40" y="2321.57" font-size="15.00" text-anchor="middle">1.0</text>
<text x="162.60" y="2321.57" font-size="15.00" text-anchor="middle">0.83</text>
<text x="203.00" y="2321.57" font-size="15.00" text-anchor="middle">0.73</text>
<text x="122.40" y="2434.37" font-size="15.00" text-anchor="middle">1.0</text>
<text x="162.60" y="2434.37" font-size="15.00" text-anchor="middle">0.71</text>
<text x="203.00" y="2434.37" font-size="15.00" text-anchor="middle">0.60</text>
<text x="230.80" y="2208.73" font-size="13.20">-25 kDa</text>
<text x="230.80" y="2262.43" font-size="13.20">-40 kDa</text>
<text x="230.80" y="2297.73" font-size="13.20">-35 kDa</text>
<text x="230.80" y="2353.03" font-size="13.20">-40 kDa</text>
<text x="230.80" y="2409.73" font-size="13.20">-55 kDa</text>
<text x="230.80" y="2461.73" font-size="13.20">-40 kDa</text>
<text x="160.70" y="2488.88" font-size="22.00" text-anchor="middle">HCT116</text>
<text x="445.20" y="2109.14" font-size="20.50" text-anchor="middle">GMDS-AS1</text>
<line x1="359.00" y1="2116.00" x2="525.60" y2="2116.00" stroke="#1f1a17" stroke-width="2.8"/>
<text x="373.80" y="2185.00" font-size="20.00" transform="rotate(-50 373.80 2185.00)">shCtrl</text>
<text x="421.80" y="2185.00" font-size="20.00" transform="rotate(-50 421.80 2185.00)">shRNA1</text>
<text x="471.00" y="2185.00" font-size="20.00" transform="rotate(-50 471.00 2185.00)">shRNA2</text>
<rect x="365.70" y="2197.10" width="126.20" height="18.70" fill="#e9e9e9"/>
<clipPath id="clip3642_21956"><rect x="367.20" y="2198.60" width="123.20" height="15.70"/></clipPath>
<g clip-path="url(#clip3642_21956)" filter="url(#bblur)">
<rect x="368.00" y="2204.20" width="43.00" height="6.00" rx="3.30" ry="3.00" fill="#050505" fill-opacity="1.0"/>
<rect x="414.70" y="2204.30" width="28.90" height="4.40" rx="2.42" ry="2.20" fill="#050505" fill-opacity="0.25"/>
<rect x="450.00" y="2204.30" width="35.00" height="4.40" rx="2.42" ry="2.20" fill="#050505" fill-opacity="0.12"/>
</g>
<rect x="367.80" y="2199.20" width="122.00" height="14.50" fill="none" stroke="#fafafa" stroke-width="1.3"/>
<rect x="365.70" y="2197.10" width="126.20" height="18.70" fill="none" stroke="#231815" stroke-width="3.0"/>
<rect x="365.70" y="2247.00" width="126.20" height="18.30" fill="#e9e9e9"/>
<clipPath id="clip3642_22455"><rect x="367.20" y="2248.50" width="123.20" height="15.30"/></clipPath>
<g clip-path="url(#clip3642_22455)" filter="url(#bblur)">
<rect x="366.00" y="2251.70" width="126.00" height="10.00" rx="5.50" ry="5.00" fill="#050505" fill-opacity="1.0"/>
</g>
<rect x="367.80" y="2249.10" width="122.00" height="14.10" fill="none" stroke="#fafafa" stroke-width="1.3"/>
<rect x="365.70" y="2247.00" width="126.20" height="18.30" fill="none" stroke="#231815" stroke-width="3.0"/>
<rect x="367.00" y="2285.50" width="126.50" height="30.60" fill="#e9e9e9"/>
<clipPath id="clip3655_22840"><rect x="368.50" y="2287.00" width="123.50" height="27.60"/></clipPath>
<g clip-path="url(#clip3655_22840)" filter="url(#bblur)">
<rect x="366.00" y="2290.50" width="46.00" height="23.00" rx="12.65" ry="11.50" fill="#050505" fill-opacity="1.0"/>
<rect x="416.00" y="2294.70" width="35.00" height="13.60" rx="7.48" ry="6.80" fill="#050505" fill-opacity="1.0"/>
<rect x="456.00" y="2296.30" width="32.00" height="10.40" rx="5.72" ry="5.20" fill="#050505" fill-opacity="0.45"/>
</g>
<rect x="369.10" y="2287.60" width="122.30" height="26.40" fill="none" stroke="#fafafa" stroke-width="1.3"/>
<rect x="367.00" y="2285.50" width="126.50" height="30.60" fill="none" stroke="#231815" stroke-width="3.0"/>
<rect x="367.00" y="2345.00" width="126.50" height="30.50" fill="#e9e9e9"/>
<clipPath id="clip3655_23435"><rect x="368.50" y="2346.50" width="123.50" height="27.50"/></clipPath>
<g clip-path="url(#clip3655_23435)" filter="url(#bblur)">
<rect x="370.00" y="2356.90" width="35.00" height="7.20" rx="3.96" ry="3.60" fill="#050505" fill-opacity="1.0"/>
<rect x="411.00" y="2356.70" width="37.00" height="7.60" rx="4.18" ry="3.80" fill="#050505" fill-opacity="1.0"/>
<rect x="452.00" y="2356.00" width="37.00" height="8.00" rx="4.40" ry="4.00" fill="#050505" fill-opacity="1.0"/>
</g>
<rect x="369.10" y="2347.10" width="122.30" height="26.30" fill="none" stroke="#fafafa" stroke-width="1.3"/>
<rect x="367.00" y="2345.00" width="126.50" height="30.50" fill="none" stroke="#231815" stroke-width="3.0"/>
<text x="356.80" y="2215.60" font-size="21.50" text-anchor="end">BCL2</text>
<text x="356.80" y="2264.40" font-size="21.50" text-anchor="end">β-actin</text>
<text x="356.80" y="2308.70" font-size="21.50" text-anchor="end">c-Myc</text>
<text x="356.80" y="2369.70" font-size="21.50" text-anchor="end">β-actin</text>
<text x="384.00" y="2232.37" font-size="15.00" text-anchor="middle">1.0</text>
<text x="428.50" y="2232.37" font-size="15.00" text-anchor="middle">0.23</text>
<text x="471.50" y="2232.37" font-size="15.00" text-anchor="middle">0.21</text>
<text x="385.70" y="2332.77" font-size="15.00" text-anchor="middle">1.0</text>
<text x="430.00" y="2332.77" font-size="15.00" text-anchor="middle">0.56</text>
<text x="473.00" y="2332.77" font-size="15.00" text-anchor="middle">0.25</text>
<text x="498.20" y="2208.43" font-size="13.20">-25 kDa</text>
<text x="498.20" y="2267.73" font-size="13.20">-40 kDa</text>
<text x="498.20" y="2314.73" font-size="13.20">-55 kDa</text>
<text x="498.20" y="2372.73" font-size="13.20">-40 kDa</text>
<text x="431.40" y="2405.38" font-size="22.00" text-anchor="middle">SW620</text>
<text x="1631.40" y="2114.50" font-size="41.00" font-weight="bold">H</text>
<text x="1739.00" y="2162.00" font-size="20.30" transform="rotate(-35.5 1739.00 2162.00)">pLVX-VECTOR</text>
<text x="1779.00" y="2162.00" font-size="20.30" transform="rotate(-35.5 1779.00 2162.00)">pLVX-GMDS-AS1</text>
<rect x="1717.50" y="2171.10" width="94.40" height="27.30" fill="#e9e9e9"/>
<clipPath id="clip17161_21697"><rect x="1718.90" y="2172.50" width="91.60" height="24.50"/></clipPath>
<g clip-path="url(#clip17161_21697)" filter="url(#bblur)">
<rect x="1720.00" y="2183.00" width="40.00" height="8.00" rx="4.40" ry="4.00" fill="#050505" fill-opacity="0.55"/>
<rect x="1720.00" y="2176.50" width="40.00" height="5.00" rx="2.75" ry="2.50" fill="#050505" fill-opacity="0.3"/>
<rect x="1762.00" y="2175.00" width="46.00" height="20.00" rx="11.00" ry="10.00" fill="#050505" fill-opacity="1.0"/>
</g>
<rect x="1719.50" y="2173.10" width="90.40" height="23.30" fill="none" stroke="#fafafa" stroke-width="1.3"/>
<rect x="1717.50" y="2171.10" width="94.40" height="27.30" fill="none" stroke="#231815" stroke-width="2.8"/>
<rect x="1717.50" y="2219.30" width="94.40" height="18.80" fill="#e9e9e9"/>
<clipPath id="clip17161_22179"><rect x="1718.90" y="2220.70" width="91.60" height="16.00"/></clipPath>
<g clip-path="url(#clip17161_22179)" filter="url(#bblur)">
<rect x="1722.00" y="2226.00" width="38.00" height="5.00" rx="2.75" ry="2.50" fill="#050505" fill-opacity="0.12"/>
<rect x="1765.00" y="2224.00" width="41.00" height="7.00" rx="3.85" ry="3.50" fill="#050505" fill-opacity="0.55"/>
</g>
<rect x="1719.50" y="2221.30" width="90.40" height="14.80" fill="none" stroke="#fafafa" stroke-width="1.3"/>
<rect x="1717.50" y="2219.30" width="94.40" height="18.80" fill="none" stroke="#231815" stroke-width="2.8"/>
<rect x="1717.50" y="2259.20" width="94.40" height="27.80" fill="#e9e9e9"/>
<clipPath id="clip17161_22578"><rect x="1718.90" y="2260.60" width="91.60" height="25.00"/></clipPath>
<g clip-path="url(#clip17161_22578)" filter="url(#bblur)">
<rect x="1722.00" y="2268.80" width="40.00" height="6.40" rx="3.52" ry="3.20" fill="#050505" fill-opacity="0.35"/>
<rect x="1771.00" y="2264.50" width="35.00" height="15.00" rx="8.25" ry="7.50" fill="#050505" fill-opacity="1.0"/>
</g>
<rect x="1719.50" y="2261.20" width="90.40" height="23.80" fill="none" stroke="#fafafa" stroke-width="1.3"/>
<rect x="1717.50" y="2259.20" width="94.40" height="27.80" fill="none" stroke="#231815" stroke-width="2.8"/>
<rect x="1717.50" y="2308.20" width="94.40" height="26.90" fill="#e9e9e9"/>
<clipPath id="clip17161_23068"><rect x="1718.90" y="2309.60" width="91.60" height="24.10"/></clipPath>
<g clip-path="url(#clip17161_23068)" filter="url(#bblur)">
<rect x="1722.00" y="2316.50" width="36.00" height="7.00" rx="3.85" ry="3.50" fill="#050505" fill-opacity="0.9"/>
<rect x="1763.00" y="2310.00" width="46.00" height="21.00" rx="11.55" ry="10.50" fill="#050505" fill-opacity="1.0"/>
</g>
<rect x="1719.50" y="2310.20" width="90.40" height="22.90" fill="none" stroke="#fafafa" stroke-width="1.3"/>
<rect x="1717.50" y="2308.20" width="94.40" height="26.90" fill="none" stroke="#231815" stroke-width="2.8"/>
<rect x="1717.50" y="2357.90" width="94.40" height="22.30" fill="#e9e9e9"/>
<clipPath id="clip17161_23565"><rect x="1718.90" y="2359.30" width="91.60" height="19.50"/></clipPath>
<g clip-path="url(#clip17161_23565)" filter="url(#bblur)">
<rect x="1722.00" y="2365.40" width="38.00" height="5.20" rx="2.86" ry="2.60" fill="#050505" fill-opacity="0.25"/>
<rect x="1764.00" y="2361.00" width="44.00" height="15.00" rx="8.25" ry="7.50" fill="#050505" fill-opacity="1.0"/>
</g>
<rect x="1719.50" y="2359.90" width="90.40" height="18.30" fill="none" stroke="#fafafa" stroke-width="1.3"/>
<rect x="1717.50" y="2357.90" width="94.40" height="22.30" fill="none" stroke="#231815" stroke-width="2.8"/>
<rect x="1717.50" y="2403.40" width="94.40" height="26.90" fill="#e9e9e9"/>
<clipPath id="clip17161_24020"><rect x="1718.90" y="2404.80" width="91.60" height="24.10"/></clipPath>
<g clip-path="url(#clip17161_24020)" filter="url(#bblur)">
<rect x="1721.00" y="2412.00" width="41.00" height="8.00" rx="4.40" ry="4.00" fill="#050505" fill-opacity="0.95"/>
<rect x="1763.00" y="2410.00" width="46.00" height="13.00" rx="7.15" ry="6.50" fill="#050505" fill-opacity="1.0"/>
</g>
<rect x="1719.50" y="2405.40" width="90.40" height="22.90" fill="none" stroke="#fafafa" stroke-width="1.3"/>
<rect x="1717.50" y="2403.40" width="94.40" height="26.90" fill="none" stroke="#231815" stroke-width="2.8"/>
<rect x="1717.50" y="2454.30" width="94.40" height="19.10" fill="#e9e9e9"/>
<clipPath id="clip17161_24529"><rect x="1718.90" y="2455.70" width="91.60" height="16.30"/></clipPath>
<g clip-path="url(#clip17161_24529)" filter="url(#bblur)">
<rect x="1721.00" y="2460.00" width="41.00" height="7.00" rx="3.85" ry="3.50" fill="#050505" fill-opacity="1.0"/>
<rect x="1763.00" y="2459.70" width="46.00" height="7.60" rx="4.18" ry="3.80" fill="#050505" fill-opacity="1.0"/>
</g>
<rect x="1719.50" y="2456.30" width="90.40" height="15.10" fill="none" stroke="#fafafa" stroke-width="1.3"/>
<rect x="1717.50" y="2454.30" width="94.40" height="19.10" fill="none" stroke="#231815" stroke-width="2.8"/>
<text x="1711.40" y="2193.16" font-size="20.00" text-anchor="end">c-Myc</text>
<text x="1711.40" y="2237.56" font-size="20.00" text-anchor="end">Cyclin D1</text>
<text x="1711.40" y="2280.66" font-size="20.00" text-anchor="end">BCL2</text>
<text x="1711.40" y="2327.66" font-size="20.00" text-anchor="end">STAT3</text>
<text x="1711.40" y="2376.56" font-size="20.00" text-anchor="end">p-STAT3</text>
<text x="1711.40" y="2424.36" font-size="20.00" text-anchor="end">HuR</text>
<text x="1711.40" y="2469.46" font-size="20.00" text-anchor="end">β-actin</text>
<text x="1741.60" y="2213.19" font-size="14.50" text-anchor="middle">1.0</text>
<text x="1786.60" y="2213.19" font-size="14.50" text-anchor="middle">1.64</text>
<text x="1741.60" y="2254.39" font-size="14.50" text-anchor="middle">1.0</text>
<text x="1786.60" y="2254.39" font-size="14.50" text-anchor="middle">2.47</text>
<text x="1741.60" y="2302.19" font-size="14.50" text-anchor="middle">1.0</text>
<text x="1786.60" y="2302.19" font-size="14.50" text-anchor="middle">2.93</text>
<text x="1741.60" y="2351.19" font-size="14.50" text-anchor="middle">1.0</text>
<text x="1786.60" y="2351.19" font-size="14.50" text-anchor="middle">2.31</text>
<text x="1741.60" y="2397.39" font-size="14.50" text-anchor="middle">1.0</text>
<text x="1786.60" y="2397.39" font-size="14.50" text-anchor="middle">3.98</text>
<text x="1741.60" y="2447.09" font-size="14.50" text-anchor="middle">1.0</text>
<text x="1786.60" y="2447.09" font-size="14.50" text-anchor="middle">1.33</text>
<text x="1819.50" y="2196.76" font-size="13.30">-55 kDa</text>
<text x="1819.50" y="2237.06" font-size="13.30">-35 kDa</text>
<text x="1819.50" y="2280.16" font-size="13.30">-25 kDa</text>
<text x="1819.50" y="2322.06" font-size="13.30">-88 kDa</text>
<text x="1819.50" y="2376.96" font-size="13.30">-88 kDa</text>
<text x="1819.50" y="2416.46" font-size="13.30">-35 kDa</text>
<text x="1819.50" y="2473.26" font-size="13.30">-40 kDa</text>
<text x="1771.00" y="2496.88" font-size="22.00" text-anchor="middle">RKO</text>
</svg>
</body></html>
